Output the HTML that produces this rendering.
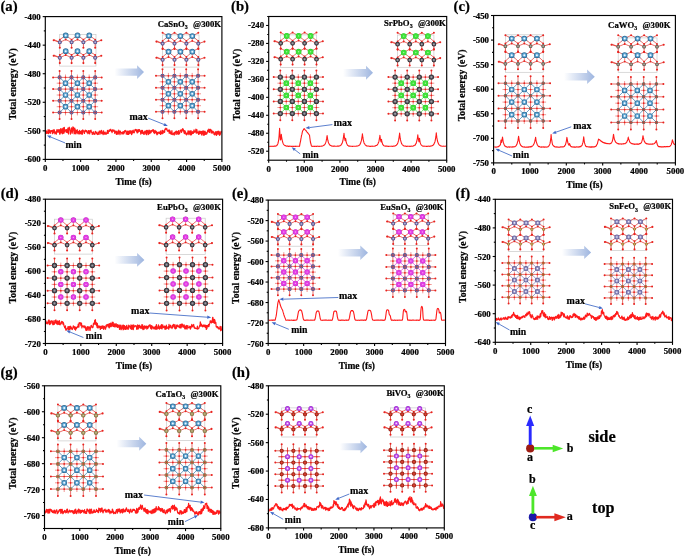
<!DOCTYPE html>
<html><head><meta charset="utf-8"><style>
html,body{margin:0;padding:0;background:#fff;overflow:hidden;}
svg{display:block;will-change:transform;}
text{font-family:"Liberation Serif", serif;stroke:#000;stroke-width:0.22px;}
</style></head><body>
<svg width="685" height="556" viewBox="0 0 685 556">
<rect width="685" height="556" fill="#fff"/>
<defs><linearGradient id="ga" x1="0" x2="1" y1="0" y2="0"><stop offset="0" stop-color="#ffffff"/><stop offset="0.25" stop-color="#e6ecf7"/><stop offset="0.75" stop-color="#b7c8e7"/><stop offset="1" stop-color="#9db5e0"/></linearGradient></defs>
<rect x="59.7" y="34.4" width="36.3" height="31.7" fill="none" stroke="#c9c9c9" stroke-width="0.7"/>
<rect x="162.6" y="34.9" width="36.4" height="32.2" fill="none" stroke="#c9c9c9" stroke-width="0.7"/>
<path d="M65.7 35.4L59.8 39.6M65.7 35.4L71.6 39.6M77.5 35.4L71.6 39.6M77.5 35.4L83.4 39.6M89.3 35.4L83.4 39.6M89.3 35.4L95.2 39.6M59.8 42.3L59.8 39.6M59.8 42.3L53.9 39.6M59.8 42.3L65.7 39.6M71.6 42.3L71.6 39.6M71.6 42.3L65.7 39.6M71.6 42.3L77.5 39.6M83.4 42.3L83.4 39.6M83.4 42.3L77.5 39.6M83.4 42.3L89.3 39.6M95.2 42.3L95.2 39.6M95.2 42.3L89.3 39.6M65.7 51.2L59.8 55M65.7 51.2L71.6 55M77.5 51.2L71.6 55M77.5 51.2L83.4 55M89.3 51.2L83.4 55M89.3 51.2L95.2 55M59.8 57.7L59.8 55M59.8 57.7L53.9 55M59.8 57.7L65.7 55M71.6 57.7L71.6 55M71.6 57.7L65.7 55M71.6 57.7L77.5 55M83.4 57.7L83.4 55M83.4 57.7L77.5 55M83.4 57.7L89.3 55M95.2 57.7L95.2 55M95.2 57.7L89.3 55M53.1 77.4L101.7 77.4M53.1 89.1L101.7 89.1M53.1 100.8L101.7 100.8M53.1 112.5L101.7 112.5M59.6 71L59.6 118.9M71.5 71L71.5 118.9M83.3 71L83.3 118.9M95.2 71L95.2 118.9M168.5 36.1L162.6 32.8M168.5 36.1L162.6 40.9M168.5 36.1L174.5 32.8M168.5 36.1L174.5 40.9M180.4 36.1L174.5 32.8M180.4 36.1L174.5 40.9M180.4 36.1L186.4 32.8M180.4 36.1L186.4 40.9M192.3 36.1L186.4 32.8M192.3 36.1L186.4 40.9M192.3 36.1L198.3 32.8M192.3 36.1L198.3 40.9M162.6 43.6L162.6 40.9M162.6 43.6L156.7 40.9M162.6 43.6L168.5 40.9M174.5 43.6L174.5 40.9M174.5 43.6L168.6 40.9M174.5 43.6L180.4 40.9M186.4 43.6L186.4 40.9M186.4 43.6L180.5 40.9M186.4 43.6L192.3 40.9M198.3 43.6L198.3 40.9M198.3 43.6L192.4 40.9M168.5 51.7L162.6 48.4M168.5 51.7L162.6 57M168.5 51.7L174.5 48.4M168.5 51.7L174.5 57M180.4 51.7L174.5 48.4M180.4 51.7L174.5 57M180.4 51.7L186.4 48.4M180.4 51.7L186.4 57M192.3 51.7L186.4 48.4M192.3 51.7L186.4 57M192.3 51.7L198.3 48.4M192.3 51.7L198.3 57M162.6 59.7L162.6 57M162.6 59.7L156.7 57M162.6 59.7L168.5 57M174.5 59.7L174.5 57M174.5 59.7L168.6 57M174.5 59.7L180.4 57M186.4 59.7L186.4 57M186.4 59.7L180.5 57M186.4 59.7L192.3 57M198.3 59.7L198.3 57M198.3 59.7L192.4 57M156 75.8L204.6 75.8M156 87.8L204.6 87.8M156 99.7L204.6 99.7M156 111.7L204.6 111.7M162.5 69.2L162.5 118.3M174.4 69.2L174.4 118.3M186.2 69.2L186.2 118.3M198.1 69.2L198.1 118.3" stroke="#e3322b" stroke-width="0.7" fill="none"/>
<path d="M65.7 35.4L62.8 37.5M65.7 35.4L68.7 37.5M77.5 35.4L74.5 37.5M77.5 35.4L80.5 37.5M89.3 35.4L86.3 37.5M89.3 35.4L92.2 37.5M65.7 51.2L62.8 53.1M65.7 51.2L68.7 53.1M77.5 51.2L74.5 53.1M77.5 51.2L80.5 53.1M89.3 51.2L86.3 53.1M89.3 51.2L92.2 53.1M168.5 36.1L165.6 34.5M168.5 36.1L165.6 38.5M168.5 36.1L171.5 34.5M168.5 36.1L171.5 38.5M180.4 36.1L177.5 34.5M180.4 36.1L177.5 38.5M180.4 36.1L183.4 34.5M180.4 36.1L183.4 38.5M192.3 36.1L189.4 34.5M192.3 36.1L189.4 38.5M192.3 36.1L195.3 34.5M192.3 36.1L195.3 38.5M168.5 51.7L165.6 50.1M168.5 51.7L165.6 54.4M168.5 51.7L171.5 50.1M168.5 51.7L171.5 54.4M180.4 51.7L177.5 50.1M180.4 51.7L177.5 54.4M180.4 51.7L183.4 50.1M180.4 51.7L183.4 54.4M192.3 51.7L189.4 50.1M192.3 51.7L189.4 54.4M192.3 51.7L195.3 50.1M192.3 51.7L195.3 54.4" stroke="#4a88b8" stroke-width="0.7" fill="none"/>
<path d="M65.7 35.4L65.7 39.6M77.5 35.4L77.5 39.6M89.3 35.4L89.3 39.6M65.7 51.2L65.7 55M77.5 51.2L77.5 55M89.3 51.2L89.3 55M168.5 36.1L168.5 40.9M180.4 36.1L180.4 40.9M192.3 36.1L192.3 40.9M168.5 51.7L168.5 57M180.4 51.7L180.4 57M192.3 51.7L192.3 57" stroke="#e3322b" stroke-width="0.6" fill="none"/>
<path d="M59.8 42.3L59.8 47.7M71.6 42.3L71.6 47.7M83.4 42.3L83.4 47.7M95.2 42.3L95.2 47.7M53.7 40.3L59.8 42.3M101.3 40.3L95.2 42.3M59.8 57.7L59.8 63.1M71.6 57.7L71.6 63.1M83.4 57.7L83.4 63.1M95.2 57.7L95.2 63.1M53.7 55.7L59.8 57.7M101.3 55.7L95.2 57.7M162.6 43.6L162.6 49M174.5 43.6L174.5 49M186.4 43.6L186.4 49M198.3 43.6L198.3 49M156.4 41.6L162.6 43.6M204.5 41.6L198.3 43.6M162.6 59.7L162.6 65.1M174.5 59.7L174.5 65.1M186.4 59.7L186.4 65.1M198.3 59.7L198.3 65.1M156.4 57.7L162.6 59.7M204.5 57.7L198.3 59.7" stroke="#e3322b" stroke-width="0.8" fill="none"/>
<path d="M56.7 83.2L62.5 83.2M68.5 83.2L74.4 83.2M80.4 83.2L86.2 83.2M92.2 83.2L98.1 83.2M56.7 95L62.5 95M68.5 95L74.4 95M80.4 95L86.2 95M92.2 95L98.1 95M56.7 106.7L62.5 106.7M68.5 106.7L74.4 106.7M80.4 106.7L86.2 106.7M92.2 106.7L98.1 106.7M65.5 74.5L65.5 80.3M65.5 86.2L65.5 92M65.5 97.9L65.5 103.7M65.5 109.6L65.5 115.4M77.4 74.5L77.4 80.3M77.4 86.2L77.4 92M77.4 97.9L77.4 103.7M77.4 109.6L77.4 115.4M89.2 74.5L89.2 80.3M89.2 86.2L89.2 92M89.2 97.9L89.2 103.7M89.2 109.6L89.2 115.4M159.6 81.8L165.4 81.8M171.5 81.8L177.3 81.8M183.3 81.8L189.1 81.8M195.2 81.8L201 81.8M159.6 93.8L165.4 93.8M171.5 93.8L177.3 93.8M183.3 93.8L189.1 93.8M195.2 93.8L201 93.8M159.6 105.7L165.4 105.7M171.5 105.7L177.3 105.7M183.3 105.7L189.1 105.7M195.2 105.7L201 105.7M168.4 72.9L168.4 78.7M168.4 84.9L168.4 90.7M168.4 96.8L168.4 102.6M168.4 108.8L168.4 114.6M180.3 72.9L180.3 78.7M180.3 84.9L180.3 90.7M180.3 96.8L180.3 102.6M180.3 108.8L180.3 114.6M192.2 72.9L192.2 78.7M192.2 84.9L192.2 90.7M192.2 96.8L192.2 102.6M192.2 108.8L192.2 114.6" stroke="#e3322b" stroke-width="0.6" opacity="0.85" fill="none"/>
<path d="M65.5 83.2L59.6 77.4M65.5 83.2L59.6 89.1M65.5 83.2L71.5 77.4M65.5 83.2L71.5 89.1M77.4 83.2L71.5 77.4M77.4 83.2L71.5 89.1M77.4 83.2L83.3 77.4M77.4 83.2L83.3 89.1M89.2 83.2L83.3 77.4M89.2 83.2L83.3 89.1M89.2 83.2L95.1 77.4M89.2 83.2L95.1 89.1M65.5 95L59.6 89.1M65.5 95L59.6 100.8M65.5 95L71.5 89.1M65.5 95L71.5 100.8M77.4 95L71.5 89.1M77.4 95L71.5 100.8M77.4 95L83.3 89.1M77.4 95L83.3 100.8M89.2 95L83.3 89.1M89.2 95L83.3 100.8M89.2 95L95.1 89.1M89.2 95L95.1 100.8M65.5 106.7L59.6 100.8M65.5 106.7L59.6 112.5M65.5 106.7L71.5 100.8M65.5 106.7L71.5 112.5M77.4 106.7L71.5 100.8M77.4 106.7L71.5 112.5M77.4 106.7L83.3 100.8M77.4 106.7L83.3 112.5M89.2 106.7L83.3 100.8M89.2 106.7L83.3 112.5M89.2 106.7L95.1 100.8M89.2 106.7L95.1 112.5M168.4 81.8L162.5 75.8M168.4 81.8L162.5 87.8M168.4 81.8L174.4 75.8M168.4 81.8L174.4 87.8M180.3 81.8L174.4 75.8M180.3 81.8L174.4 87.8M180.3 81.8L186.2 75.8M180.3 81.8L186.2 87.8M192.2 81.8L186.2 75.8M192.2 81.8L186.2 87.8M192.2 81.8L198.1 75.8M192.2 81.8L198.1 87.8M168.4 93.8L162.5 87.8M168.4 93.8L162.5 99.7M168.4 93.8L174.4 87.8M168.4 93.8L174.4 99.7M180.3 93.8L174.4 87.8M180.3 93.8L174.4 99.7M180.3 93.8L186.2 87.8M180.3 93.8L186.2 99.7M192.2 93.8L186.2 87.8M192.2 93.8L186.2 99.7M192.2 93.8L198.1 87.8M192.2 93.8L198.1 99.7M168.4 105.7L162.5 99.7M168.4 105.7L162.5 111.7M168.4 105.7L174.4 99.7M168.4 105.7L174.4 111.7M180.3 105.7L174.4 99.7M180.3 105.7L174.4 111.7M180.3 105.7L186.2 99.7M180.3 105.7L186.2 111.7M192.2 105.7L186.2 99.7M192.2 105.7L186.2 111.7M192.2 105.7L198.1 99.7M192.2 105.7L198.1 111.7" stroke="#4a88b8" stroke-width="0.8" fill="none"/>
<path d="M53.7 40.3h0M101.3 40.3h0M59.8 47.7h0M71.6 47.7h0M83.4 47.7h0M95.2 47.7h0M53.7 55.7h0M101.3 55.7h0M59.8 63.1h0M71.6 63.1h0M83.4 63.1h0M95.2 63.1h0M156.4 41.6h0M204.5 41.6h0M162.6 49h0M174.5 49h0M186.4 49h0M198.3 49h0M156.4 57.7h0M204.5 57.7h0M162.6 65.1h0M174.5 65.1h0M186.4 65.1h0M198.3 65.1h0" stroke="#e8231f" stroke-width="2.1" stroke-linecap="round" fill="none"/>
<path d="M59.8 39.6h0M65.7 39.6h0M71.6 39.6h0M77.5 39.6h0M83.4 39.6h0M89.3 39.6h0M95.2 39.6h0M59.8 55h0M65.7 55h0M71.6 55h0M77.5 55h0M83.4 55h0M89.3 55h0M95.2 55h0M162.6 40.9h0M168.5 40.9h0M174.5 40.9h0M180.4 40.9h0M186.4 40.9h0M192.3 40.9h0M198.3 40.9h0M162.6 57h0M168.5 57h0M174.5 57h0M180.4 57h0M186.4 57h0M192.3 57h0M198.3 57h0" stroke="#e8231f" stroke-width="1.9" stroke-linecap="round" fill="none"/>
<path d="M53.1 77.4h0M101.7 77.4h0M53.1 89.1h0M101.7 89.1h0M53.1 100.8h0M101.7 100.8h0M53.1 112.5h0M101.7 112.5h0M59.6 71h0M59.6 118.9h0M71.5 71h0M71.5 118.9h0M83.3 71h0M83.3 118.9h0M95.2 71h0M95.2 118.9h0M162.6 32.8h0M174.5 32.8h0M186.4 32.8h0M198.3 32.8h0M162.6 48.4h0M174.5 48.4h0M186.4 48.4h0M198.3 48.4h0M156 75.8h0M204.6 75.8h0M156 87.8h0M204.6 87.8h0M156 99.7h0M204.6 99.7h0M156 111.7h0M204.6 111.7h0M162.5 69.2h0M162.5 118.3h0M174.4 69.2h0M174.4 118.3h0M186.2 69.2h0M186.2 118.3h0M198.1 69.2h0M198.1 118.3h0" stroke="#e8231f" stroke-width="2.0" stroke-linecap="round" fill="none"/>
<path d="M65.5 77.4h0M77.4 77.4h0M89.2 77.4h0M65.5 89.1h0M77.4 89.1h0M89.2 89.1h0M65.5 100.8h0M77.4 100.8h0M89.2 100.8h0M65.5 112.5h0M77.4 112.5h0M89.2 112.5h0M59.6 83.2h0M71.5 83.2h0M83.3 83.2h0M95.2 83.2h0M59.6 95h0M71.5 95h0M83.3 95h0M95.2 95h0M59.6 106.7h0M71.5 106.7h0M83.3 106.7h0M95.2 106.7h0M168.4 75.8h0M180.3 75.8h0M192.2 75.8h0M168.4 87.8h0M180.3 87.8h0M192.2 87.8h0M168.4 99.7h0M180.3 99.7h0M192.2 99.7h0M168.4 111.7h0M180.3 111.7h0M192.2 111.7h0M162.5 81.8h0M174.4 81.8h0M186.2 81.8h0M198.1 81.8h0M162.5 93.8h0M174.4 93.8h0M186.2 93.8h0M198.1 93.8h0M162.5 105.7h0M174.4 105.7h0M186.2 105.7h0M198.1 105.7h0" stroke="#e8231f" stroke-width="1.7" stroke-linecap="round" fill="none"/>
<path d="M65.7 35.4h0M77.5 35.4h0M89.3 35.4h0M65.7 51.2h0M77.5 51.2h0M89.3 51.2h0M65.5 83.2h0M77.4 83.2h0M89.2 83.2h0M65.5 95h0M77.4 95h0M89.2 95h0M65.5 106.7h0M77.4 106.7h0M89.2 106.7h0M168.5 36.1h0M180.4 36.1h0M192.3 36.1h0M168.5 51.7h0M180.4 51.7h0M192.3 51.7h0M168.4 81.8h0M180.3 81.8h0M192.2 81.8h0M168.4 93.8h0M180.3 93.8h0M192.2 93.8h0M168.4 105.7h0M180.3 105.7h0M192.2 105.7h0" stroke="#2f6e98" stroke-width="5.7" stroke-linecap="round" fill="none"/>
<path d="M59.8 42.3h0M71.6 42.3h0M83.4 42.3h0M95.2 42.3h0M59.8 57.7h0M71.6 57.7h0M83.4 57.7h0M95.2 57.7h0M59.6 77.4h0M71.5 77.4h0M83.3 77.4h0M95.2 77.4h0M59.6 89.1h0M71.5 89.1h0M83.3 89.1h0M95.2 89.1h0M59.6 100.8h0M71.5 100.8h0M83.3 100.8h0M95.2 100.8h0M59.6 112.5h0M71.5 112.5h0M83.3 112.5h0M95.2 112.5h0M162.6 43.6h0M174.5 43.6h0M186.4 43.6h0M198.3 43.6h0M162.6 59.7h0M174.5 59.7h0M186.4 59.7h0M198.3 59.7h0M162.5 75.8h0M174.4 75.8h0M186.2 75.8h0M198.1 75.8h0M162.5 87.8h0M174.4 87.8h0M186.2 87.8h0M198.1 87.8h0M162.5 99.7h0M174.4 99.7h0M186.2 99.7h0M198.1 99.7h0M162.5 111.7h0M174.4 111.7h0M186.2 111.7h0M198.1 111.7h0" stroke="#4d4a84" stroke-width="4.1" stroke-linecap="round" fill="none"/>
<path d="M65.7 35.4h0M77.5 35.4h0M89.3 35.4h0M65.7 51.2h0M77.5 51.2h0M89.3 51.2h0M65.5 83.2h0M77.4 83.2h0M89.2 83.2h0M65.5 95h0M77.4 95h0M89.2 95h0M65.5 106.7h0M77.4 106.7h0M89.2 106.7h0M168.5 36.1h0M180.4 36.1h0M192.3 36.1h0M168.5 51.7h0M180.4 51.7h0M192.3 51.7h0M168.4 81.8h0M180.3 81.8h0M192.2 81.8h0M168.4 93.8h0M180.3 93.8h0M192.2 93.8h0M168.4 105.7h0M180.3 105.7h0M192.2 105.7h0" stroke="#5ea6d4" stroke-width="4.3" stroke-linecap="round" fill="none"/>
<path d="M59.8 42.3h0M71.6 42.3h0M83.4 42.3h0M95.2 42.3h0M59.8 57.7h0M71.6 57.7h0M83.4 57.7h0M95.2 57.7h0M59.6 77.4h0M71.5 77.4h0M83.3 77.4h0M95.2 77.4h0M59.6 89.1h0M71.5 89.1h0M83.3 89.1h0M95.2 89.1h0M59.6 100.8h0M71.5 100.8h0M83.3 100.8h0M95.2 100.8h0M59.6 112.5h0M71.5 112.5h0M83.3 112.5h0M95.2 112.5h0M162.6 43.6h0M174.5 43.6h0M186.4 43.6h0M198.3 43.6h0M162.6 59.7h0M174.5 59.7h0M186.4 59.7h0M198.3 59.7h0M162.5 75.8h0M174.4 75.8h0M186.2 75.8h0M198.1 75.8h0M162.5 87.8h0M174.4 87.8h0M186.2 87.8h0M198.1 87.8h0M162.5 99.7h0M174.4 99.7h0M186.2 99.7h0M198.1 99.7h0M162.5 111.7h0M174.4 111.7h0M186.2 111.7h0M198.1 111.7h0" stroke="#7471a8" stroke-width="3.1" stroke-linecap="round" fill="none"/>
<path d="M65.7 35.4h0M77.5 35.4h0M89.3 35.4h0M65.7 51.2h0M77.5 51.2h0M89.3 51.2h0M65.5 83.2h0M77.4 83.2h0M89.2 83.2h0M65.5 95h0M77.4 95h0M89.2 95h0M65.5 106.7h0M77.4 106.7h0M89.2 106.7h0M168.5 36.1h0M180.4 36.1h0M192.3 36.1h0M168.5 51.7h0M180.4 51.7h0M192.3 51.7h0M168.4 81.8h0M180.3 81.8h0M192.2 81.8h0M168.4 93.8h0M180.3 93.8h0M192.2 93.8h0M168.4 105.7h0M180.3 105.7h0M192.2 105.7h0" stroke="#f0f8ff" stroke-width="2.0" stroke-linecap="round" fill="none"/>
<path d="M59.8 42.3h0M71.6 42.3h0M83.4 42.3h0M95.2 42.3h0M59.8 57.7h0M71.6 57.7h0M83.4 57.7h0M95.2 57.7h0M162.6 43.6h0M174.5 43.6h0M186.4 43.6h0M198.3 43.6h0M162.6 59.7h0M174.5 59.7h0M186.4 59.7h0M198.3 59.7h0" stroke="#cfcde8" stroke-width="1.4" stroke-linecap="round" fill="none"/>
<path d="M59.6 77.4h0M71.5 77.4h0M83.3 77.4h0M95.2 77.4h0M59.6 89.1h0M71.5 89.1h0M83.3 89.1h0M95.2 89.1h0M59.6 100.8h0M71.5 100.8h0M83.3 100.8h0M95.2 100.8h0M59.6 112.5h0M71.5 112.5h0M83.3 112.5h0M95.2 112.5h0M162.5 75.8h0M174.4 75.8h0M186.2 75.8h0M198.1 75.8h0M162.5 87.8h0M174.4 87.8h0M186.2 87.8h0M198.1 87.8h0M162.5 99.7h0M174.4 99.7h0M186.2 99.7h0M198.1 99.7h0M162.5 111.7h0M174.4 111.7h0M186.2 111.7h0M198.1 111.7h0" stroke="#d0302a" stroke-width="1.6" stroke-linecap="round" fill="none"/>
<path d="M114.50,68.45 L137.10,68.45 L137.10,65.25 L144.00,72.10 L137.10,78.95 L137.10,75.75 L114.50,75.75 Z" fill="url(#ga)"/>
<polyline points="45.8,130.4 46.1,133.2 46.5,131.2 46.8,133.4 47.1,133.2 47.5,132.2 47.8,132.1 48.1,129.7 48.4,133.6 48.8,133.3 49.1,131.2 49.4,129.9 49.8,131.6 50.1,132.7 50.4,133.3 50.8,130.7 51.1,131 51.4,130.7 51.7,131.5 52.1,130.4 52.4,133.6 52.7,130.7 53.1,132.1 53.4,129.9 53.7,133 54,130.1 54.4,129.9 54.7,132 55,133.8 55.4,132.5 55.7,133 56,131.7 56.4,134.1 56.7,130.6 57,129.5 57.4,132.2 57.7,131.8 58,130.3 58.3,129.7 58.7,132.2 59,130.4 59.3,129.8 59.7,134.2 60,134.1 60.3,129.7 60.6,128.7 61,132.8 61.3,131.2 61.6,132.7 62,128.5 62.3,133.8 62.6,132.6 63,133.5 63.3,127.9 63.6,131 64,133.1 64.3,127.4 64.6,131.8 64.9,130.8 65.3,130.9 65.6,130.7 65.9,129.5 66.3,132.4 66.6,129.6 66.9,131 67.2,132.3 67.6,130.8 67.9,128.1 68.2,133.2 68.6,134 68.9,127.7 69.2,127.2 69.6,128.2 69.9,130 70.2,130 70.5,134.2 70.9,131.7 71.2,130.8 71.5,127.8 71.9,130.1 72.2,133.3 72.5,130.8 72.9,126.9 73.2,129.1 73.5,127.4 73.8,131 74.2,133.8 74.5,133.3 74.8,128 75.2,133.5 75.5,129.8 75.8,133.9 76.2,130.6 76.5,132.8 76.8,131.7 77.2,129.7 77.5,131.7 77.8,133.7 78.1,131.5 78.5,131.9 78.8,131.5 79.1,134.2 79.5,130.4 79.8,131.9 80.1,133.4 80.5,133.7 80.8,131.5 81.1,131.1 81.4,133.9 81.8,130.7 82.1,134.1 82.4,134.1 82.8,129.8 83.1,131 83.4,130.8 83.8,131 84.1,132.8 84.4,133.5 84.7,132.1 85.1,130.5 85.4,130.2 85.7,131.2 86.1,131.4 86.4,130.6 86.7,130.6 87,132.6 87.4,131.9 87.7,132.9 88,133.8 88.4,130.5 88.7,130.5 89,131.1 89.4,133.6 89.7,133.9 90,130.7 90.3,131 90.7,131.8 91,130 91.3,131.8 91.7,132.6 92,132.4 92.3,134.4 92.7,133.3 93,134.2 93.3,131.8 93.7,132.8 94,133.4 94.3,134.4 94.6,134 95,134.2 95.3,131.3 95.6,131.8 96,132.5 96.3,132.8 96.6,133.7 97,132 97.3,134.3 97.6,134.5 97.9,134 98.3,134.3 98.6,132.3 98.9,132.2 99.3,131 99.6,131 99.9,134.3 100.2,131.1 100.6,131 100.9,132.9 101.2,133.2 101.6,130.4 101.9,133.7 102.2,131.8 102.6,133.6 102.9,133 103.2,134.6 103.5,130.8 103.9,132 104.2,132.6 104.5,134.2 104.9,133.5 105.2,132 105.5,134.1 105.9,133.6 106.2,133.7 106.5,134.1 106.8,132.6 107.2,132.3 107.5,130.4 107.8,133.5 108.2,133.4 108.5,130.9 108.8,131.2 109.2,129.9 109.5,131.3 109.8,130.9 110.2,129.6 110.5,129.8 110.8,129.2 111.1,130.7 111.5,131.5 111.8,130.7 112.1,132.7 112.5,130.4 112.8,129.6 113.1,131 113.5,130.5 113.8,131.4 114.1,130.2 114.4,130.9 114.8,133.5 115.1,131.2 115.4,132.7 115.8,131.1 116.1,131.2 116.4,134.4 116.8,133.9 117.1,131.2 117.4,132.5 117.7,133.9 118.1,134.4 118.4,133.2 118.7,130.2 119.1,133.1 119.4,131.2 119.7,132.6 120,134.7 120.4,131.1 120.7,132.3 121,132.6 121.4,132.9 121.7,132.6 122,134.2 122.4,132.1 122.7,133.7 123,132 123.3,131.6 123.7,133.8 124,132.5 124.3,132.8 124.7,130.5 125,131 125.3,131.4 125.7,130.4 126,131.7 126.3,134.2 126.7,133.6 127,133.7 127.3,131 127.6,134.5 128,134 128.3,131.1 128.6,134.5 129,132.7 129.3,133.6 129.6,130.8 129.9,131 130.3,133.2 130.6,130.8 130.9,130.7 131.3,133.6 131.6,134.7 131.9,133.8 132.3,130.8 132.6,132.7 132.9,132.9 133.2,130.2 133.6,132.5 133.9,132.2 134.2,132.8 134.6,131.4 134.9,130.1 135.2,129.4 135.6,130.3 135.9,129.7 136.2,130.4 136.6,131.9 136.9,129.5 137.2,132.9 137.5,130.1 137.9,132.6 138.2,131.5 138.5,129.7 138.9,131.5 139.2,129.7 139.5,129.7 139.8,131.2 140.2,131.6 140.5,131.8 140.8,134.1 141.2,130.3 141.5,130.8 141.8,133.1 142.2,130.7 142.5,130.4 142.8,133.5 143.2,133.6 143.5,134 143.8,132.1 144.1,134.5 144.5,132.7 144.8,131.2 145.1,132.6 145.5,132.4 145.8,133.9 146.1,130.5 146.4,134.7 146.8,130.3 147.1,130.4 147.4,133 147.8,130.9 148.1,134.6 148.4,134.4 148.8,130.9 149.1,130 149.4,132.6 149.8,133.7 150.1,130.6 150.4,132.9 150.7,132.6 151.1,132.7 151.4,130.5 151.7,130.5 152.1,131.1 152.4,129.8 152.7,131.1 153.1,129.8 153.4,129.7 153.7,132.6 154,130.8 154.4,133.1 154.7,133.5 155,130.4 155.4,131.1 155.7,132.6 156,131.9 156.3,131.3 156.7,134.1 157,134.8 157.3,132.6 157.7,134.2 158,132.1 158.3,132.2 158.7,132.8 159,133.3 159.3,132 159.7,133.6 160,133.6 160.3,131.6 160.6,134.5 161,130.5 161.3,133.1 161.6,133.4 162,133.7 162.3,133.3 162.6,130.4 162.9,133.7 163.3,132.3 163.6,131 163.9,131.8 164.3,130.7 164.6,132.5 164.9,129 165.3,129.2 165.6,129.4 165.9,128.2 166.2,128.7 166.6,129.3 166.9,128.8 167.2,130.6 167.6,131.2 167.9,131.3 168.2,130.6 168.6,131.3 168.9,129.9 169.2,133.3 169.6,130.2 169.9,130.7 170.2,131.4 170.5,133.4 170.9,132.2 171.2,134.4 171.5,134 171.9,130.7 172.2,133.8 172.5,134.3 172.8,134.6 173.2,133.7 173.5,133.7 173.8,132.9 174.2,135.1 174.5,132.4 174.8,132.5 175.2,134.2 175.5,131.5 175.8,131.5 176.2,131.1 176.5,131.3 176.8,134.4 177.1,133.7 177.5,131.6 177.8,133.6 178.1,133.1 178.5,130.6 178.8,134.4 179.1,132.7 179.4,133.6 179.8,132.9 180.1,130.4 180.4,130.9 180.8,130.2 181.1,129.8 181.4,132.3 181.8,131.7 182.1,130.9 182.4,129.2 182.8,128.6 183.1,130.1 183.4,129.5 183.7,131.4 184.1,132.9 184.4,133.6 184.7,130.5 185.1,131 185.4,132 185.7,133.6 186.1,134.6 186.4,133 186.7,134.8 187,134 187.4,132.9 187.7,134 188,130.8 188.4,131 188.7,133.9 189,134.7 189.3,131 189.7,133.3 190,131.2 190.3,134 190.7,134.9 191,130.6 191.3,134.9 191.7,133.8 192,133.9 192.3,131.5 192.7,133.3 193,132.8 193.3,133.4 193.6,131.9 194,129.8 194.3,131.6 194.6,132.3 195,131.3 195.3,131.8 195.6,131.5 195.9,129.2 196.3,133.1 196.6,132.6 196.9,129.6 197.3,133 197.6,133 197.9,132.3 198.3,132.7 198.6,134.5 198.9,131.2 199.2,132.2 199.6,133.9 199.9,131.1 200.2,131.2 200.6,132.4 200.9,133.7 201.2,131.7 201.6,135 201.9,131.3 202.2,133.6 202.6,131.5 202.9,130.9 203.2,135.1 203.5,131 203.9,135.2 204.2,131.9 204.5,134.9 204.9,131 205.2,132 205.5,134.5 205.8,132.3 206.2,132.8 206.5,134.2 206.8,133.8 207.2,132.7 207.5,131.5 207.8,130.2 208.2,129.8 208.5,131.5 208.8,129 209.2,132.5 209.5,132.4 209.8,130.2 210.1,129.3 210.5,129.9 210.8,129.5 211.1,132.8 211.5,131.2 211.8,130.4 212.1,133.1 212.4,132.9 212.8,132.7 213.1,131.4 213.4,132.2 213.8,132.8 214.1,134.6 214.4,134.8 214.8,134.3 215.1,132.5 215.4,131.7 215.8,134.1 216.1,134.7 216.4,135.4 216.7,131.5 217.1,132 217.4,134 217.7,131.4 218.1,134.7 218.4,133.6 218.7,131.2 219.1,133.4 219.4,131.9 219.7,135.5 220,133.3 220.4,134.3 220.7,133.2 221,131.3 221.4,132.6" fill="none" stroke="#ff1a1a" stroke-width="1.2" stroke-linejoin="round"/>
<rect x="45.30" y="16.60" width="176.60" height="142.80" fill="none" stroke="#000" stroke-width="1.15"/>
<line x1="42.70" y1="159.40" x2="45.30" y2="159.40" stroke="#000" stroke-width="1.1"/>
<text transform="translate(40.70,162.40) scale(1.0,1)" font-size="8.8" text-anchor="end" font-weight="bold" fill="#000">-600</text>
<line x1="43.80" y1="145.12" x2="45.30" y2="145.12" stroke="#000" stroke-width="1.1"/>
<line x1="42.70" y1="130.84" x2="45.30" y2="130.84" stroke="#000" stroke-width="1.1"/>
<text transform="translate(40.70,133.84) scale(1.0,1)" font-size="8.8" text-anchor="end" font-weight="bold" fill="#000">-560</text>
<line x1="43.80" y1="116.56" x2="45.30" y2="116.56" stroke="#000" stroke-width="1.1"/>
<line x1="42.70" y1="102.28" x2="45.30" y2="102.28" stroke="#000" stroke-width="1.1"/>
<text transform="translate(40.70,105.28) scale(1.0,1)" font-size="8.8" text-anchor="end" font-weight="bold" fill="#000">-520</text>
<line x1="43.80" y1="88.00" x2="45.30" y2="88.00" stroke="#000" stroke-width="1.1"/>
<line x1="42.70" y1="73.72" x2="45.30" y2="73.72" stroke="#000" stroke-width="1.1"/>
<text transform="translate(40.70,76.72) scale(1.0,1)" font-size="8.8" text-anchor="end" font-weight="bold" fill="#000">-480</text>
<line x1="43.80" y1="59.44" x2="45.30" y2="59.44" stroke="#000" stroke-width="1.1"/>
<line x1="42.70" y1="45.16" x2="45.30" y2="45.16" stroke="#000" stroke-width="1.1"/>
<text transform="translate(40.70,48.16) scale(1.0,1)" font-size="8.8" text-anchor="end" font-weight="bold" fill="#000">-440</text>
<line x1="43.80" y1="30.88" x2="45.30" y2="30.88" stroke="#000" stroke-width="1.1"/>
<line x1="42.70" y1="16.60" x2="45.30" y2="16.60" stroke="#000" stroke-width="1.1"/>
<text transform="translate(40.70,19.60) scale(1.0,1)" font-size="8.8" text-anchor="end" font-weight="bold" fill="#000">-400</text>
<line x1="45.30" y1="159.40" x2="45.30" y2="162.00" stroke="#000" stroke-width="1.1"/>
<text transform="translate(45.30,170.90) scale(1.0,1)" font-size="8.8" text-anchor="middle" font-weight="bold" fill="#000">0</text>
<line x1="62.96" y1="159.40" x2="62.96" y2="160.90" stroke="#000" stroke-width="1.1"/>
<line x1="80.62" y1="159.40" x2="80.62" y2="162.00" stroke="#000" stroke-width="1.1"/>
<text transform="translate(80.62,170.90) scale(1.0,1)" font-size="8.8" text-anchor="middle" font-weight="bold" fill="#000">1000</text>
<line x1="98.28" y1="159.40" x2="98.28" y2="160.90" stroke="#000" stroke-width="1.1"/>
<line x1="115.94" y1="159.40" x2="115.94" y2="162.00" stroke="#000" stroke-width="1.1"/>
<text transform="translate(115.94,170.90) scale(1.0,1)" font-size="8.8" text-anchor="middle" font-weight="bold" fill="#000">2000</text>
<line x1="133.60" y1="159.40" x2="133.60" y2="160.90" stroke="#000" stroke-width="1.1"/>
<line x1="151.26" y1="159.40" x2="151.26" y2="162.00" stroke="#000" stroke-width="1.1"/>
<text transform="translate(151.26,170.90) scale(1.0,1)" font-size="8.8" text-anchor="middle" font-weight="bold" fill="#000">3000</text>
<line x1="168.92" y1="159.40" x2="168.92" y2="160.90" stroke="#000" stroke-width="1.1"/>
<line x1="186.58" y1="159.40" x2="186.58" y2="162.00" stroke="#000" stroke-width="1.1"/>
<text transform="translate(186.58,170.90) scale(1.0,1)" font-size="8.8" text-anchor="middle" font-weight="bold" fill="#000">4000</text>
<line x1="204.24" y1="159.40" x2="204.24" y2="160.90" stroke="#000" stroke-width="1.1"/>
<line x1="221.90" y1="159.40" x2="221.90" y2="162.00" stroke="#000" stroke-width="1.1"/>
<text transform="translate(221.90,170.90) scale(1.0,1)" font-size="8.8" text-anchor="middle" font-weight="bold" fill="#000">5000</text>
<text transform="translate(133.60,184.60) scale(0.92,1)" font-size="10.3" text-anchor="middle" font-weight="bold" fill="#000">Time (fs)</text>
<text transform="translate(16.30,84.20) rotate(-90) scale(1,0.96)" font-size="9.7" text-anchor="middle" font-weight="bold">Total energy (eV)</text>
<text transform="translate(0.40,10.50) scale(0.97,1)" font-size="15.2" text-anchor="start" font-weight="bold" fill="#000">(a)</text>
<text transform="translate(157.70,27.00) scale(0.99,1)" font-size="8.8" font-weight="bold">CaSnO<tspan font-size="6" dy="2.3">3</tspan><tspan dy="-2.3" dx="5.4" font-size="8.8">@300K</tspan></text>
<text transform="translate(129.40,119.80) scale(0.95,1)" font-size="10.5" text-anchor="start" font-weight="bold" fill="#000">max</text>
<line x1="148.10" y1="118.10" x2="164.09" y2="124.51" stroke="#4a72c8" stroke-width="0.9"/>
<path d="M167.80,126.00 L163.49,126.00 L164.68,123.03 Z" fill="#3f68c8"/>
<text transform="translate(65.50,148.00) scale(0.93,1)" font-size="10.5" text-anchor="start" font-weight="bold" fill="#000">min</text>
<line x1="65.00" y1="142.90" x2="50.70" y2="137.02" stroke="#4a72c8" stroke-width="0.9"/>
<path d="M47.00,135.50 L51.31,135.54 L50.09,138.50 Z" fill="#3f68c8"/>
<rect x="280.4" y="34.9" width="36.3" height="32.7" fill="none" stroke="#c9c9c9" stroke-width="0.7"/>
<rect x="397.6" y="35" width="36.3" height="32.3" fill="none" stroke="#c9c9c9" stroke-width="0.7"/>
<path d="M286.7 35.9L280.7 32.6M286.7 35.9L280.7 40.6M286.7 35.9L292.6 32.6M286.7 35.9L292.6 40.6M298.6 35.9L292.6 32.6M298.6 35.9L292.6 40.6M298.6 35.9L304.6 32.6M298.6 35.9L304.6 40.6M310.6 35.9L304.6 32.6M310.6 35.9L304.6 40.6M310.6 35.9L316.5 32.6M310.6 35.9L316.5 40.6M280.7 43.3L280.7 40.6M280.7 43.3L274.7 40.6M280.7 43.3L286.7 40.6M292.6 43.3L292.6 40.6M292.6 43.3L286.7 40.6M292.6 43.3L298.6 40.6M304.6 43.3L304.6 40.6M304.6 43.3L298.6 40.6M304.6 43.3L310.6 40.6M316.5 43.3L316.5 40.6M316.5 43.3L310.6 40.6M286.7 51.7L280.7 48.4M286.7 51.7L280.7 56.5M286.7 51.7L292.6 48.4M286.7 51.7L292.6 56.5M298.6 51.7L292.6 48.4M298.6 51.7L292.6 56.5M298.6 51.7L304.6 48.4M298.6 51.7L304.6 56.5M310.6 51.7L304.6 48.4M310.6 51.7L304.6 56.5M310.6 51.7L316.5 48.4M310.6 51.7L316.5 56.5M280.7 59.2L280.7 56.5M280.7 59.2L274.7 56.5M280.7 59.2L286.7 56.5M292.6 59.2L292.6 56.5M292.6 59.2L286.7 56.5M292.6 59.2L298.6 56.5M304.6 59.2L304.6 56.5M304.6 59.2L298.6 56.5M304.6 59.2L310.6 56.5M316.5 59.2L316.5 56.5M316.5 59.2L310.6 56.5M273.7 77.1L323 77.1M273.7 89.3L323 89.3M273.7 101.4L323 101.4M273.7 113.6L323 113.6M280.3 70.4L280.3 120.3M292.3 70.4L292.3 120.3M304.4 70.4L304.4 120.3M316.4 70.4L316.4 120.3M403.7 36.1L397.6 32.8M403.7 36.1L397.6 41.5M403.7 36.1L409.7 32.8M403.7 36.1L409.7 41.5M415.8 36.1L409.7 32.8M415.8 36.1L409.7 41.5M415.8 36.1L421.8 32.8M415.8 36.1L421.8 41.5M427.9 36.1L421.8 32.8M427.9 36.1L421.8 41.5M427.9 36.1L433.9 32.8M427.9 36.1L433.9 41.5M397.6 44.2L397.6 41.5M397.6 44.2L391.6 41.5M397.6 44.2L403.7 41.5M409.7 44.2L409.7 41.5M409.7 44.2L403.7 41.5M409.7 44.2L415.8 41.5M421.8 44.2L421.8 41.5M421.8 44.2L415.8 41.5M421.8 44.2L427.9 41.5M433.9 44.2L433.9 41.5M433.9 44.2L427.9 41.5M403.7 52.5L397.6 49.2M403.7 52.5L397.6 57.4M403.7 52.5L409.7 49.2M403.7 52.5L409.7 57.4M415.8 52.5L409.7 49.2M415.8 52.5L409.7 57.4M415.8 52.5L421.8 49.2M415.8 52.5L421.8 57.4M427.9 52.5L421.8 49.2M427.9 52.5L421.8 57.4M427.9 52.5L433.9 49.2M427.9 52.5L433.9 57.4M397.6 60.1L397.6 57.4M397.6 60.1L391.6 57.4M397.6 60.1L403.7 57.4M409.7 60.1L409.7 57.4M409.7 60.1L403.7 57.4M409.7 60.1L415.8 57.4M421.8 60.1L421.8 57.4M421.8 60.1L415.8 57.4M421.8 60.1L427.9 57.4M433.9 60.1L433.9 57.4M433.9 60.1L427.9 57.4M388.4 77.1L438.1 77.1M388.4 89.3L438.1 89.3M388.4 101.6L438.1 101.6M388.4 113.8L438.1 113.8M395.1 70.4L395.1 120.5M407.2 70.4L407.2 120.5M419.3 70.4L419.3 120.5M431.4 70.4L431.4 120.5" stroke="#e3322b" stroke-width="0.7" fill="none"/>
<path d="M286.7 35.9L283.7 34.2M286.7 35.9L283.7 38.2M286.7 35.9L289.7 34.2M286.7 35.9L289.7 38.2M298.6 35.9L295.6 34.2M298.6 35.9L295.6 38.2M298.6 35.9L301.6 34.2M298.6 35.9L301.6 38.2M310.6 35.9L307.6 34.2M310.6 35.9L307.6 38.2M310.6 35.9L313.6 34.2M310.6 35.9L313.6 38.2M286.7 51.7L283.7 50.1M286.7 51.7L283.7 54.1M286.7 51.7L289.7 50.1M286.7 51.7L289.7 54.1M298.6 51.7L295.6 50.1M298.6 51.7L295.6 54.1M298.6 51.7L301.6 50.1M298.6 51.7L301.6 54.1M310.6 51.7L307.6 50.1M310.6 51.7L307.6 54.1M310.6 51.7L313.6 50.1M310.6 51.7L313.6 54.1M403.7 36.1L400.6 34.5M403.7 36.1L400.6 38.8M403.7 36.1L406.7 34.5M403.7 36.1L406.7 38.8M415.8 36.1L412.7 34.5M415.8 36.1L412.7 38.8M415.8 36.1L418.8 34.5M415.8 36.1L418.8 38.8M427.9 36.1L424.8 34.5M427.9 36.1L424.8 38.8M427.9 36.1L430.9 34.5M427.9 36.1L430.9 38.8M403.7 52.5L400.6 50.9M403.7 52.5L400.6 55M403.7 52.5L406.7 50.9M403.7 52.5L406.7 55M415.8 52.5L412.7 50.9M415.8 52.5L412.7 55M415.8 52.5L418.8 50.9M415.8 52.5L418.8 55M427.9 52.5L424.8 50.9M427.9 52.5L424.8 55M427.9 52.5L430.9 50.9M427.9 52.5L430.9 55" stroke="#50dd50" stroke-width="0.7" fill="none"/>
<path d="M286.7 35.9L286.7 40.6M298.6 35.9L298.6 40.6M310.6 35.9L310.6 40.6M286.7 51.7L286.7 56.5M298.6 51.7L298.6 56.5M310.6 51.7L310.6 56.5M403.7 36.1L403.7 41.5M415.8 36.1L415.8 41.5M427.9 36.1L427.9 41.5M403.7 52.5L403.7 57.4M415.8 52.5L415.8 57.4M427.9 52.5L427.9 57.4" stroke="#e3322b" stroke-width="0.6" fill="none"/>
<path d="M280.7 43.3L280.7 48.7M292.6 43.3L292.6 48.7M304.6 43.3L304.6 48.7M316.5 43.3L316.5 48.7M274.5 41.3L280.7 43.3M322.8 41.3L316.5 43.3M280.7 59.2L280.7 64.6M292.6 59.2L292.6 64.6M304.6 59.2L304.6 64.6M316.5 59.2L316.5 64.6M274.5 57.2L280.7 59.2M322.8 57.2L316.5 59.2M397.6 44.2L397.6 49.6M409.7 44.2L409.7 49.6M421.8 44.2L421.8 49.6M433.9 44.2L433.9 49.6M391.3 42.2L397.6 44.2M440.2 42.2L433.9 44.2M397.6 60.1L397.6 65.5M409.7 60.1L409.7 65.5M421.8 60.1L421.8 65.5M433.9 60.1L433.9 65.5M391.3 58.1L397.6 60.1M440.2 58.1L433.9 60.1" stroke="#e3322b" stroke-width="0.8" fill="none"/>
<path d="M277.4 83.2L283.2 83.2M289.4 83.2L295.2 83.2M301.5 83.2L307.3 83.2M313.5 83.2L319.3 83.2M277.4 95.4L283.2 95.4M289.4 95.4L295.2 95.4M301.5 95.4L307.3 95.4M313.5 95.4L319.3 95.4M277.4 107.5L283.2 107.5M289.4 107.5L295.2 107.5M301.5 107.5L307.3 107.5M313.5 107.5L319.3 107.5M286.3 74.2L286.3 80M286.3 86.4L286.3 92.2M286.3 98.5L286.3 104.3M286.3 110.7L286.3 116.5M298.3 74.2L298.3 80M298.3 86.4L298.3 92.2M298.3 98.5L298.3 104.3M298.3 110.7L298.3 116.5M310.4 74.2L310.4 80M310.4 86.4L310.4 92.2M310.4 98.5L310.4 104.3M310.4 110.7L310.4 116.5M392.2 83.2L398 83.2M404.3 83.2L410.1 83.2M416.4 83.2L422.2 83.2M428.5 83.2L434.3 83.2M392.2 95.4L398 95.4M404.3 95.4L410.1 95.4M416.4 95.4L422.2 95.4M428.5 95.4L434.3 95.4M392.2 107.7L398 107.7M404.3 107.7L410.1 107.7M416.4 107.7L422.2 107.7M428.5 107.7L434.3 107.7M401.2 74.2L401.2 80M401.2 86.4L401.2 92.2M401.2 98.7L401.2 104.5M401.2 110.9L401.2 116.7M413.2 74.2L413.2 80M413.2 86.4L413.2 92.2M413.2 98.7L413.2 104.5M413.2 110.9L413.2 116.7M425.4 74.2L425.4 80M425.4 86.4L425.4 92.2M425.4 98.7L425.4 104.5M425.4 110.9L425.4 116.7" stroke="#e3322b" stroke-width="0.6" opacity="0.85" fill="none"/>
<path d="M286.3 83.2L280.3 77.1M286.3 83.2L280.3 89.3M286.3 83.2L292.3 77.1M286.3 83.2L292.3 89.3M298.3 83.2L292.3 77.1M298.3 83.2L292.3 89.3M298.3 83.2L304.4 77.1M298.3 83.2L304.4 89.3M310.4 83.2L304.4 77.1M310.4 83.2L304.4 89.3M310.4 83.2L316.4 77.1M310.4 83.2L316.4 89.3M286.3 95.4L280.3 89.3M286.3 95.4L280.3 101.4M286.3 95.4L292.3 89.3M286.3 95.4L292.3 101.4M298.3 95.4L292.3 89.3M298.3 95.4L292.3 101.4M298.3 95.4L304.4 89.3M298.3 95.4L304.4 101.4M310.4 95.4L304.4 89.3M310.4 95.4L304.4 101.4M310.4 95.4L316.4 89.3M310.4 95.4L316.4 101.4M286.3 107.5L280.3 101.4M286.3 107.5L280.3 113.6M286.3 107.5L292.3 101.4M286.3 107.5L292.3 113.6M298.3 107.5L292.3 101.4M298.3 107.5L292.3 113.6M298.3 107.5L304.4 101.4M298.3 107.5L304.4 113.6M310.4 107.5L304.4 101.4M310.4 107.5L304.4 113.6M310.4 107.5L316.4 101.4M310.4 107.5L316.4 113.6M401.2 83.2L395.1 77.1M401.2 83.2L395.1 89.3M401.2 83.2L407.2 77.1M401.2 83.2L407.2 89.3M413.2 83.2L407.2 77.1M413.2 83.2L407.2 89.3M413.2 83.2L419.3 77.1M413.2 83.2L419.3 89.3M425.4 83.2L419.3 77.1M425.4 83.2L419.3 89.3M425.4 83.2L431.4 77.1M425.4 83.2L431.4 89.3M401.2 95.4L395.1 89.3M401.2 95.4L395.1 101.6M401.2 95.4L407.2 89.3M401.2 95.4L407.2 101.6M413.2 95.4L407.2 89.3M413.2 95.4L407.2 101.6M413.2 95.4L419.3 89.3M413.2 95.4L419.3 101.6M425.4 95.4L419.3 89.3M425.4 95.4L419.3 101.6M425.4 95.4L431.4 89.3M425.4 95.4L431.4 101.6M401.2 107.7L395.1 101.6M401.2 107.7L395.1 113.8M401.2 107.7L407.2 101.6M401.2 107.7L407.2 113.8M413.2 107.7L407.2 101.6M413.2 107.7L407.2 113.8M413.2 107.7L419.3 101.6M413.2 107.7L419.3 113.8M425.4 107.7L419.3 101.6M425.4 107.7L419.3 113.8M425.4 107.7L431.4 101.6M425.4 107.7L431.4 113.8" stroke="#50dd50" stroke-width="0.8" fill="none"/>
<path d="M274.5 41.3h0M322.8 41.3h0M280.7 48.7h0M292.6 48.7h0M304.6 48.7h0M316.5 48.7h0M274.5 57.2h0M322.8 57.2h0M280.7 64.6h0M292.6 64.6h0M304.6 64.6h0M316.5 64.6h0M391.3 42.2h0M440.2 42.2h0M397.6 49.6h0M409.7 49.6h0M421.8 49.6h0M433.9 49.6h0M391.3 58.1h0M440.2 58.1h0M397.6 65.5h0M409.7 65.5h0M421.8 65.5h0M433.9 65.5h0" stroke="#e8231f" stroke-width="2.1" stroke-linecap="round" fill="none"/>
<path d="M280.7 32.6h0M292.6 32.6h0M304.6 32.6h0M316.5 32.6h0M280.7 48.4h0M292.6 48.4h0M304.6 48.4h0M316.5 48.4h0M273.7 77.1h0M323 77.1h0M273.7 89.3h0M323 89.3h0M273.7 101.4h0M323 101.4h0M273.7 113.6h0M323 113.6h0M280.3 70.4h0M280.3 120.3h0M292.3 70.4h0M292.3 120.3h0M304.4 70.4h0M304.4 120.3h0M316.4 70.4h0M316.4 120.3h0M397.6 32.8h0M409.7 32.8h0M421.8 32.8h0M433.9 32.8h0M397.6 49.2h0M409.7 49.2h0M421.8 49.2h0M433.9 49.2h0M388.4 77.1h0M438.1 77.1h0M388.4 89.3h0M438.1 89.3h0M388.4 101.6h0M438.1 101.6h0M388.4 113.8h0M438.1 113.8h0M395.1 70.4h0M395.1 120.5h0M407.2 70.4h0M407.2 120.5h0M419.3 70.4h0M419.3 120.5h0M431.4 70.4h0M431.4 120.5h0" stroke="#e8231f" stroke-width="2.0" stroke-linecap="round" fill="none"/>
<path d="M280.7 40.6h0M286.7 40.6h0M292.6 40.6h0M298.6 40.6h0M304.6 40.6h0M310.6 40.6h0M316.5 40.6h0M280.7 56.5h0M286.7 56.5h0M292.6 56.5h0M298.6 56.5h0M304.6 56.5h0M310.6 56.5h0M316.5 56.5h0M397.6 41.5h0M403.7 41.5h0M409.7 41.5h0M415.8 41.5h0M421.8 41.5h0M427.9 41.5h0M433.9 41.5h0M397.6 57.4h0M403.7 57.4h0M409.7 57.4h0M415.8 57.4h0M421.8 57.4h0M427.9 57.4h0M433.9 57.4h0" stroke="#e8231f" stroke-width="1.9" stroke-linecap="round" fill="none"/>
<path d="M286.3 77.1h0M298.3 77.1h0M310.4 77.1h0M286.3 89.3h0M298.3 89.3h0M310.4 89.3h0M286.3 101.4h0M298.3 101.4h0M310.4 101.4h0M286.3 113.6h0M298.3 113.6h0M310.4 113.6h0M280.3 83.2h0M292.3 83.2h0M304.4 83.2h0M316.4 83.2h0M280.3 95.4h0M292.3 95.4h0M304.4 95.4h0M316.4 95.4h0M280.3 107.5h0M292.3 107.5h0M304.4 107.5h0M316.4 107.5h0M401.2 77.1h0M413.2 77.1h0M425.4 77.1h0M401.2 89.3h0M413.2 89.3h0M425.4 89.3h0M401.2 101.6h0M413.2 101.6h0M425.4 101.6h0M401.2 113.8h0M413.2 113.8h0M425.4 113.8h0M395.1 83.2h0M407.2 83.2h0M419.3 83.2h0M431.4 83.2h0M395.1 95.4h0M407.2 95.4h0M419.3 95.4h0M431.4 95.4h0M395.1 107.7h0M407.2 107.7h0M419.3 107.7h0M431.4 107.7h0" stroke="#e8231f" stroke-width="1.7" stroke-linecap="round" fill="none"/>
<path d="M286.7 35.9h0M298.6 35.9h0M310.6 35.9h0M286.7 51.7h0M298.6 51.7h0M310.6 51.7h0M286.3 83.2h0M298.3 83.2h0M310.4 83.2h0M286.3 95.4h0M298.3 95.4h0M310.4 95.4h0M286.3 107.5h0M298.3 107.5h0M310.4 107.5h0M403.7 36.1h0M415.8 36.1h0M427.9 36.1h0M403.7 52.5h0M415.8 52.5h0M427.9 52.5h0M401.2 83.2h0M413.2 83.2h0M425.4 83.2h0M401.2 95.4h0M413.2 95.4h0M425.4 95.4h0M401.2 107.7h0M413.2 107.7h0M425.4 107.7h0" stroke="#2bc628" stroke-width="5.7" stroke-linecap="round" fill="none"/>
<path d="M280.7 43.3h0M292.6 43.3h0M304.6 43.3h0M316.5 43.3h0M280.7 59.2h0M292.6 59.2h0M304.6 59.2h0M316.5 59.2h0M397.6 44.2h0M409.7 44.2h0M421.8 44.2h0M433.9 44.2h0M397.6 60.1h0M409.7 60.1h0M421.8 60.1h0M433.9 60.1h0" stroke="#2a2a2e" stroke-width="4.7" stroke-linecap="round" fill="none"/>
<path d="M280.3 77.1h0M292.3 77.1h0M304.4 77.1h0M316.4 77.1h0M280.3 89.3h0M292.3 89.3h0M304.4 89.3h0M316.4 89.3h0M280.3 101.4h0M292.3 101.4h0M304.4 101.4h0M316.4 101.4h0M280.3 113.6h0M292.3 113.6h0M304.4 113.6h0M316.4 113.6h0M395.1 77.1h0M407.2 77.1h0M419.3 77.1h0M431.4 77.1h0M395.1 89.3h0M407.2 89.3h0M419.3 89.3h0M431.4 89.3h0M395.1 101.6h0M407.2 101.6h0M419.3 101.6h0M431.4 101.6h0M395.1 113.8h0M407.2 113.8h0M419.3 113.8h0M431.4 113.8h0" stroke="#2a2a2e" stroke-width="5.33" stroke-linecap="round" fill="none"/>
<path d="M286.7 35.9h0M298.6 35.9h0M310.6 35.9h0M286.7 51.7h0M298.6 51.7h0M310.6 51.7h0M286.3 83.2h0M298.3 83.2h0M310.4 83.2h0M286.3 95.4h0M298.3 95.4h0M310.4 95.4h0M286.3 107.5h0M298.3 107.5h0M310.4 107.5h0M403.7 36.1h0M415.8 36.1h0M427.9 36.1h0M403.7 52.5h0M415.8 52.5h0M427.9 52.5h0M401.2 83.2h0M413.2 83.2h0M425.4 83.2h0M401.2 95.4h0M413.2 95.4h0M425.4 95.4h0M401.2 107.7h0M413.2 107.7h0M425.4 107.7h0" stroke="#3ee23a" stroke-width="5.1" stroke-linecap="round" fill="none"/>
<path d="M280.7 43.3h0M292.6 43.3h0M304.6 43.3h0M316.5 43.3h0M280.7 59.2h0M292.6 59.2h0M304.6 59.2h0M316.5 59.2h0M397.6 44.2h0M409.7 44.2h0M421.8 44.2h0M433.9 44.2h0M397.6 60.1h0M409.7 60.1h0M421.8 60.1h0M433.9 60.1h0" stroke="#4c4c54" stroke-width="3.7" stroke-linecap="round" fill="none"/>
<path d="M280.3 77.1h0M292.3 77.1h0M304.4 77.1h0M316.4 77.1h0M280.3 89.3h0M292.3 89.3h0M304.4 89.3h0M316.4 89.3h0M280.3 101.4h0M292.3 101.4h0M304.4 101.4h0M316.4 101.4h0M280.3 113.6h0M292.3 113.6h0M304.4 113.6h0M316.4 113.6h0M395.1 77.1h0M407.2 77.1h0M419.3 77.1h0M431.4 77.1h0M395.1 89.3h0M407.2 89.3h0M419.3 89.3h0M431.4 89.3h0M395.1 101.6h0M407.2 101.6h0M419.3 101.6h0M431.4 101.6h0M395.1 113.8h0M407.2 113.8h0M419.3 113.8h0M431.4 113.8h0" stroke="#4c4c54" stroke-width="4.33" stroke-linecap="round" fill="none"/>
<path d="M286.7 35.9h0M298.6 35.9h0M310.6 35.9h0M286.7 51.7h0M298.6 51.7h0M310.6 51.7h0M286.3 83.2h0M298.3 83.2h0M310.4 83.2h0M286.3 95.4h0M298.3 95.4h0M310.4 95.4h0M286.3 107.5h0M298.3 107.5h0M310.4 107.5h0M403.7 36.1h0M415.8 36.1h0M427.9 36.1h0M403.7 52.5h0M415.8 52.5h0M427.9 52.5h0M401.2 83.2h0M413.2 83.2h0M425.4 83.2h0M401.2 95.4h0M413.2 95.4h0M425.4 95.4h0M401.2 107.7h0M413.2 107.7h0M425.4 107.7h0" stroke="#a6f5a2" stroke-width="1.4" stroke-linecap="round" fill="none"/>
<path d="M280.7 43.3h0M292.6 43.3h0M304.6 43.3h0M316.5 43.3h0M280.7 59.2h0M292.6 59.2h0M304.6 59.2h0M316.5 59.2h0M397.6 44.2h0M409.7 44.2h0M421.8 44.2h0M433.9 44.2h0M397.6 60.1h0M409.7 60.1h0M421.8 60.1h0M433.9 60.1h0" stroke="#a0a0a8" stroke-width="2.0" stroke-linecap="round" fill="none"/>
<path d="M280.3 77.1h0M292.3 77.1h0M304.4 77.1h0M316.4 77.1h0M280.3 89.3h0M292.3 89.3h0M304.4 89.3h0M316.4 89.3h0M280.3 101.4h0M292.3 101.4h0M304.4 101.4h0M316.4 101.4h0M280.3 113.6h0M292.3 113.6h0M304.4 113.6h0M316.4 113.6h0M395.1 77.1h0M407.2 77.1h0M419.3 77.1h0M431.4 77.1h0M395.1 89.3h0M407.2 89.3h0M419.3 89.3h0M431.4 89.3h0M395.1 101.6h0M407.2 101.6h0M419.3 101.6h0M431.4 101.6h0M395.1 113.8h0M407.2 113.8h0M419.3 113.8h0M431.4 113.8h0" stroke="#9a9aa2" stroke-width="2.2" stroke-linecap="round" fill="none"/>
<path d="M343.00,68.90 L366.00,68.90 L366.00,65.80 L373.00,72.80 L366.00,79.80 L366.00,76.70 L343.00,76.70 Z" fill="url(#ga)"/>
<polyline points="269.2,146.3 269.5,146.4 269.9,146.3 270.2,146.2 270.5,146.3 270.9,146.4 271.2,146.4 271.5,146.2 271.8,146.3 272.2,146.2 272.5,146.2 272.8,146.4 273.2,146.3 273.5,146.2 273.8,146.4 274.1,146.3 274.5,146.1 274.8,146.2 275.1,146.1 275.5,146 275.8,146.1 276.1,146 276.5,145.7 276.8,145.6 277.1,145.2 277.4,144.6 277.8,143.9 278.1,143 278.4,141.3 278.8,139.1 279.1,135.9 279.4,131.4 279.6,128.4 279.8,131.5 280.1,136.4 280.4,140 280.8,139.5 281.1,136.8 281.3,134.2 281.4,135.4 281.7,137.7 282.1,139.6 282.4,141.1 282.7,142.2 283.1,143.3 283.4,144 283.7,144.6 284.1,144.9 284.4,145.2 284.7,145.4 285,145.7 285.4,145.6 285.7,145.8 286,146 286.4,146 286.7,146.3 287,146.2 287.4,146 287.7,146.2 288,146.1 288.3,146.4 288.7,146.3 289,146.4 289.3,146.2 289.7,146.1 290,146.4 290.3,146.3 290.6,146.2 291,146.2 291.3,146.4 291.6,146.2 292,146.4 292.3,146.4 292.6,146.3 293,146.2 293.3,146.4 293.6,146.4 293.9,146.4 294.3,146.4 294.6,146.2 294.9,146.2 295.3,146.4 295.6,146.2 295.9,146.4 296.3,146.2 296.6,146.3 296.9,146.2 297.2,146.3 297.6,146.3 297.9,146.2 298.2,146.3 298.6,146.3 298.9,146.3 299.2,146.4 299.6,146 299.9,144.1 300.2,142.6 300.6,140.8 300.9,138.8 301.2,137.4 301.5,135.6 301.9,134.4 302.2,132.6 302.5,131.3 302.9,130.6 303.2,130.1 303.5,129.5 303.9,129.1 304.1,128.5 304.2,128.7 304.5,129 304.8,129.4 305.2,129.9 305.5,130.1 305.8,130.5 306.2,130.9 306.5,131.4 306.8,131.8 307.1,132.1 307.5,132.5 307.8,133.1 308.1,133.3 308.5,133.8 308.8,134.3 309.1,134.6 309.5,135.1 309.8,137.5 310.1,139.7 310.4,142 310.8,143.5 311.1,144.7 311.4,146 311.8,146.2 312.1,146.3 312.4,146.2 312.8,146.4 313.1,146.4 313.4,146.2 313.8,146.3 314.1,146.4 314.4,146.3 314.7,146.4 315.1,146.2 315.4,146.3 315.7,146.2 316.1,146.4 316.4,146.4 316.7,146.4 317.1,146.3 317.4,146.1 317.7,146.2 318,146.3 318.4,146.4 318.7,146.2 319,146.2 319.4,146.4 319.7,146.3 320,146.3 320.4,146.3 320.7,146.3 321,146.3 321.3,146.3 321.7,146.1 322,146.2 322.3,146.1 322.7,145.9 323,145.8 323.3,145.6 323.6,145.4 324,145.3 324.3,144.9 324.6,144.7 325,144.2 325.3,143.7 325.6,142.9 326,141.7 326.3,140.4 326.6,138.9 326.9,136.7 327.1,135.6 327.3,136.9 327.6,139.1 327.9,140.5 328.3,142 328.6,143 328.9,143.5 329.3,144.2 329.6,144.8 329.9,145 330.2,145.4 330.6,145.4 330.9,145.6 331.2,145.8 331.6,146.1 331.9,145.9 332.2,146.1 332.6,146.3 332.9,146.2 333.2,146.1 333.6,146.4 333.9,146.2 334.2,146.1 334.5,146.1 334.9,146.1 335.2,146.3 335.5,146.2 335.9,146.3 336.2,146.3 336.5,146.3 336.9,146.3 337.2,146.1 337.5,146.2 337.8,146.1 338.2,146.1 338.5,146.1 338.8,146 339.2,146.1 339.5,145.9 339.8,145.7 340.1,145.7 340.5,145.5 340.8,145.2 341.1,145 341.5,144.5 341.8,143.8 342.1,143.3 342.5,142.1 342.8,141 343.1,139.6 343.4,137.7 343.8,135.2 344,133.2 344.1,134.2 344.4,136.9 344.8,139.1 345.1,140.7 345.4,139.9 345.6,138.3 345.8,139.4 346.1,141.5 346.4,142.8 346.8,143.8 347.1,144.3 347.4,145 347.7,145.4 348.1,145.6 348.4,145.8 348.7,146.1 349.1,146.1 349.4,146.2 349.7,146.1 350.1,146.3 350.4,146.1 350.7,146.3 351,146.2 351.4,146.2 351.7,146.2 352,146.4 352.4,146.4 352.7,146.4 353,146.2 353.4,146.3 353.7,146.2 354,146.3 354.3,146.2 354.7,146.3 355,146.2 355.3,146.3 355.7,146.3 356,146.3 356.3,146.2 356.6,146 357,146 357.3,146 357.6,146.1 358,145.9 358.3,145.7 358.6,145.6 359,145.4 359.3,145 359.6,145 359.9,144.5 360.3,143.9 360.6,143 360.9,142.1 361.3,140.9 361.6,139.5 361.9,137.5 362.3,135 362.4,133.7 362.6,135.3 362.9,137.7 363.2,139.6 363.6,141.2 363.9,142.4 364.2,143.3 364.6,143.8 364.9,144.3 365.2,144.8 365.6,145.2 365.9,145.3 366.2,145.7 366.6,145.9 366.9,145.9 367.2,146 367.5,146.1 367.9,146 368.2,146 368.5,146.1 368.9,146.3 369.2,146.3 369.5,146.2 369.9,146.4 370.2,146.2 370.5,146.4 370.8,146.4 371.2,146.2 371.5,146.3 371.8,146.1 372.2,146.1 372.5,146.2 372.8,146.4 373.1,146.2 373.5,146.2 373.8,146.2 374.1,146.2 374.5,146.2 374.8,146.1 375.1,145.9 375.5,146 375.8,145.7 376.1,145.6 376.4,145.5 376.8,145.3 377.1,145.1 377.4,144.6 377.8,144.1 378.1,143.5 378.4,142.6 378.8,141.9 379.1,140.5 379.4,138.7 379.8,136.7 379.9,135.3 380.1,136.8 380.4,138.9 380.7,140.5 381.1,141.9 381.4,140.1 381.5,139.4 381.7,140.7 382.1,142.3 382.4,143.3 382.7,144.3 383.1,144.8 383.4,145.2 383.7,145.6 384,145.8 384.4,146 384.7,146 385,146 385.4,146.2 385.7,146.1 386,146.1 386.4,146.1 386.7,146.1 387,146.1 387.3,146.2 387.7,146.3 388,146.4 388.3,146.2 388.7,146.4 389,146.4 389.3,146.2 389.6,146.2 390,146.2 390.3,146.2 390.6,146.3 391,146.2 391.3,146.3 391.6,146.1 392,146.4 392.3,146.4 392.6,146.4 392.9,146.2 393.3,146.1 393.6,146 393.9,146.2 394.3,146.2 394.6,146.1 394.9,145.9 395.3,145.9 395.6,145.7 395.9,145.4 396.2,145.3 396.6,145 396.9,144.5 397.2,144.3 397.6,143.6 397.9,142.7 398.2,141.6 398.6,140.4 398.9,138.7 399.2,136.4 399.6,133.6 399.6,133.1 399.9,135.7 400.2,138.2 400.5,139.9 400.9,141.3 401.2,142.3 401.5,143.3 401.9,144 402.2,144.6 402.5,144.9 402.9,145.2 403.2,145.3 403.5,145.7 403.8,145.9 404.2,146.1 404.5,146 404.8,146.1 405.2,146.1 405.5,146.3 405.8,146 406.1,146.2 406.5,146.4 406.8,146.3 407.1,146.4 407.5,146.3 407.8,146.1 408.1,146.2 408.5,146.2 408.8,146.3 409.1,146.2 409.4,146.4 409.8,146.2 410.1,146.3 410.4,146.2 410.8,146.4 411.1,146.2 411.4,146.3 411.8,146.1 412.1,146.2 412.4,146.2 412.8,146.2 413.1,146.1 413.4,146 413.7,145.7 414.1,145.6 414.4,145.4 414.7,145.2 415.1,145.1 415.4,144.6 415.7,143.9 416.1,143.5 416.4,142.5 416.7,141.3 417,140.1 417.4,138.3 417.7,135.7 417.8,134.9 418,136.8 418.4,138.9 418.7,140.6 419,141.8 419.4,139.7 419.5,138.2 419.7,139.6 420,141.6 420.3,142.9 420.7,143.9 421,144.5 421.3,145.1 421.7,145.4 422,145.6 422.3,145.8 422.6,146 423,146.2 423.3,146.1 423.6,146.2 424,146.3 424.3,146.3 424.6,146.1 425,146.2 425.3,146.2 425.6,146.2 425.9,146.3 426.3,146.4 426.6,146.4 426.9,146.4 427.3,146.4 427.6,146.3 427.9,146.3 428.3,146.1 428.6,146.2 428.9,146.2 429.2,146.3 429.6,146.4 429.9,146.1 430.2,146.1 430.6,146.2 430.9,146.1 431.2,146 431.6,146 431.9,145.7 432.2,145.8 432.6,145.6 432.9,145.3 433.2,145.1 433.5,144.7 433.9,144.1 434.2,143.7 434.5,142.7 434.9,141.9 435.2,140.6 435.5,138.8 435.9,136.7 436.2,133.9 436.3,132.8 436.5,134.7 436.8,137.4 437.2,139.5 437.5,141 437.8,142.1 438.2,143 438.5,143.7 438.8,144.4 439.1,144.7 439.5,145.3 439.8,145.3 440.1,145.5 440.5,145.8 440.8,146 441.1,145.9 441.5,146.1 441.8,146.2 442.1,146.2 442.4,146.3 442.8,146.2 443.1,146.2 443.4,146.2 443.8,146.1 444.1,146.2 444.4,146.3 444.8,146.3 445.1,146.3 445.4,146.2 445.8,146.1 446.1,146.3" fill="none" stroke="#ff1a1a" stroke-width="1.1" stroke-linejoin="round"/>
<rect x="268.70" y="16.50" width="178.00" height="143.70" fill="none" stroke="#000" stroke-width="1.15"/>
<line x1="267.20" y1="160.20" x2="268.70" y2="160.20" stroke="#000" stroke-width="1.1"/>
<line x1="266.10" y1="151.22" x2="268.70" y2="151.22" stroke="#000" stroke-width="1.1"/>
<text transform="translate(264.10,154.22) scale(1.0,1)" font-size="8.8" text-anchor="end" font-weight="bold" fill="#000">-520</text>
<line x1="267.20" y1="142.24" x2="268.70" y2="142.24" stroke="#000" stroke-width="1.1"/>
<line x1="266.10" y1="133.26" x2="268.70" y2="133.26" stroke="#000" stroke-width="1.1"/>
<text transform="translate(264.10,136.26) scale(1.0,1)" font-size="8.8" text-anchor="end" font-weight="bold" fill="#000">-480</text>
<line x1="267.20" y1="124.27" x2="268.70" y2="124.27" stroke="#000" stroke-width="1.1"/>
<line x1="266.10" y1="115.29" x2="268.70" y2="115.29" stroke="#000" stroke-width="1.1"/>
<text transform="translate(264.10,118.29) scale(1.0,1)" font-size="8.8" text-anchor="end" font-weight="bold" fill="#000">-440</text>
<line x1="267.20" y1="106.31" x2="268.70" y2="106.31" stroke="#000" stroke-width="1.1"/>
<line x1="266.10" y1="97.33" x2="268.70" y2="97.33" stroke="#000" stroke-width="1.1"/>
<text transform="translate(264.10,100.33) scale(1.0,1)" font-size="8.8" text-anchor="end" font-weight="bold" fill="#000">-400</text>
<line x1="267.20" y1="88.35" x2="268.70" y2="88.35" stroke="#000" stroke-width="1.1"/>
<line x1="266.10" y1="79.37" x2="268.70" y2="79.37" stroke="#000" stroke-width="1.1"/>
<text transform="translate(264.10,82.37) scale(1.0,1)" font-size="8.8" text-anchor="end" font-weight="bold" fill="#000">-360</text>
<line x1="267.20" y1="70.39" x2="268.70" y2="70.39" stroke="#000" stroke-width="1.1"/>
<line x1="266.10" y1="61.41" x2="268.70" y2="61.41" stroke="#000" stroke-width="1.1"/>
<text transform="translate(264.10,64.41) scale(1.0,1)" font-size="8.8" text-anchor="end" font-weight="bold" fill="#000">-320</text>
<line x1="267.20" y1="52.42" x2="268.70" y2="52.42" stroke="#000" stroke-width="1.1"/>
<line x1="266.10" y1="43.44" x2="268.70" y2="43.44" stroke="#000" stroke-width="1.1"/>
<text transform="translate(264.10,46.44) scale(1.0,1)" font-size="8.8" text-anchor="end" font-weight="bold" fill="#000">-280</text>
<line x1="267.20" y1="34.46" x2="268.70" y2="34.46" stroke="#000" stroke-width="1.1"/>
<line x1="266.10" y1="25.48" x2="268.70" y2="25.48" stroke="#000" stroke-width="1.1"/>
<text transform="translate(264.10,28.48) scale(1.0,1)" font-size="8.8" text-anchor="end" font-weight="bold" fill="#000">-240</text>
<line x1="267.20" y1="16.50" x2="268.70" y2="16.50" stroke="#000" stroke-width="1.1"/>
<line x1="268.70" y1="160.20" x2="268.70" y2="162.80" stroke="#000" stroke-width="1.1"/>
<text transform="translate(268.70,171.70) scale(1.0,1)" font-size="8.8" text-anchor="middle" font-weight="bold" fill="#000">0</text>
<line x1="286.50" y1="160.20" x2="286.50" y2="161.70" stroke="#000" stroke-width="1.1"/>
<line x1="304.30" y1="160.20" x2="304.30" y2="162.80" stroke="#000" stroke-width="1.1"/>
<text transform="translate(304.30,171.70) scale(1.0,1)" font-size="8.8" text-anchor="middle" font-weight="bold" fill="#000">1000</text>
<line x1="322.10" y1="160.20" x2="322.10" y2="161.70" stroke="#000" stroke-width="1.1"/>
<line x1="339.90" y1="160.20" x2="339.90" y2="162.80" stroke="#000" stroke-width="1.1"/>
<text transform="translate(339.90,171.70) scale(1.0,1)" font-size="8.8" text-anchor="middle" font-weight="bold" fill="#000">2000</text>
<line x1="357.70" y1="160.20" x2="357.70" y2="161.70" stroke="#000" stroke-width="1.1"/>
<line x1="375.50" y1="160.20" x2="375.50" y2="162.80" stroke="#000" stroke-width="1.1"/>
<text transform="translate(375.50,171.70) scale(1.0,1)" font-size="8.8" text-anchor="middle" font-weight="bold" fill="#000">3000</text>
<line x1="393.30" y1="160.20" x2="393.30" y2="161.70" stroke="#000" stroke-width="1.1"/>
<line x1="411.10" y1="160.20" x2="411.10" y2="162.80" stroke="#000" stroke-width="1.1"/>
<text transform="translate(411.10,171.70) scale(1.0,1)" font-size="8.8" text-anchor="middle" font-weight="bold" fill="#000">4000</text>
<line x1="428.90" y1="160.20" x2="428.90" y2="161.70" stroke="#000" stroke-width="1.1"/>
<line x1="446.70" y1="160.20" x2="446.70" y2="162.80" stroke="#000" stroke-width="1.1"/>
<text transform="translate(446.70,171.70) scale(1.0,1)" font-size="8.8" text-anchor="middle" font-weight="bold" fill="#000">5000</text>
<text transform="translate(357.70,185.40) scale(0.92,1)" font-size="10.3" text-anchor="middle" font-weight="bold" fill="#000">Time (fs)</text>
<text transform="translate(239.70,84.55) rotate(-90) scale(1,0.96)" font-size="9.7" text-anchor="middle" font-weight="bold">Total energy (eV)</text>
<text transform="translate(231.00,10.50) scale(0.97,1)" font-size="15.2" text-anchor="start" font-weight="bold" fill="#000">(b)</text>
<text transform="translate(384.00,26.00) scale(0.99,1)" font-size="8.8" font-weight="bold">SrPbO<tspan font-size="6" dy="2.3">3</tspan><tspan dy="-2.3" dx="5.4" font-size="8.8">@300K</tspan></text>
<text transform="translate(333.70,125.50) scale(0.95,1)" font-size="10.5" text-anchor="start" font-weight="bold" fill="#000">max</text>
<line x1="332.40" y1="124.60" x2="309.47" y2="127.58" stroke="#4a72c8" stroke-width="0.9"/>
<path d="M305.50,128.10 L309.26,126.00 L309.67,129.17 Z" fill="#3f68c8"/>
<text transform="translate(302.40,158.10) scale(0.93,1)" font-size="10.5" text-anchor="start" font-weight="bold" fill="#000">min</text>
<line x1="300.20" y1="153.90" x2="294.86" y2="149.75" stroke="#4a72c8" stroke-width="0.9"/>
<path d="M291.70,147.30 L295.84,148.49 L293.88,151.02 Z" fill="#3f68c8"/>
<rect x="505.4" y="34.8" width="37.8" height="37.5" fill="none" stroke="#c9c9c9" stroke-width="0.7"/>
<rect x="618.2" y="37.9" width="38.8" height="34.4" fill="none" stroke="#c9c9c9" stroke-width="0.7"/>
<path d="M511.7 38.6L505.4 35.3M511.7 38.6L505.4 43.5M511.7 38.6L518 35.3M511.7 38.6L518 43.5M524.3 38.6L518 35.3M524.3 38.6L518 43.5M524.3 38.6L530.6 35.3M524.3 38.6L530.6 43.5M536.9 38.6L530.6 35.3M536.9 38.6L530.6 43.5M536.9 38.6L543.2 35.3M536.9 38.6L543.2 43.5M505.4 46.2L505.4 43.5M505.4 46.2L499.1 43.5M505.4 46.2L511.7 43.5M518 46.2L518 43.5M518 46.2L511.7 43.5M518 46.2L524.3 43.5M530.6 46.2L530.6 43.5M530.6 46.2L524.3 43.5M530.6 46.2L536.9 43.5M543.2 46.2L543.2 43.5M543.2 46.2L536.9 43.5M511.7 55.2L505.4 51.9M511.7 55.2L505.4 61.1M511.7 55.2L518 51.9M511.7 55.2L518 61.1M524.3 55.2L518 51.9M524.3 55.2L518 61.1M524.3 55.2L530.6 51.9M524.3 55.2L530.6 61.1M536.9 55.2L530.6 51.9M536.9 55.2L530.6 61.1M536.9 55.2L543.2 51.9M536.9 55.2L543.2 61.1M505.4 63.8L505.4 61.1M505.4 63.8L499.1 61.1M505.4 63.8L511.7 61.1M518 63.8L518 61.1M518 63.8L511.7 61.1M518 63.8L524.3 61.1M530.6 63.8L530.6 61.1M530.6 63.8L524.3 61.1M530.6 63.8L536.9 61.1M543.2 63.8L543.2 61.1M543.2 63.8L536.9 61.1M498.5 83.2L550.1 83.2M498.5 95.8L550.1 95.8M498.5 108.4L550.1 108.4M498.5 121L550.1 121M505.4 76.3L505.4 127.9M518 76.3L518 127.9M530.6 76.3L530.6 127.9M543.2 76.3L543.2 127.9M624.7 38.6L618.2 35.3M624.7 38.6L618.2 44M624.7 38.6L631.1 35.3M624.7 38.6L631.1 44M637.6 38.6L631.1 35.3M637.6 38.6L631.1 44M637.6 38.6L644.1 35.3M637.6 38.6L644.1 44M650.5 38.6L644.1 35.3M650.5 38.6L644.1 44M650.5 38.6L657 35.3M650.5 38.6L657 44M618.2 46.7L618.2 44M618.2 46.7L611.7 44M618.2 46.7L624.7 44M631.1 46.7L631.1 44M631.1 46.7L624.7 44M631.1 46.7L637.6 44M644.1 46.7L644.1 44M644.1 46.7L637.6 44M644.1 46.7L650.5 44M657 46.7L657 44M657 46.7L650.5 44M624.7 55.2L618.2 51.9M624.7 55.2L618.2 61.6M624.7 55.2L631.1 51.9M624.7 55.2L631.1 61.6M637.6 55.2L631.1 51.9M637.6 55.2L631.1 61.6M637.6 55.2L644.1 51.9M637.6 55.2L644.1 61.6M650.5 55.2L644.1 51.9M650.5 55.2L644.1 61.6M650.5 55.2L657 51.9M650.5 55.2L657 61.6M618.2 64.3L618.2 61.6M618.2 64.3L611.7 61.6M618.2 64.3L624.7 61.6M631.1 64.3L631.1 61.6M631.1 64.3L624.7 61.6M631.1 64.3L637.6 61.6M644.1 64.3L644.1 61.6M644.1 64.3L637.6 61.6M644.1 64.3L650.5 61.6M657 64.3L657 61.6M657 64.3L650.5 61.6M611.2 84L663.4 84M611.2 96.8L663.4 96.8M611.2 109.6L663.4 109.6M611.2 122.4L663.4 122.4M618.2 77L618.2 129.4M630.9 77L630.9 129.4M643.7 77L643.7 129.4M656.4 77L656.4 129.4" stroke="#e3322b" stroke-width="0.7" fill="none"/>
<path d="M511.7 38.6L508.5 37M511.7 38.6L508.5 41M511.7 38.6L514.9 37M511.7 38.6L514.9 41M524.3 38.6L521.1 37M524.3 38.6L521.1 41M524.3 38.6L527.5 37M524.3 38.6L527.5 41M536.9 38.6L533.8 37M536.9 38.6L533.8 41M536.9 38.6L540 37M536.9 38.6L540 41M511.7 55.2L508.5 53.6M511.7 55.2L508.5 58.1M511.7 55.2L514.9 53.6M511.7 55.2L514.9 58.1M524.3 55.2L521.1 53.6M524.3 55.2L521.1 58.1M524.3 55.2L527.5 53.6M524.3 55.2L527.5 58.1M536.9 55.2L533.8 53.6M536.9 55.2L533.8 58.1M536.9 55.2L540 53.6M536.9 55.2L540 58.1M624.7 38.6L621.4 37M624.7 38.6L621.4 41.3M624.7 38.6L627.9 37M624.7 38.6L627.9 41.3M637.6 38.6L634.4 37M637.6 38.6L634.4 41.3M637.6 38.6L640.8 37M637.6 38.6L640.8 41.3M650.5 38.6L647.3 37M650.5 38.6L647.3 41.3M650.5 38.6L653.8 37M650.5 38.6L653.8 41.3M624.7 55.2L621.4 53.6M624.7 55.2L621.4 58.4M624.7 55.2L627.9 53.6M624.7 55.2L627.9 58.4M637.6 55.2L634.4 53.6M637.6 55.2L634.4 58.4M637.6 55.2L640.8 53.6M637.6 55.2L640.8 58.4M650.5 55.2L647.3 53.6M650.5 55.2L647.3 58.4M650.5 55.2L653.8 53.6M650.5 55.2L653.8 58.4" stroke="#4a88b8" stroke-width="0.7" fill="none"/>
<path d="M511.7 38.6L511.7 43.5M524.3 38.6L524.3 43.5M536.9 38.6L536.9 43.5M511.7 55.2L511.7 61.1M524.3 55.2L524.3 61.1M536.9 55.2L536.9 61.1M624.7 38.6L624.7 44M637.6 38.6L637.6 44M650.5 38.6L650.5 44M624.7 55.2L624.7 61.6M637.6 55.2L637.6 61.6M650.5 55.2L650.5 61.6" stroke="#e3322b" stroke-width="0.6" fill="none"/>
<path d="M505.4 46.2L505.4 51.6M518 46.2L518 51.6M530.6 46.2L530.6 51.6M543.2 46.2L543.2 51.6M498.8 44.2L505.4 46.2M549.8 44.2L543.2 46.2M505.4 63.8L505.4 69.2M518 63.8L518 69.2M530.6 63.8L530.6 69.2M543.2 63.8L543.2 69.2M498.8 61.8L505.4 63.8M549.8 61.8L543.2 63.8M618.2 46.7L618.2 52.1M631.1 46.7L631.1 52.1M644.1 46.7L644.1 52.1M657 46.7L657 52.1M611.5 44.7L618.2 46.7M663.7 44.7L657 46.7M618.2 64.3L618.2 69.7M631.1 64.3L631.1 69.7M644.1 64.3L644.1 69.7M657 64.3L657 69.7M611.5 62.3L618.2 64.3M663.7 62.3L657 64.3" stroke="#e3322b" stroke-width="0.8" fill="none"/>
<path d="M502.5 89.5L508.3 89.5M515.1 89.5L520.9 89.5M527.7 89.5L533.5 89.5M540.3 89.5L546.1 89.5M502.5 102.1L508.3 102.1M515.1 102.1L520.9 102.1M527.7 102.1L533.5 102.1M540.3 102.1L546.1 102.1M502.5 114.7L508.3 114.7M515.1 114.7L520.9 114.7M527.7 114.7L533.5 114.7M540.3 114.7L546.1 114.7M511.7 80.3L511.7 86.1M511.7 92.9L511.7 98.7M511.7 105.5L511.7 111.3M511.7 118.1L511.7 123.9M524.3 80.3L524.3 86.1M524.3 92.9L524.3 98.7M524.3 105.5L524.3 111.3M524.3 118.1L524.3 123.9M536.9 80.3L536.9 86.1M536.9 92.9L536.9 98.7M536.9 105.5L536.9 111.3M536.9 118.1L536.9 123.9M615.3 90.4L621.1 90.4M628 90.4L633.8 90.4M640.8 90.4L646.6 90.4M653.5 90.4L659.3 90.4M615.3 103.2L621.1 103.2M628 103.2L633.8 103.2M640.8 103.2L646.6 103.2M653.5 103.2L659.3 103.2M615.3 116L621.1 116M628 116L633.8 116M640.8 116L646.6 116M653.5 116L659.3 116M624.6 81.1L624.6 86.9M624.6 93.9L624.6 99.7M624.6 106.7L624.6 112.5M624.6 119.5L624.6 125.3M637.3 81.1L637.3 86.9M637.3 93.9L637.3 99.7M637.3 106.7L637.3 112.5M637.3 119.5L637.3 125.3M650 81.1L650 86.9M650 93.9L650 99.7M650 106.7L650 112.5M650 119.5L650 125.3" stroke="#e3322b" stroke-width="0.6" opacity="0.85" fill="none"/>
<path d="M511.7 89.5L505.4 83.2M511.7 89.5L505.4 95.8M511.7 89.5L518 83.2M511.7 89.5L518 95.8M524.3 89.5L518 83.2M524.3 89.5L518 95.8M524.3 89.5L530.6 83.2M524.3 89.5L530.6 95.8M536.9 89.5L530.6 83.2M536.9 89.5L530.6 95.8M536.9 89.5L543.2 83.2M536.9 89.5L543.2 95.8M511.7 102.1L505.4 95.8M511.7 102.1L505.4 108.4M511.7 102.1L518 95.8M511.7 102.1L518 108.4M524.3 102.1L518 95.8M524.3 102.1L518 108.4M524.3 102.1L530.6 95.8M524.3 102.1L530.6 108.4M536.9 102.1L530.6 95.8M536.9 102.1L530.6 108.4M536.9 102.1L543.2 95.8M536.9 102.1L543.2 108.4M511.7 114.7L505.4 108.4M511.7 114.7L505.4 121M511.7 114.7L518 108.4M511.7 114.7L518 121M524.3 114.7L518 108.4M524.3 114.7L518 121M524.3 114.7L530.6 108.4M524.3 114.7L530.6 121M536.9 114.7L530.6 108.4M536.9 114.7L530.6 121M536.9 114.7L543.2 108.4M536.9 114.7L543.2 121M624.6 90.4L618.2 84M624.6 90.4L618.2 96.8M624.6 90.4L630.9 84M624.6 90.4L630.9 96.8M637.3 90.4L630.9 84M637.3 90.4L630.9 96.8M637.3 90.4L643.7 84M637.3 90.4L643.7 96.8M650 90.4L643.7 84M650 90.4L643.7 96.8M650 90.4L656.4 84M650 90.4L656.4 96.8M624.6 103.2L618.2 96.8M624.6 103.2L618.2 109.6M624.6 103.2L630.9 96.8M624.6 103.2L630.9 109.6M637.3 103.2L630.9 96.8M637.3 103.2L630.9 109.6M637.3 103.2L643.7 96.8M637.3 103.2L643.7 109.6M650 103.2L643.7 96.8M650 103.2L643.7 109.6M650 103.2L656.4 96.8M650 103.2L656.4 109.6M624.6 116L618.2 109.6M624.6 116L618.2 122.4M624.6 116L630.9 109.6M624.6 116L630.9 122.4M637.3 116L630.9 109.6M637.3 116L630.9 122.4M637.3 116L643.7 109.6M637.3 116L643.7 122.4M650 116L643.7 109.6M650 116L643.7 122.4M650 116L656.4 109.6M650 116L656.4 122.4" stroke="#4a88b8" stroke-width="0.8" fill="none"/>
<path d="M498.8 44.2h0M549.8 44.2h0M505.4 51.6h0M518 51.6h0M530.6 51.6h0M543.2 51.6h0M498.8 61.8h0M549.8 61.8h0M505.4 69.2h0M518 69.2h0M530.6 69.2h0M543.2 69.2h0M611.5 44.7h0M663.7 44.7h0M618.2 52.1h0M631.1 52.1h0M644.1 52.1h0M657 52.1h0M611.5 62.3h0M663.7 62.3h0M618.2 69.7h0M631.1 69.7h0M644.1 69.7h0M657 69.7h0" stroke="#e8231f" stroke-width="2.1" stroke-linecap="round" fill="none"/>
<path d="M505.4 35.3h0M518 35.3h0M530.6 35.3h0M543.2 35.3h0M505.4 51.9h0M518 51.9h0M530.6 51.9h0M543.2 51.9h0M498.5 83.2h0M550.1 83.2h0M498.5 95.8h0M550.1 95.8h0M498.5 108.4h0M550.1 108.4h0M498.5 121h0M550.1 121h0M505.4 76.3h0M505.4 127.9h0M518 76.3h0M518 127.9h0M530.6 76.3h0M530.6 127.9h0M543.2 76.3h0M543.2 127.9h0M618.2 35.3h0M631.1 35.3h0M644.1 35.3h0M657 35.3h0M618.2 51.9h0M631.1 51.9h0M644.1 51.9h0M657 51.9h0M611.2 84h0M663.4 84h0M611.2 96.8h0M663.4 96.8h0M611.2 109.6h0M663.4 109.6h0M611.2 122.4h0M663.4 122.4h0M618.2 77h0M618.2 129.4h0M630.9 77h0M630.9 129.4h0M643.7 77h0M643.7 129.4h0M656.4 77h0M656.4 129.4h0" stroke="#e8231f" stroke-width="2.0" stroke-linecap="round" fill="none"/>
<path d="M505.4 43.5h0M511.7 43.5h0M518 43.5h0M524.3 43.5h0M530.6 43.5h0M536.9 43.5h0M543.2 43.5h0M505.4 61.1h0M511.7 61.1h0M518 61.1h0M524.3 61.1h0M530.6 61.1h0M536.9 61.1h0M543.2 61.1h0M618.2 44h0M624.7 44h0M631.1 44h0M637.6 44h0M644.1 44h0M650.5 44h0M657 44h0M618.2 61.6h0M624.7 61.6h0M631.1 61.6h0M637.6 61.6h0M644.1 61.6h0M650.5 61.6h0M657 61.6h0" stroke="#e8231f" stroke-width="1.9" stroke-linecap="round" fill="none"/>
<path d="M511.7 83.2h0M524.3 83.2h0M536.9 83.2h0M511.7 95.8h0M524.3 95.8h0M536.9 95.8h0M511.7 108.4h0M524.3 108.4h0M536.9 108.4h0M511.7 121h0M524.3 121h0M536.9 121h0M505.4 89.5h0M518 89.5h0M530.6 89.5h0M543.2 89.5h0M505.4 102.1h0M518 102.1h0M530.6 102.1h0M543.2 102.1h0M505.4 114.7h0M518 114.7h0M530.6 114.7h0M543.2 114.7h0M624.6 84h0M637.3 84h0M650 84h0M624.6 96.8h0M637.3 96.8h0M650 96.8h0M624.6 109.6h0M637.3 109.6h0M650 109.6h0M624.6 122.4h0M637.3 122.4h0M650 122.4h0M618.2 90.4h0M630.9 90.4h0M643.7 90.4h0M656.4 90.4h0M618.2 103.2h0M630.9 103.2h0M643.7 103.2h0M656.4 103.2h0M618.2 116h0M630.9 116h0M643.7 116h0M656.4 116h0" stroke="#e8231f" stroke-width="1.7" stroke-linecap="round" fill="none"/>
<path d="M511.7 38.6h0M524.3 38.6h0M536.9 38.6h0M511.7 55.2h0M524.3 55.2h0M536.9 55.2h0M511.7 89.5h0M524.3 89.5h0M536.9 89.5h0M511.7 102.1h0M524.3 102.1h0M536.9 102.1h0M511.7 114.7h0M524.3 114.7h0M536.9 114.7h0M624.7 38.6h0M637.6 38.6h0M650.5 38.6h0M624.7 55.2h0M637.6 55.2h0M650.5 55.2h0M624.6 90.4h0M637.3 90.4h0M650 90.4h0M624.6 103.2h0M637.3 103.2h0M650 103.2h0M624.6 116h0M637.3 116h0M650 116h0" stroke="#2f6e98" stroke-width="5.7" stroke-linecap="round" fill="none"/>
<path d="M505.4 46.2h0M518 46.2h0M530.6 46.2h0M543.2 46.2h0M505.4 63.8h0M518 63.8h0M530.6 63.8h0M543.2 63.8h0M618.2 46.7h0M631.1 46.7h0M644.1 46.7h0M657 46.7h0M618.2 64.3h0M631.1 64.3h0M644.1 64.3h0M657 64.3h0" stroke="#58534a" stroke-width="3.7" stroke-linecap="round" fill="none"/>
<path d="M505.4 83.2h0M518 83.2h0M530.6 83.2h0M543.2 83.2h0M505.4 95.8h0M518 95.8h0M530.6 95.8h0M543.2 95.8h0M505.4 108.4h0M518 108.4h0M530.6 108.4h0M543.2 108.4h0M505.4 121h0M518 121h0M530.6 121h0M543.2 121h0M618.2 84h0M630.9 84h0M643.7 84h0M656.4 84h0M618.2 96.8h0M630.9 96.8h0M643.7 96.8h0M656.4 96.8h0M618.2 109.6h0M630.9 109.6h0M643.7 109.6h0M656.4 109.6h0M618.2 122.4h0M630.9 122.4h0M643.7 122.4h0M656.4 122.4h0" stroke="#58534a" stroke-width="3.36" stroke-linecap="round" fill="none"/>
<path d="M511.7 38.6h0M524.3 38.6h0M536.9 38.6h0M511.7 55.2h0M524.3 55.2h0M536.9 55.2h0M511.7 89.5h0M524.3 89.5h0M536.9 89.5h0M511.7 102.1h0M524.3 102.1h0M536.9 102.1h0M511.7 114.7h0M524.3 114.7h0M536.9 114.7h0M624.7 38.6h0M637.6 38.6h0M650.5 38.6h0M624.7 55.2h0M637.6 55.2h0M650.5 55.2h0M624.6 90.4h0M637.3 90.4h0M650 90.4h0M624.6 103.2h0M637.3 103.2h0M650 103.2h0M624.6 116h0M637.3 116h0M650 116h0" stroke="#5ea6d4" stroke-width="4.3" stroke-linecap="round" fill="none"/>
<path d="M505.4 46.2h0M518 46.2h0M530.6 46.2h0M543.2 46.2h0M505.4 63.8h0M518 63.8h0M530.6 63.8h0M543.2 63.8h0M618.2 46.7h0M631.1 46.7h0M644.1 46.7h0M657 46.7h0M618.2 64.3h0M631.1 64.3h0M644.1 64.3h0M657 64.3h0" stroke="#7e786c" stroke-width="3.1" stroke-linecap="round" fill="none"/>
<path d="M505.4 83.2h0M518 83.2h0M530.6 83.2h0M543.2 83.2h0M505.4 95.8h0M518 95.8h0M530.6 95.8h0M543.2 95.8h0M505.4 108.4h0M518 108.4h0M530.6 108.4h0M543.2 108.4h0M505.4 121h0M518 121h0M530.6 121h0M543.2 121h0M618.2 84h0M630.9 84h0M643.7 84h0M656.4 84h0M618.2 96.8h0M630.9 96.8h0M643.7 96.8h0M656.4 96.8h0M618.2 109.6h0M630.9 109.6h0M643.7 109.6h0M656.4 109.6h0M618.2 122.4h0M630.9 122.4h0M643.7 122.4h0M656.4 122.4h0" stroke="#7e786c" stroke-width="2.76" stroke-linecap="round" fill="none"/>
<path d="M511.7 38.6h0M524.3 38.6h0M536.9 38.6h0M511.7 55.2h0M524.3 55.2h0M536.9 55.2h0M511.7 89.5h0M524.3 89.5h0M536.9 89.5h0M511.7 102.1h0M524.3 102.1h0M536.9 102.1h0M511.7 114.7h0M524.3 114.7h0M536.9 114.7h0M624.7 38.6h0M637.6 38.6h0M650.5 38.6h0M624.7 55.2h0M637.6 55.2h0M650.5 55.2h0M624.6 90.4h0M637.3 90.4h0M650 90.4h0M624.6 103.2h0M637.3 103.2h0M650 103.2h0M624.6 116h0M637.3 116h0M650 116h0" stroke="#f0f8ff" stroke-width="2.0" stroke-linecap="round" fill="none"/>
<path d="M505.4 46.2h0M518 46.2h0M530.6 46.2h0M543.2 46.2h0M505.4 63.8h0M518 63.8h0M530.6 63.8h0M543.2 63.8h0M618.2 46.7h0M631.1 46.7h0M644.1 46.7h0M657 46.7h0M618.2 64.3h0M631.1 64.3h0M644.1 64.3h0M657 64.3h0" stroke="#c8c2b8" stroke-width="1.2" stroke-linecap="round" fill="none"/>
<path d="M505.4 83.2h0M518 83.2h0M530.6 83.2h0M543.2 83.2h0M505.4 95.8h0M518 95.8h0M530.6 95.8h0M543.2 95.8h0M505.4 108.4h0M518 108.4h0M530.6 108.4h0M543.2 108.4h0M505.4 121h0M518 121h0M530.6 121h0M543.2 121h0M618.2 84h0M630.9 84h0M643.7 84h0M656.4 84h0M618.2 96.8h0M630.9 96.8h0M643.7 96.8h0M656.4 96.8h0M618.2 109.6h0M630.9 109.6h0M643.7 109.6h0M656.4 109.6h0M618.2 122.4h0M630.9 122.4h0M643.7 122.4h0M656.4 122.4h0" stroke="#d0302a" stroke-width="1.6" stroke-linecap="round" fill="none"/>
<path d="M564.10,73.05 L587.10,73.05 L587.10,69.50 L594.80,76.80 L587.10,84.10 L587.10,80.55 L564.10,80.55 Z" fill="url(#ga)"/>
<polyline points="494.1,147.1 494.4,147 494.8,147 495.1,147 495.4,147.2 495.8,147 496.1,147 496.4,147.1 496.7,147 497.1,147.1 497.4,146.9 497.7,146.7 498.1,146.7 498.4,146.4 498.7,146.6 499.1,146.1 499.4,145.9 499.7,145.7 500,145.1 500.4,144.8 500.7,143.1 501,140.1 501,140.8 501.4,142.5 501.7,141.5 502,139.9 502.4,138.1 502.5,137.1 502.7,138.3 503,140.5 503.3,142.5 503.7,143.4 504,144.3 504.3,145.2 504.7,145.6 505,146.2 505.3,146.2 505.6,146.3 506,146.8 506.3,146.6 506.6,147 507,147 507.3,147.2 507.6,147.3 508,147.1 508.3,146.9 508.6,146.9 508.9,147.1 509.3,147.3 509.6,146.9 509.9,147.1 510.3,146.9 510.6,147 510.9,146.9 511.3,147 511.6,147.1 511.9,147 512.2,147.2 512.6,146.8 512.9,146.9 513.2,146.9 513.6,146.9 513.9,147 514.2,146.7 514.6,146.8 514.9,146.7 515.2,146.2 515.5,146.3 515.9,145.9 516.2,145.6 516.5,145 516.9,144.3 517.2,143.3 517.5,142.2 517.9,140.9 518.2,139.1 518.5,136.8 518.6,136.2 518.9,138.4 519.2,140.6 519.5,142.2 519.8,143.5 520.2,144 520.5,145.1 520.8,145.3 521.2,145.7 521.5,146.1 521.8,146.4 522.1,146.4 522.5,146.6 522.8,146.8 523.1,147.1 523.5,146.9 523.8,147 524.1,147 524.5,146.9 524.8,147.3 525.1,147.3 525.5,147.2 525.8,147.1 526.1,147.1 526.4,147 526.8,147.2 527.1,147.2 527.4,147 527.8,147.3 528.1,147.2 528.4,146.9 528.8,147.2 529.1,147.1 529.4,146.8 529.7,146.8 530.1,147 530.4,146.6 530.7,146.7 531.1,146.9 531.4,146.4 531.7,146.4 532,146.4 532.4,146.1 532.7,145.8 533,145.3 533.4,145.1 533.7,144.2 534,143.8 534.4,142.7 534.7,141.7 535,140.4 535.4,138.5 535.6,137.2 535.7,137.8 536,140.3 536.3,141.8 536.7,143 537,143.9 537.3,144.9 537.7,145.2 538,145.8 538.3,146.2 538.6,146.6 539,146.4 539.3,146.7 539.6,146.6 540,146.9 540.3,147 540.6,147.1 541,147.2 541.3,146.9 541.6,147.2 542,147 542.3,147 542.6,146.9 542.9,147.1 543.3,146.8 543.6,147 543.9,147.2 544.3,147.2 544.6,146.9 544.9,147.2 545.2,147.1 545.6,146.9 545.9,147.2 546.2,147.2 546.6,147 546.9,147 547.2,147 547.6,146.9 547.9,146.9 548.2,146.7 548.5,146.2 548.9,145.8 549.2,145.4 549.5,144.8 549.9,143.9 550.2,142.7 550.5,140.4 550.9,137.4 551.1,134.6 551.2,135.9 551.5,138.9 551.9,141.1 552.2,143 552.5,144.3 552.8,145 553.2,145.5 553.5,145.8 553.8,146.2 554.2,146.3 554.5,146.5 554.8,146.8 555.1,147 555.5,147 555.8,146.9 556.1,147.2 556.5,146.9 556.8,146.9 557.1,146.9 557.5,147.1 557.8,147.3 558.1,147 558.5,147.2 558.8,147.3 559.1,147.1 559.4,147.3 559.8,147.3 560.1,147 560.4,146.9 560.8,146.8 561.1,146.9 561.4,147 561.8,146.8 562.1,146.9 562.4,147 562.7,146.8 563.1,147 563.4,146.8 563.7,146.7 564.1,146.5 564.4,146.3 564.7,145.9 565,145.3 565.4,144.9 565.7,143.8 566,142.6 566.4,141.1 566.7,138.7 566.9,137.2 567,137.9 567.4,140.2 567.7,142 568,143.1 568.4,144.2 568.7,144.6 569,145.2 569.3,144.7 569.6,143.5 569.7,143.9 570,144.8 570.3,145.7 570.7,146.2 571,146.5 571.3,146.8 571.6,146.6 572,147 572.3,147 572.6,147.1 573,146.8 573.3,146.8 573.6,147.1 574,147.1 574.3,146.9 574.6,147.2 575,147.1 575.3,147.1 575.6,147.2 575.9,147.1 576.3,147 576.6,146.8 576.9,146.9 577.3,147.1 577.6,146.9 577.9,146.8 578.2,146.8 578.6,147 578.9,147.2 579.2,147 579.6,146.6 579.9,146.7 580.2,146.8 580.6,146.4 580.9,146.6 581.2,146 581.5,145.8 581.9,145.5 582.2,144.9 582.5,143.6 582.9,142.7 583.2,141 583.5,138.5 583.7,136.9 583.9,138.3 584.2,141 584.5,142.7 584.9,144.1 585.2,144.9 585.5,145.5 585.8,146.3 586.2,146.5 586.5,146.7 586.8,146.6 587.2,146.6 587.5,146.8 587.8,146.7 588.1,146.9 588.5,147 588.8,146.9 589.1,146.9 589.5,146.9 589.8,147.2 590.1,146.8 590.5,147.2 590.8,147.1 591.1,147 591.5,147.1 591.8,146.7 592.1,147.2 592.4,146.9 592.8,146.9 593.1,146.9 593.4,147.1 593.8,146.8 594.1,146.9 594.4,147 594.8,146.6 595.1,146.7 595.4,146.4 595.7,146.4 596.1,146.1 596.4,145.7 596.7,144.8 597.1,144.2 597.4,143.8 597.7,142.4 598,141.2 598.4,140 598.5,139 598.7,139.4 599,139.5 599.4,139.5 599.7,140 600,140.1 600.4,140.7 600.7,141 601,140.9 601.4,141.4 601.7,141.5 602,141.6 602.3,142.2 602.7,142 603,142.4 603.3,142.4 603.7,142.7 604,142.6 604.3,143.1 604.6,142.9 605,142.9 605.3,143.3 605.6,143.1 606,143.4 606.3,143.3 606.6,143.6 607,143.4 607.3,143.6 607.6,143.7 608,143.6 608.3,143.8 608.6,143.7 608.9,143.6 609.3,143.8 609.6,143.9 609.9,143.7 610.3,143.7 610.6,143.3 610.9,143.2 611.2,143.2 611.6,142.6 611.9,142 612.2,141.5 612.6,140.1 612.9,138.6 613.2,136.6 613.5,134.4 613.6,134.7 613.9,136.8 614.2,138.3 614.5,139.8 614.9,140.4 615.2,141.3 615.5,141.7 615.9,142.4 616.2,142.5 616.5,142.9 616.9,143 617.2,143.3 617.5,143.4 617.9,143.6 618.2,144 618.5,143.6 618.8,143.7 619.2,144 619.5,144.1 619.8,143.9 620.2,143.9 620.5,143.9 620.8,144 621.1,144.1 621.5,144.2 621.8,143.8 622.1,143.9 622.5,143.9 622.8,144 623.1,144.1 623.5,143.7 623.8,143.6 624.1,143.6 624.5,143.7 624.8,143.7 625.1,143.7 625.4,143.3 625.8,143.1 626.1,143 626.4,142.6 626.8,142.2 627.1,141.2 627.4,140.6 627.8,139.7 628.1,138.1 628.3,137 628.4,137.9 628.7,139 629.1,140.1 629.4,140.9 629.7,142 630.1,142.4 630.4,142.6 630.7,143 631,143.2 631.4,143.2 631.7,143.7 632,143.5 632.4,143.8 632.7,144 633,143.8 633.4,144.1 633.7,144.2 634,144.1 634.4,144 634.7,144.3 635,144 635.3,144.3 635.7,144.2 636,144.1 636.3,144.3 636.7,143.9 637,144 637.3,144.2 637.6,143.9 638,144.3 638.3,144 638.6,144 639,144.2 639.3,143.7 639.6,143.6 640,143.8 640.3,143.6 640.6,143.5 641,142.9 641.3,142.8 641.6,142.1 641.9,141.2 642.3,139.8 642.6,138.6 642.9,136.1 643,135.7 643.3,137.4 643.6,138.5 643.9,139.9 644.2,141.1 644.6,141.5 644.9,142.4 645.2,142.8 645.6,143.1 645.9,143.5 646.2,143.6 646.6,143.4 646.9,143.9 647.2,144 647.5,143.9 647.9,143.8 648.2,143.9 648.5,144.1 648.9,144 649.2,144.4 649.5,144 649.9,144 650.2,144 650.5,144.3 650.9,144.3 651.2,144 651.5,144.1 651.8,144.3 652.2,144.2 652.5,143.9 652.8,144.3 653.2,144.1 653.5,143.8 653.8,143.8 654.1,143.6 654.5,143.5 654.8,143.1 655.1,142.6 655.5,142.4 655.8,141.7 656.1,141 656.3,140.5 656.5,141.4 656.8,142.6 657.1,144 657.5,145 657.8,145.7 658.1,146.1 658.4,146.5 658.8,146.5 659.1,146.8 659.4,146.5 659.8,146.6 660.1,146.8 660.4,146.6 660.8,146.7 661.1,147.1 661.4,147 661.7,146.8 662.1,146.7 662.4,147 662.7,147 663.1,146.7 663.4,146.9 663.7,146.9 664,146.6 664.4,146.6 664.7,146.6 665,147 665.4,146.7 665.7,146.7 666,146.5 666.4,146.8 666.7,146.6 667,146.7 667.4,146.6 667.7,146.6 668,146.4 668.3,146.5 668.7,146.7 669,146.7 669.3,146.6 669.7,146.4 670,146.2 670.3,145.8 670.6,145.5 671,145 671.3,144.5 671.6,143.4 672,142.1 672.3,140.4 672.4,139.8 672.6,140.6 673,141.5 673.3,142.7 673.6,143.4 674,143.9 674.3,144.3 674.6,144.9" fill="none" stroke="#ff1a1a" stroke-width="1.1" stroke-linejoin="round"/>
<rect x="493.60" y="15.50" width="181.80" height="147.40" fill="none" stroke="#000" stroke-width="1.15"/>
<line x1="491.00" y1="162.90" x2="493.60" y2="162.90" stroke="#000" stroke-width="1.1"/>
<text transform="translate(489.00,165.90) scale(1.0,1)" font-size="8.8" text-anchor="end" font-weight="bold" fill="#000">-750</text>
<line x1="492.10" y1="150.62" x2="493.60" y2="150.62" stroke="#000" stroke-width="1.1"/>
<line x1="491.00" y1="138.33" x2="493.60" y2="138.33" stroke="#000" stroke-width="1.1"/>
<text transform="translate(489.00,141.33) scale(1.0,1)" font-size="8.8" text-anchor="end" font-weight="bold" fill="#000">-700</text>
<line x1="492.10" y1="126.05" x2="493.60" y2="126.05" stroke="#000" stroke-width="1.1"/>
<line x1="491.00" y1="113.77" x2="493.60" y2="113.77" stroke="#000" stroke-width="1.1"/>
<text transform="translate(489.00,116.77) scale(1.0,1)" font-size="8.8" text-anchor="end" font-weight="bold" fill="#000">-650</text>
<line x1="492.10" y1="101.48" x2="493.60" y2="101.48" stroke="#000" stroke-width="1.1"/>
<line x1="491.00" y1="89.20" x2="493.60" y2="89.20" stroke="#000" stroke-width="1.1"/>
<text transform="translate(489.00,92.20) scale(1.0,1)" font-size="8.8" text-anchor="end" font-weight="bold" fill="#000">-600</text>
<line x1="492.10" y1="76.92" x2="493.60" y2="76.92" stroke="#000" stroke-width="1.1"/>
<line x1="491.00" y1="64.63" x2="493.60" y2="64.63" stroke="#000" stroke-width="1.1"/>
<text transform="translate(489.00,67.63) scale(1.0,1)" font-size="8.8" text-anchor="end" font-weight="bold" fill="#000">-550</text>
<line x1="492.10" y1="52.35" x2="493.60" y2="52.35" stroke="#000" stroke-width="1.1"/>
<line x1="491.00" y1="40.07" x2="493.60" y2="40.07" stroke="#000" stroke-width="1.1"/>
<text transform="translate(489.00,43.07) scale(1.0,1)" font-size="8.8" text-anchor="end" font-weight="bold" fill="#000">-500</text>
<line x1="492.10" y1="27.78" x2="493.60" y2="27.78" stroke="#000" stroke-width="1.1"/>
<line x1="491.00" y1="15.50" x2="493.60" y2="15.50" stroke="#000" stroke-width="1.1"/>
<text transform="translate(489.00,18.50) scale(1.0,1)" font-size="8.8" text-anchor="end" font-weight="bold" fill="#000">-450</text>
<line x1="493.60" y1="162.90" x2="493.60" y2="165.50" stroke="#000" stroke-width="1.1"/>
<text transform="translate(493.60,174.40) scale(1.0,1)" font-size="8.8" text-anchor="middle" font-weight="bold" fill="#000">0</text>
<line x1="511.78" y1="162.90" x2="511.78" y2="164.40" stroke="#000" stroke-width="1.1"/>
<line x1="529.96" y1="162.90" x2="529.96" y2="165.50" stroke="#000" stroke-width="1.1"/>
<text transform="translate(529.96,174.40) scale(1.0,1)" font-size="8.8" text-anchor="middle" font-weight="bold" fill="#000">1000</text>
<line x1="548.14" y1="162.90" x2="548.14" y2="164.40" stroke="#000" stroke-width="1.1"/>
<line x1="566.32" y1="162.90" x2="566.32" y2="165.50" stroke="#000" stroke-width="1.1"/>
<text transform="translate(566.32,174.40) scale(1.0,1)" font-size="8.8" text-anchor="middle" font-weight="bold" fill="#000">2000</text>
<line x1="584.50" y1="162.90" x2="584.50" y2="164.40" stroke="#000" stroke-width="1.1"/>
<line x1="602.68" y1="162.90" x2="602.68" y2="165.50" stroke="#000" stroke-width="1.1"/>
<text transform="translate(602.68,174.40) scale(1.0,1)" font-size="8.8" text-anchor="middle" font-weight="bold" fill="#000">3000</text>
<line x1="620.86" y1="162.90" x2="620.86" y2="164.40" stroke="#000" stroke-width="1.1"/>
<line x1="639.04" y1="162.90" x2="639.04" y2="165.50" stroke="#000" stroke-width="1.1"/>
<text transform="translate(639.04,174.40) scale(1.0,1)" font-size="8.8" text-anchor="middle" font-weight="bold" fill="#000">4000</text>
<line x1="657.22" y1="162.90" x2="657.22" y2="164.40" stroke="#000" stroke-width="1.1"/>
<line x1="675.40" y1="162.90" x2="675.40" y2="165.50" stroke="#000" stroke-width="1.1"/>
<text transform="translate(675.40,174.40) scale(1.0,1)" font-size="8.8" text-anchor="middle" font-weight="bold" fill="#000">5000</text>
<text transform="translate(584.50,188.10) scale(0.92,1)" font-size="10.3" text-anchor="middle" font-weight="bold" fill="#000">Time (fs)</text>
<text transform="translate(464.60,85.40) rotate(-90) scale(1,0.96)" font-size="9.7" text-anchor="middle" font-weight="bold">Total energy (eV)</text>
<text transform="translate(453.60,10.50) scale(0.97,1)" font-size="15.2" text-anchor="start" font-weight="bold" fill="#000">(c)</text>
<text transform="translate(608.10,27.50) scale(0.99,1)" font-size="8.8" font-weight="bold">CaWO<tspan font-size="6" dy="2.3">3</tspan><tspan dy="-2.3" dx="5.4" font-size="8.8">@300K</tspan></text>
<text transform="translate(573.30,129.10) scale(0.95,1)" font-size="10.5" text-anchor="start" font-weight="bold" fill="#000">max</text>
<line x1="571.20" y1="126.80" x2="555.97" y2="132.17" stroke="#4a72c8" stroke-width="0.9"/>
<path d="M552.20,133.50 L555.44,130.66 L556.50,133.68 Z" fill="#3f68c8"/>
<text transform="translate(512.80,158.20) scale(0.93,1)" font-size="10.5" text-anchor="start" font-weight="bold" fill="#000">min</text>
<line x1="512.10" y1="156.00" x2="499.07" y2="150.38" stroke="#4a72c8" stroke-width="0.9"/>
<path d="M495.40,148.80 L499.71,148.91 L498.44,151.85 Z" fill="#3f68c8"/>
<rect x="54.5" y="219.2" width="37.8" height="34.9" fill="none" stroke="#c9c9c9" stroke-width="0.7"/>
<rect x="166.1" y="218.2" width="39.1" height="36.3" fill="none" stroke="#c9c9c9" stroke-width="0.7"/>
<path d="M60.8 220.1L54.5 225.4M60.8 220.1L67.1 225.4M73.4 220.1L67.1 225.4M73.4 220.1L79.7 225.4M86 220.1L79.7 225.4M86 220.1L92.3 225.4M54.5 228.1L54.5 225.4M54.5 228.1L48.2 225.4M54.5 228.1L60.8 225.4M67.1 228.1L67.1 225.4M67.1 228.1L60.8 225.4M67.1 228.1L73.4 225.4M79.7 228.1L79.7 225.4M79.7 228.1L73.4 225.4M79.7 228.1L86 225.4M92.3 228.1L92.3 225.4M92.3 228.1L86 225.4M60.8 237.5L54.5 242.4M60.8 237.5L67.1 242.4M73.4 237.5L67.1 242.4M73.4 237.5L79.7 242.4M86 237.5L79.7 242.4M86 237.5L92.3 242.4M54.5 245.1L54.5 242.4M54.5 245.1L48.2 242.4M54.5 245.1L60.8 242.4M67.1 245.1L67.1 242.4M67.1 245.1L60.8 242.4M67.1 245.1L73.4 242.4M79.7 245.1L79.7 242.4M79.7 245.1L73.4 242.4M79.7 245.1L86 242.4M92.3 245.1L92.3 242.4M92.3 245.1L86 242.4M47.6 265.5L99.2 265.5M47.6 278.1L99.2 278.1M47.6 290.7L99.2 290.7M47.6 303.3L99.2 303.3M54.5 258.6L54.5 310.2M67.1 258.6L67.1 310.2M79.7 258.6L79.7 310.2M92.3 258.6L92.3 310.2M172.6 219.2L166.1 224.6M172.6 219.2L179.1 224.6M185.6 219.2L179.1 224.6M185.6 219.2L192.2 224.6M198.7 219.2L192.2 224.6M198.7 219.2L205.2 224.6M166.1 227.3L166.1 224.6M166.1 227.3L159.6 224.6M166.1 227.3L172.6 224.6M179.1 227.3L179.1 224.6M179.1 227.3L172.6 224.6M179.1 227.3L185.6 224.6M192.2 227.3L192.2 224.6M192.2 227.3L185.6 224.6M192.2 227.3L198.7 224.6M205.2 227.3L205.2 224.6M205.2 227.3L198.7 224.6M172.6 237.1L166.1 242.4M172.6 237.1L179.1 242.4M185.6 237.1L179.1 242.4M185.6 237.1L192.2 242.4M198.7 237.1L192.2 242.4M198.7 237.1L205.2 242.4M166.1 245.1L166.1 242.4M166.1 245.1L159.6 242.4M166.1 245.1L172.6 242.4M179.1 245.1L179.1 242.4M179.1 245.1L172.6 242.4M179.1 245.1L185.6 242.4M192.2 245.1L192.2 242.4M192.2 245.1L185.6 242.4M192.2 245.1L198.7 242.4M205.2 245.1L205.2 242.4M205.2 245.1L198.7 242.4M159.5 264.7L212.5 264.7M159.5 277.6L212.5 277.6M159.5 290.4L212.5 290.4M159.5 303.3L212.5 303.3M166.6 257.6L166.6 310.4M179.5 257.6L179.5 310.4M192.5 257.6L192.5 310.4M205.4 257.6L205.4 310.4" stroke="#e3322b" stroke-width="0.7" fill="none"/>
<path d="M60.8 220.1L57.6 222.8M60.8 220.1L63.9 222.8M73.4 220.1L70.2 222.8M73.4 220.1L76.6 222.8M86 220.1L82.8 222.8M86 220.1L89.2 222.8M60.8 237.5L57.6 239.9M60.8 237.5L63.9 239.9M73.4 237.5L70.2 239.9M73.4 237.5L76.6 239.9M86 237.5L82.8 239.9M86 237.5L89.2 239.9M172.6 219.2L169.4 221.9M172.6 219.2L175.9 221.9M185.6 219.2L182.4 221.9M185.6 219.2L188.9 221.9M198.7 219.2L195.4 221.9M198.7 219.2L201.9 221.9M172.6 237.1L169.4 239.8M172.6 237.1L175.9 239.8M185.6 237.1L182.4 239.8M185.6 237.1L188.9 239.8M198.7 237.1L195.4 239.8M198.7 237.1L201.9 239.8" stroke="#e070e0" stroke-width="0.7" fill="none"/>
<path d="M60.8 220.1L60.8 225.4M73.4 220.1L73.4 225.4M86 220.1L86 225.4M60.8 237.5L60.8 242.4M73.4 237.5L73.4 242.4M86 237.5L86 242.4M172.6 219.2L172.6 224.6M185.6 219.2L185.6 224.6M198.7 219.2L198.7 224.6M172.6 237.1L172.6 242.4M185.6 237.1L185.6 242.4M198.7 237.1L198.7 242.4" stroke="#e3322b" stroke-width="0.6" fill="none"/>
<path d="M54.5 228.1L54.5 233.5M67.1 228.1L67.1 233.5M79.7 228.1L79.7 233.5M92.3 228.1L92.3 233.5M47.9 226.1L54.5 228.1M98.9 226.1L92.3 228.1M54.5 245.1L54.5 250.5M67.1 245.1L67.1 250.5M79.7 245.1L79.7 250.5M92.3 245.1L92.3 250.5M47.9 243.1L54.5 245.1M98.9 243.1L92.3 245.1M166.1 227.3L166.1 232.7M179.1 227.3L179.1 232.7M192.2 227.3L192.2 232.7M205.2 227.3L205.2 232.7M159.3 225.3L166.1 227.3M212 225.3L205.2 227.3M166.1 245.1L166.1 250.5M179.1 245.1L179.1 250.5M192.2 245.1L192.2 250.5M205.2 245.1L205.2 250.5M159.3 243.1L166.1 245.1M212 243.1L205.2 245.1" stroke="#e3322b" stroke-width="0.8" fill="none"/>
<path d="M51.6 271.8L57.4 271.8M64.2 271.8L70 271.8M76.8 271.8L82.6 271.8M89.4 271.8L95.2 271.8M51.6 284.4L57.4 284.4M64.2 284.4L70 284.4M76.8 284.4L82.6 284.4M89.4 284.4L95.2 284.4M51.6 297L57.4 297M64.2 297L70 297M76.8 297L82.6 297M89.4 297L95.2 297M60.8 262.6L60.8 268.4M60.8 275.2L60.8 281M60.8 287.8L60.8 293.6M60.8 300.4L60.8 306.2M73.4 262.6L73.4 268.4M73.4 275.2L73.4 281M73.4 287.8L73.4 293.6M73.4 300.4L73.4 306.2M86 262.6L86 268.4M86 275.2L86 281M86 287.8L86 293.6M86 300.4L86 306.2M163.7 271.1L169.5 271.1M176.6 271.1L182.4 271.1M189.6 271.1L195.4 271.1M202.5 271.1L208.3 271.1M163.7 284L169.5 284M176.6 284L182.4 284M189.6 284L195.4 284M202.5 284L208.3 284M163.7 296.9L169.5 296.9M176.6 296.9L182.4 296.9M189.6 296.9L195.4 296.9M202.5 296.9L208.3 296.9M173.1 261.8L173.1 267.6M173.1 274.7L173.1 280.5M173.1 287.5L173.1 293.3M173.1 300.4L173.1 306.2M186 261.8L186 267.6M186 274.7L186 280.5M186 287.5L186 293.3M186 300.4L186 306.2M198.9 261.8L198.9 267.6M198.9 274.7L198.9 280.5M198.9 287.5L198.9 293.3M198.9 300.4L198.9 306.2" stroke="#e3322b" stroke-width="0.6" opacity="0.85" fill="none"/>
<path d="M47.9 226.1h0M98.9 226.1h0M54.5 233.5h0M67.1 233.5h0M79.7 233.5h0M92.3 233.5h0M47.9 243.1h0M98.9 243.1h0M54.5 250.5h0M67.1 250.5h0M79.7 250.5h0M92.3 250.5h0M159.3 225.3h0M212 225.3h0M166.1 232.7h0M179.1 232.7h0M192.2 232.7h0M205.2 232.7h0M159.3 243.1h0M212 243.1h0M166.1 250.5h0M179.1 250.5h0M192.2 250.5h0M205.2 250.5h0" stroke="#e8231f" stroke-width="2.1" stroke-linecap="round" fill="none"/>
<path d="M54.5 225.4h0M60.8 225.4h0M67.1 225.4h0M73.4 225.4h0M79.7 225.4h0M86 225.4h0M92.3 225.4h0M54.5 242.4h0M60.8 242.4h0M67.1 242.4h0M73.4 242.4h0M79.7 242.4h0M86 242.4h0M92.3 242.4h0M166.1 224.6h0M172.6 224.6h0M179.1 224.6h0M185.6 224.6h0M192.2 224.6h0M198.7 224.6h0M205.2 224.6h0M166.1 242.4h0M172.6 242.4h0M179.1 242.4h0M185.6 242.4h0M192.2 242.4h0M198.7 242.4h0M205.2 242.4h0" stroke="#e8231f" stroke-width="1.9" stroke-linecap="round" fill="none"/>
<path d="M47.6 265.5h0M99.2 265.5h0M47.6 278.1h0M99.2 278.1h0M47.6 290.7h0M99.2 290.7h0M47.6 303.3h0M99.2 303.3h0M54.5 258.6h0M54.5 310.2h0M67.1 258.6h0M67.1 310.2h0M79.7 258.6h0M79.7 310.2h0M92.3 258.6h0M92.3 310.2h0M159.5 264.7h0M212.5 264.7h0M159.5 277.6h0M212.5 277.6h0M159.5 290.4h0M212.5 290.4h0M159.5 303.3h0M212.5 303.3h0M166.6 257.6h0M166.6 310.4h0M179.5 257.6h0M179.5 310.4h0M192.5 257.6h0M192.5 310.4h0M205.4 257.6h0M205.4 310.4h0" stroke="#e8231f" stroke-width="2.0" stroke-linecap="round" fill="none"/>
<path d="M60.8 265.5h0M73.4 265.5h0M86 265.5h0M60.8 278.1h0M73.4 278.1h0M86 278.1h0M60.8 290.7h0M73.4 290.7h0M86 290.7h0M60.8 303.3h0M73.4 303.3h0M86 303.3h0M54.5 271.8h0M67.1 271.8h0M79.7 271.8h0M92.3 271.8h0M54.5 284.4h0M67.1 284.4h0M79.7 284.4h0M92.3 284.4h0M54.5 297h0M67.1 297h0M79.7 297h0M92.3 297h0M173.1 264.7h0M186 264.7h0M198.9 264.7h0M173.1 277.6h0M186 277.6h0M198.9 277.6h0M173.1 290.4h0M186 290.4h0M198.9 290.4h0M173.1 303.3h0M186 303.3h0M198.9 303.3h0M166.6 271.1h0M179.5 271.1h0M192.5 271.1h0M205.4 271.1h0M166.6 284h0M179.5 284h0M192.5 284h0M205.4 284h0M166.6 296.9h0M179.5 296.9h0M192.5 296.9h0M205.4 296.9h0" stroke="#e8231f" stroke-width="1.7" stroke-linecap="round" fill="none"/>
<path d="M60.8 220.1h0M73.4 220.1h0M86 220.1h0M60.8 237.5h0M73.4 237.5h0M86 237.5h0M60.8 271.8h0M73.4 271.8h0M86 271.8h0M60.8 284.4h0M73.4 284.4h0M86 284.4h0M60.8 297h0M73.4 297h0M86 297h0M172.6 219.2h0M185.6 219.2h0M198.7 219.2h0M172.6 237.1h0M185.6 237.1h0M198.7 237.1h0M173.1 271.1h0M186 271.1h0M198.9 271.1h0M173.1 284h0M186 284h0M198.9 284h0M173.1 296.9h0M186 296.9h0M198.9 296.9h0" stroke="#c02ac2" stroke-width="5.5" stroke-linecap="round" fill="none"/>
<path d="M54.5 228.1h0M67.1 228.1h0M79.7 228.1h0M92.3 228.1h0M54.5 245.1h0M67.1 245.1h0M79.7 245.1h0M92.3 245.1h0M166.1 227.3h0M179.1 227.3h0M192.2 227.3h0M205.2 227.3h0M166.1 245.1h0M179.1 245.1h0M192.2 245.1h0M205.2 245.1h0" stroke="#2a2a2e" stroke-width="4.7" stroke-linecap="round" fill="none"/>
<path d="M54.5 265.5h0M67.1 265.5h0M79.7 265.5h0M92.3 265.5h0M54.5 278.1h0M67.1 278.1h0M79.7 278.1h0M92.3 278.1h0M54.5 290.7h0M67.1 290.7h0M79.7 290.7h0M92.3 290.7h0M54.5 303.3h0M67.1 303.3h0M79.7 303.3h0M92.3 303.3h0M166.6 264.7h0M179.5 264.7h0M192.5 264.7h0M205.4 264.7h0M166.6 277.6h0M179.5 277.6h0M192.5 277.6h0M205.4 277.6h0M166.6 290.4h0M179.5 290.4h0M192.5 290.4h0M205.4 290.4h0M166.6 303.3h0M179.5 303.3h0M192.5 303.3h0M205.4 303.3h0" stroke="#2a2a2e" stroke-width="5.33" stroke-linecap="round" fill="none"/>
<path d="M60.8 220.1h0M73.4 220.1h0M86 220.1h0M60.8 237.5h0M73.4 237.5h0M86 237.5h0M60.8 271.8h0M73.4 271.8h0M86 271.8h0M60.8 284.4h0M73.4 284.4h0M86 284.4h0M60.8 297h0M73.4 297h0M86 297h0M172.6 219.2h0M185.6 219.2h0M198.7 219.2h0M172.6 237.1h0M185.6 237.1h0M198.7 237.1h0M173.1 271.1h0M186 271.1h0M198.9 271.1h0M173.1 284h0M186 284h0M198.9 284h0M173.1 296.9h0M186 296.9h0M198.9 296.9h0" stroke="#e23ce4" stroke-width="4.9" stroke-linecap="round" fill="none"/>
<path d="M54.5 228.1h0M67.1 228.1h0M79.7 228.1h0M92.3 228.1h0M54.5 245.1h0M67.1 245.1h0M79.7 245.1h0M92.3 245.1h0M166.1 227.3h0M179.1 227.3h0M192.2 227.3h0M205.2 227.3h0M166.1 245.1h0M179.1 245.1h0M192.2 245.1h0M205.2 245.1h0" stroke="#4c4c54" stroke-width="3.7" stroke-linecap="round" fill="none"/>
<path d="M54.5 265.5h0M67.1 265.5h0M79.7 265.5h0M92.3 265.5h0M54.5 278.1h0M67.1 278.1h0M79.7 278.1h0M92.3 278.1h0M54.5 290.7h0M67.1 290.7h0M79.7 290.7h0M92.3 290.7h0M54.5 303.3h0M67.1 303.3h0M79.7 303.3h0M92.3 303.3h0M166.6 264.7h0M179.5 264.7h0M192.5 264.7h0M205.4 264.7h0M166.6 277.6h0M179.5 277.6h0M192.5 277.6h0M205.4 277.6h0M166.6 290.4h0M179.5 290.4h0M192.5 290.4h0M205.4 290.4h0M166.6 303.3h0M179.5 303.3h0M192.5 303.3h0M205.4 303.3h0" stroke="#4c4c54" stroke-width="4.33" stroke-linecap="round" fill="none"/>
<path d="M60.8 220.1h0M73.4 220.1h0M86 220.1h0M60.8 237.5h0M73.4 237.5h0M86 237.5h0M60.8 271.8h0M73.4 271.8h0M86 271.8h0M60.8 284.4h0M73.4 284.4h0M86 284.4h0M60.8 297h0M73.4 297h0M86 297h0M172.6 219.2h0M185.6 219.2h0M198.7 219.2h0M172.6 237.1h0M185.6 237.1h0M198.7 237.1h0M173.1 271.1h0M186 271.1h0M198.9 271.1h0M173.1 284h0M186 284h0M198.9 284h0M173.1 296.9h0M186 296.9h0M198.9 296.9h0" stroke="#f6a0f6" stroke-width="1.4" stroke-linecap="round" fill="none"/>
<path d="M54.5 228.1h0M67.1 228.1h0M79.7 228.1h0M92.3 228.1h0M54.5 245.1h0M67.1 245.1h0M79.7 245.1h0M92.3 245.1h0M166.1 227.3h0M179.1 227.3h0M192.2 227.3h0M205.2 227.3h0M166.1 245.1h0M179.1 245.1h0M192.2 245.1h0M205.2 245.1h0" stroke="#a0a0a8" stroke-width="2.0" stroke-linecap="round" fill="none"/>
<path d="M54.5 265.5h0M67.1 265.5h0M79.7 265.5h0M92.3 265.5h0M54.5 278.1h0M67.1 278.1h0M79.7 278.1h0M92.3 278.1h0M54.5 290.7h0M67.1 290.7h0M79.7 290.7h0M92.3 290.7h0M54.5 303.3h0M67.1 303.3h0M79.7 303.3h0M92.3 303.3h0M166.6 264.7h0M179.5 264.7h0M192.5 264.7h0M205.4 264.7h0M166.6 277.6h0M179.5 277.6h0M192.5 277.6h0M205.4 277.6h0M166.6 290.4h0M179.5 290.4h0M192.5 290.4h0M205.4 290.4h0M166.6 303.3h0M179.5 303.3h0M192.5 303.3h0M205.4 303.3h0" stroke="#9a9aa2" stroke-width="2.2" stroke-linecap="round" fill="none"/>
<path d="M114.50,256.10 L137.10,256.10 L137.10,252.95 L144.40,259.90 L137.10,266.85 L137.10,263.70 L114.50,263.70 Z" fill="url(#ga)"/>
<polyline points="45.9,320.5 46.2,322.1 46.6,323.7 46.9,323.3 47.2,323.5 47.5,322 47.9,323.8 48.2,322.5 48.5,320.2 48.9,322.1 49.2,320.1 49.5,324.5 49.9,324.6 50.2,321.5 50.5,321.4 50.9,323.7 51.2,320.9 51.5,320.8 51.8,320.8 52.2,321.6 52.5,323 52.8,324.7 53.2,320.9 53.5,324.7 53.8,322.7 54.1,324.4 54.5,324 54.8,320.7 55.1,323.2 55.5,320.5 55.8,319.9 56.1,321.9 56.5,323.8 56.8,322.8 57.1,320.9 57.5,324.1 57.8,324.5 58.1,321.1 58.4,322.2 58.8,323.1 59.1,324.5 59.4,320.6 59.8,322.7 60.1,324.8 60.4,323 60.8,323.6 61.1,323.9 61.4,322.5 61.7,321.4 62.1,322.9 62.4,322.6 62.7,321.7 63.1,324.4 63.4,322.6 63.7,323.8 64,325.8 64.4,326.7 64.7,327.8 65,327.2 65.4,325.8 65.7,329.5 66,330.3 66.4,329.4 66.7,329.6 67,328.4 67.3,328.3 67.7,328.7 68,326.5 68.3,329.2 68.7,330.1 69,326.6 69.3,329.6 69.7,329.3 70,326.4 70.3,326.1 70.7,328.8 71,326.9 71.3,327.3 71.6,328.9 72,329.1 72.3,329.5 72.6,328.6 73,327.5 73.3,325.8 73.6,326.3 74,326.7 74.3,328.3 74.6,329.3 74.9,326.7 75.3,327.5 75.6,330.1 75.9,327.3 76.3,328.7 76.6,328 76.9,327.9 77.2,326.7 77.6,326.7 77.9,327.2 78.2,324.2 78.6,327 78.9,327.1 79.2,322.7 79.6,323.3 79.9,323.5 80.2,322.7 80.5,323 80.9,325.6 81.2,323.2 81.5,323.2 81.9,327.9 82.2,325.5 82.5,326.5 82.9,326.5 83.2,326.1 83.5,326.9 83.8,325.9 84.2,328 84.5,326.5 84.8,326 85.2,326.4 85.5,327.5 85.8,330.1 86.2,328.5 86.5,330.4 86.8,327.5 87.2,326.8 87.5,329.1 87.8,326.5 88.1,330.5 88.5,327.5 88.8,326.9 89.1,326.9 89.5,327 89.8,330.2 90.1,330.4 90.5,328.2 90.8,326.5 91.1,325.3 91.4,325.4 91.8,326.3 92.1,327.6 92.4,327.1 92.8,327.6 93.1,326.7 93.4,323.6 93.8,324.4 94.1,322.6 94.4,323.5 94.7,320.4 95.1,324.3 95.4,319.7 95.7,323.1 96.1,322.4 96.4,325.4 96.7,322.8 97,327.3 97.4,323.5 97.7,327.7 98,328 98.4,327.3 98.7,325.8 99,327 99.4,327.4 99.7,326.3 100,326.1 100.3,329.5 100.7,328 101,326.6 101.3,328.4 101.7,328.4 102,325.9 102.3,328.2 102.7,328.2 103,325.8 103.3,326.7 103.7,329.5 104,328.1 104.3,326.3 104.6,327.1 105,327.4 105.3,328.6 105.6,329.3 106,325.4 106.3,325.1 106.6,326.9 107,324.7 107.3,325.2 107.6,324.8 107.9,324.5 108.3,327 108.6,324.1 108.9,326.3 109.3,328 109.6,323.6 109.9,326.5 110.2,325.4 110.6,323.1 110.9,326.8 111.2,325.5 111.6,323.6 111.9,326.1 112.2,322.1 112.6,325.8 112.9,325.9 113.2,322.3 113.5,326.5 113.9,326 114.2,326.8 114.5,323.9 114.9,326.4 115.2,326.9 115.5,325 115.9,323.6 116.2,323.7 116.5,326.4 116.8,326.8 117.2,324.8 117.5,327.5 117.8,324.7 118.2,327 118.5,327.2 118.8,325.8 119.2,325 119.5,329.4 119.8,329.1 120.2,327.8 120.5,325.1 120.8,327.5 121.1,329.7 121.5,328.8 121.8,328.4 122.1,325.1 122.5,327.8 122.8,326.1 123.1,329.8 123.5,325 123.8,326 124.1,329.3 124.4,325.5 124.8,326.4 125.1,326.4 125.4,329.3 125.8,328.4 126.1,329.5 126.4,325.8 126.8,325.3 127.1,326.6 127.4,328.7 127.7,327.9 128.1,329.5 128.4,328.4 128.7,325.2 129.1,326.4 129.4,325.8 129.7,326.1 130.1,328.1 130.4,327 130.7,328.6 131,324.9 131.4,329.3 131.7,325.6 132,328.5 132.4,329 132.7,325 133,327.5 133.3,329.6 133.7,324.8 134,327.2 134.3,326.9 134.7,326.6 135,325.7 135.3,325.6 135.7,326.1 136,325.8 136.3,326.2 136.7,329.2 137,329.4 137.3,326 137.6,324.8 138,326 138.3,329 138.6,325.6 139,328 139.3,325.1 139.6,326.4 139.9,325.5 140.3,327.7 140.6,326.5 140.9,328.5 141.3,327.2 141.6,326.7 141.9,324.7 142.3,328.8 142.6,324.8 142.9,327.1 143.2,329.6 143.6,328.6 143.9,326.4 144.2,329.2 144.6,325.9 144.9,327.5 145.2,327.5 145.6,328.2 145.9,326 146.2,326.6 146.6,326.2 146.9,329.2 147.2,328.2 147.5,326.3 147.9,328.4 148.2,327.6 148.5,325.8 148.9,327 149.2,325 149.5,325.6 149.8,324.9 150.2,324.9 150.5,327.6 150.8,328.7 151.2,328.7 151.5,325.6 151.8,329.2 152.2,326.2 152.5,327.9 152.8,327.5 153.2,326.9 153.5,327.9 153.8,328.9 154.1,327.9 154.5,327 154.8,328.8 155.1,328.2 155.5,326.3 155.8,329.3 156.1,326.5 156.4,324.6 156.8,329.2 157.1,329.1 157.4,327.1 157.8,328.2 158.1,327.9 158.4,324.9 158.8,328.4 159.1,327.5 159.4,329.2 159.8,326.8 160.1,325.8 160.4,328.2 160.7,327.1 161.1,328.7 161.4,324.6 161.7,327.8 162.1,328.9 162.4,325.3 162.7,324.8 163.1,326.8 163.4,327.6 163.7,327.5 164,327 164.4,326 164.7,327.9 165,329.3 165.4,326.8 165.7,326.3 166,329.1 166.3,325.2 166.7,327.1 167,328.5 167.3,328.2 167.7,328 168,327.7 168.3,326.5 168.7,329.1 169,324.3 169.3,326.4 169.7,326.5 170,327.8 170.3,325.7 170.6,325.2 171,326.5 171.3,327.4 171.6,326.9 172,328.6 172.3,326.6 172.6,325.2 172.9,327.4 173.3,326.1 173.6,324.3 173.9,326.2 174.3,324.7 174.6,327.4 174.9,328.7 175.3,327.8 175.6,328.9 175.9,324.9 176.2,328.3 176.6,328 176.9,325.3 177.2,326.5 177.6,325 177.9,325.7 178.2,326.7 178.6,326.1 178.9,326.1 179.2,327.7 179.6,327.5 179.9,324.7 180.2,327 180.5,328 180.9,324.3 181.2,327.8 181.5,324.2 181.9,326.3 182.2,326 182.5,324.2 182.8,324.5 183.2,327.5 183.5,325.5 183.8,326.7 184.2,324.9 184.5,327.2 184.8,328.8 185.2,327.9 185.5,326 185.8,328.9 186.2,325.9 186.5,325.5 186.8,326.3 187.1,329.1 187.5,326.1 187.8,325.6 188.1,326.9 188.5,327.3 188.8,328 189.1,327.7 189.4,327.5 189.8,326.2 190.1,326.4 190.4,329.1 190.8,326.7 191.1,328 191.4,326 191.8,324.3 192.1,326.2 192.4,326.8 192.8,326.2 193.1,325.3 193.4,325 193.7,324.5 194.1,327.7 194.4,326.9 194.7,328.3 195.1,328.5 195.4,328 195.7,328.2 196.1,328.7 196.4,328.8 196.7,328.3 197,328.7 197.4,326 197.7,329.2 198,328.7 198.4,328.3 198.7,328.5 199,327.9 199.3,326.6 199.7,325.4 200,326.2 200.3,321.9 200.7,323.7 201,326.2 201.3,324.2 201.7,324.6 202,325.7 202.3,326.5 202.7,326.8 203,325.4 203.3,325.5 203.6,325 204,326.6 204.3,325 204.6,326 205,325.1 205.3,327.5 205.6,327.4 205.9,325.4 206.3,329.4 206.6,325.6 206.9,328.8 207.3,325.4 207.6,326.7 207.9,326.6 208.3,326.2 208.6,324.4 208.9,326.7 209.2,325.1 209.6,324.1 209.9,322.9 210.2,320.8 210.6,320.9 210.9,322.4 211.2,321.5 211.6,323 211.9,320.7 212.2,322.3 212.6,317.5 212.9,317.3 213.2,322.5 213.5,319.1 213.9,320.7 214.2,323.3 214.5,319.4 214.9,320.2 215.2,323.2 215.5,322.4 215.8,322.4 216.2,326.8 216.5,326.5 216.8,326.5 217.2,327.9 217.5,326.5 217.8,327.2 218.2,327.1 218.5,328.9 218.8,328.1 219.2,328.8 219.5,328.8 219.8,328.9 220.1,326.4 220.5,330.1 220.8,330.8 221.1,326.7 221.5,330.1 221.8,329.3" fill="none" stroke="#ff1a1a" stroke-width="1.2" stroke-linejoin="round"/>
<rect x="45.40" y="199.20" width="177.20" height="144.30" fill="none" stroke="#000" stroke-width="1.15"/>
<line x1="42.80" y1="343.50" x2="45.40" y2="343.50" stroke="#000" stroke-width="1.1"/>
<text transform="translate(40.80,346.50) scale(1.0,1)" font-size="8.8" text-anchor="end" font-weight="bold" fill="#000">-720</text>
<line x1="43.90" y1="331.48" x2="45.40" y2="331.48" stroke="#000" stroke-width="1.1"/>
<line x1="42.80" y1="319.45" x2="45.40" y2="319.45" stroke="#000" stroke-width="1.1"/>
<text transform="translate(40.80,322.45) scale(1.0,1)" font-size="8.8" text-anchor="end" font-weight="bold" fill="#000">-680</text>
<line x1="43.90" y1="307.43" x2="45.40" y2="307.43" stroke="#000" stroke-width="1.1"/>
<line x1="42.80" y1="295.40" x2="45.40" y2="295.40" stroke="#000" stroke-width="1.1"/>
<text transform="translate(40.80,298.40) scale(1.0,1)" font-size="8.8" text-anchor="end" font-weight="bold" fill="#000">-640</text>
<line x1="43.90" y1="283.38" x2="45.40" y2="283.38" stroke="#000" stroke-width="1.1"/>
<line x1="42.80" y1="271.35" x2="45.40" y2="271.35" stroke="#000" stroke-width="1.1"/>
<text transform="translate(40.80,274.35) scale(1.0,1)" font-size="8.8" text-anchor="end" font-weight="bold" fill="#000">-600</text>
<line x1="43.90" y1="259.32" x2="45.40" y2="259.32" stroke="#000" stroke-width="1.1"/>
<line x1="42.80" y1="247.30" x2="45.40" y2="247.30" stroke="#000" stroke-width="1.1"/>
<text transform="translate(40.80,250.30) scale(1.0,1)" font-size="8.8" text-anchor="end" font-weight="bold" fill="#000">-560</text>
<line x1="43.90" y1="235.27" x2="45.40" y2="235.27" stroke="#000" stroke-width="1.1"/>
<line x1="42.80" y1="223.25" x2="45.40" y2="223.25" stroke="#000" stroke-width="1.1"/>
<text transform="translate(40.80,226.25) scale(1.0,1)" font-size="8.8" text-anchor="end" font-weight="bold" fill="#000">-520</text>
<line x1="43.90" y1="211.22" x2="45.40" y2="211.22" stroke="#000" stroke-width="1.1"/>
<line x1="42.80" y1="199.20" x2="45.40" y2="199.20" stroke="#000" stroke-width="1.1"/>
<text transform="translate(40.80,202.20) scale(1.0,1)" font-size="8.8" text-anchor="end" font-weight="bold" fill="#000">-480</text>
<line x1="45.40" y1="343.50" x2="45.40" y2="346.10" stroke="#000" stroke-width="1.1"/>
<text transform="translate(45.40,355.00) scale(1.0,1)" font-size="8.8" text-anchor="middle" font-weight="bold" fill="#000">0</text>
<line x1="63.12" y1="343.50" x2="63.12" y2="345.00" stroke="#000" stroke-width="1.1"/>
<line x1="80.84" y1="343.50" x2="80.84" y2="346.10" stroke="#000" stroke-width="1.1"/>
<text transform="translate(80.84,355.00) scale(1.0,1)" font-size="8.8" text-anchor="middle" font-weight="bold" fill="#000">1000</text>
<line x1="98.56" y1="343.50" x2="98.56" y2="345.00" stroke="#000" stroke-width="1.1"/>
<line x1="116.28" y1="343.50" x2="116.28" y2="346.10" stroke="#000" stroke-width="1.1"/>
<text transform="translate(116.28,355.00) scale(1.0,1)" font-size="8.8" text-anchor="middle" font-weight="bold" fill="#000">2000</text>
<line x1="134.00" y1="343.50" x2="134.00" y2="345.00" stroke="#000" stroke-width="1.1"/>
<line x1="151.72" y1="343.50" x2="151.72" y2="346.10" stroke="#000" stroke-width="1.1"/>
<text transform="translate(151.72,355.00) scale(1.0,1)" font-size="8.8" text-anchor="middle" font-weight="bold" fill="#000">3000</text>
<line x1="169.44" y1="343.50" x2="169.44" y2="345.00" stroke="#000" stroke-width="1.1"/>
<line x1="187.16" y1="343.50" x2="187.16" y2="346.10" stroke="#000" stroke-width="1.1"/>
<text transform="translate(187.16,355.00) scale(1.0,1)" font-size="8.8" text-anchor="middle" font-weight="bold" fill="#000">4000</text>
<line x1="204.88" y1="343.50" x2="204.88" y2="345.00" stroke="#000" stroke-width="1.1"/>
<line x1="222.60" y1="343.50" x2="222.60" y2="346.10" stroke="#000" stroke-width="1.1"/>
<text transform="translate(222.60,355.00) scale(1.0,1)" font-size="8.8" text-anchor="middle" font-weight="bold" fill="#000">5000</text>
<text transform="translate(134.00,368.70) scale(0.92,1)" font-size="10.3" text-anchor="middle" font-weight="bold" fill="#000">Time (fs)</text>
<text transform="translate(16.40,267.55) rotate(-90) scale(1,0.96)" font-size="9.7" text-anchor="middle" font-weight="bold">Total energy (eV)</text>
<text transform="translate(0.70,197.50) scale(0.97,1)" font-size="15.2" text-anchor="start" font-weight="bold" fill="#000">(d)</text>
<text transform="translate(157.10,209.50) scale(0.99,1)" font-size="8.8" font-weight="bold">EuPbO<tspan font-size="6" dy="2.3">3</tspan><tspan dy="-2.3" dx="5.4" font-size="8.8">@300K</tspan></text>
<text transform="translate(131.10,314.40) scale(0.95,1)" font-size="10.5" text-anchor="start" font-weight="bold" fill="#000">max</text>
<line x1="149.50" y1="313.00" x2="207.21" y2="317.21" stroke="#4a72c8" stroke-width="0.9"/>
<path d="M211.20,317.50 L207.09,318.80 L207.33,315.61 Z" fill="#3f68c8"/>
<text transform="translate(85.80,338.80) scale(0.93,1)" font-size="10.5" text-anchor="start" font-weight="bold" fill="#000">min</text>
<line x1="83.40" y1="337.50" x2="70.00" y2="332.02" stroke="#4a72c8" stroke-width="0.9"/>
<path d="M66.30,330.50 L70.61,330.53 L69.40,333.50 Z" fill="#3f68c8"/>
<rect x="277.9" y="215.4" width="35.2" height="30.8" fill="none" stroke="#c9c9c9" stroke-width="0.7"/>
<rect x="393.2" y="215" width="35" height="30.6" fill="none" stroke="#c9c9c9" stroke-width="0.7"/>
<path d="M283.8 217.3L277.9 214M283.8 217.3L277.9 221.2M283.8 217.3L289.6 214M283.8 217.3L289.6 221.2M295.5 217.3L289.6 214M295.5 217.3L289.6 221.2M295.5 217.3L301.4 214M295.5 217.3L301.4 221.2M307.2 217.3L301.4 214M307.2 217.3L301.4 221.2M307.2 217.3L313.1 214M307.2 217.3L313.1 221.2M277.9 223.9L277.9 221.2M277.9 223.9L272 221.2M277.9 223.9L283.8 221.2M289.6 223.9L289.6 221.2M289.6 223.9L283.8 221.2M289.6 223.9L295.5 221.2M301.4 223.9L301.4 221.2M301.4 223.9L295.5 221.2M301.4 223.9L307.2 221.2M313.1 223.9L313.1 221.2M313.1 223.9L307.2 221.2M283.8 232L277.9 228.7M283.8 232L277.9 236.3M283.8 232L289.6 228.7M283.8 232L289.6 236.3M295.5 232L289.6 228.7M295.5 232L289.6 236.3M295.5 232L301.4 228.7M295.5 232L301.4 236.3M307.2 232L301.4 228.7M307.2 232L301.4 236.3M307.2 232L313.1 228.7M307.2 232L313.1 236.3M277.9 239L277.9 236.3M277.9 239L272 236.3M277.9 239L283.8 236.3M289.6 239L289.6 236.3M289.6 239L283.8 236.3M289.6 239L295.5 236.3M301.4 239L301.4 236.3M301.4 239L295.5 236.3M301.4 239L307.2 236.3M313.1 239L313.1 236.3M313.1 239L307.2 236.3M271.5 255.1L319.4 255.1M271.5 266.4L319.4 266.4M271.5 277.8L319.4 277.8M271.5 289.1L319.4 289.1M277.9 248.9L277.9 295.3M289.6 248.9L289.6 295.3M301.3 248.9L301.3 295.3M313 248.9L313 295.3M399 216.7L393.2 213.4M399 216.7L393.2 220.8M399 216.7L404.9 213.4M399 216.7L404.9 220.8M410.7 216.7L404.9 213.4M410.7 216.7L404.9 220.8M410.7 216.7L416.5 213.4M410.7 216.7L416.5 220.8M422.4 216.7L416.5 213.4M422.4 216.7L416.5 220.8M422.4 216.7L428.2 213.4M422.4 216.7L428.2 220.8M393.2 223.5L393.2 220.8M393.2 223.5L387.4 220.8M393.2 223.5L399 220.8M404.9 223.5L404.9 220.8M404.9 223.5L399 220.8M404.9 223.5L410.7 220.8M416.5 223.5L416.5 220.8M416.5 223.5L410.7 220.8M416.5 223.5L422.4 220.8M428.2 223.5L428.2 220.8M428.2 223.5L422.4 220.8M399 232L393.2 228.7M399 232L393.2 235.9M399 232L404.9 228.7M399 232L404.9 235.9M410.7 232L404.9 228.7M410.7 232L404.9 235.9M410.7 232L416.5 228.7M410.7 232L416.5 235.9M422.4 232L416.5 228.7M422.4 232L416.5 235.9M422.4 232L428.2 228.7M422.4 232L428.2 235.9M393.2 238.6L393.2 235.9M393.2 238.6L387.4 235.9M393.2 238.6L399 235.9M404.9 238.6L404.9 235.9M404.9 238.6L399 235.9M404.9 238.6L410.7 235.9M416.5 238.6L416.5 235.9M416.5 238.6L410.7 235.9M416.5 238.6L422.4 235.9M428.2 238.6L428.2 235.9M428.2 238.6L422.4 235.9M386.3 255.1L435.4 255.1M386.3 266.9L435.4 266.9M386.3 278.6L435.4 278.6M386.3 290.4L435.4 290.4M392.9 248.6L392.9 296.9M404.9 248.6L404.9 296.9M416.8 248.6L416.8 296.9M428.8 248.6L428.8 296.9" stroke="#e3322b" stroke-width="0.7" fill="none"/>
<path d="M283.8 217.3L280.8 215.7M283.8 217.3L280.8 219.2M283.8 217.3L286.7 215.7M283.8 217.3L286.7 219.2M295.5 217.3L292.6 215.7M295.5 217.3L292.6 219.2M295.5 217.3L298.4 215.7M295.5 217.3L298.4 219.2M307.2 217.3L304.3 215.7M307.2 217.3L304.3 219.2M307.2 217.3L310.2 215.7M307.2 217.3L310.2 219.2M283.8 232L280.8 230.3M283.8 232L280.8 234.2M283.8 232L286.7 230.3M283.8 232L286.7 234.2M295.5 232L292.6 230.3M295.5 232L292.6 234.2M295.5 232L298.4 230.3M295.5 232L298.4 234.2M307.2 232L304.3 230.3M307.2 232L304.3 234.2M307.2 232L310.2 230.3M307.2 232L310.2 234.2M399 216.7L396.1 215M399 216.7L396.1 218.8M399 216.7L402 215M399 216.7L402 218.8M410.7 216.7L407.8 215M410.7 216.7L407.8 218.8M410.7 216.7L413.6 215M410.7 216.7L413.6 218.8M422.4 216.7L419.5 215M422.4 216.7L419.5 218.8M422.4 216.7L425.3 215M422.4 216.7L425.3 218.8M399 232L396.1 230.3M399 232L396.1 233.9M399 232L402 230.3M399 232L402 233.9M410.7 232L407.8 230.3M410.7 232L407.8 233.9M410.7 232L413.6 230.3M410.7 232L413.6 233.9M422.4 232L419.5 230.3M422.4 232L419.5 233.9M422.4 232L425.3 230.3M422.4 232L425.3 233.9" stroke="#e050e0" stroke-width="0.7" fill="none"/>
<path d="M283.8 217.3L283.8 221.2M295.5 217.3L295.5 221.2M307.2 217.3L307.2 221.2M283.8 232L283.8 236.3M295.5 232L295.5 236.3M307.2 232L307.2 236.3M399 216.7L399 220.8M410.7 216.7L410.7 220.8M422.4 216.7L422.4 220.8M399 232L399 235.9M410.7 232L410.7 235.9M422.4 232L422.4 235.9" stroke="#e3322b" stroke-width="0.6" fill="none"/>
<path d="M277.9 223.9L277.9 229.3M289.6 223.9L289.6 229.3M301.4 223.9L301.4 229.3M313.1 223.9L313.1 229.3M271.8 221.9L277.9 223.9M319.2 221.9L313.1 223.9M277.9 239L277.9 244.4M289.6 239L289.6 244.4M301.4 239L301.4 244.4M313.1 239L313.1 244.4M271.8 237L277.9 239M319.2 237L313.1 239M393.2 223.5L393.2 228.9M404.9 223.5L404.9 228.9M416.5 223.5L416.5 228.9M428.2 223.5L428.2 228.9M387.1 221.5L393.2 223.5M434.3 221.5L428.2 223.5M393.2 238.6L393.2 244M404.9 238.6L404.9 244M416.5 238.6L416.5 244M428.2 238.6L428.2 244M387.1 236.6L393.2 238.6M434.3 236.6L428.2 238.6" stroke="#e3322b" stroke-width="0.8" fill="none"/>
<path d="M275 260.8L280.8 260.8M286.7 260.8L292.5 260.8M298.4 260.8L304.2 260.8M310.1 260.8L315.9 260.8M275 272.1L280.8 272.1M286.7 272.1L292.5 272.1M298.4 272.1L304.2 272.1M310.1 272.1L315.9 272.1M275 283.4L280.8 283.4M286.7 283.4L292.5 283.4M298.4 283.4L304.2 283.4M310.1 283.4L315.9 283.4M283.8 252.2L283.8 258M283.8 263.5L283.8 269.3M283.8 274.9L283.8 280.7M283.8 286.2L283.8 292M295.4 252.2L295.4 258M295.4 263.5L295.4 269.3M295.4 274.9L295.4 280.7M295.4 286.2L295.4 292M307.1 252.2L307.1 258M307.1 263.5L307.1 269.3M307.1 274.9L307.1 280.7M307.1 286.2L307.1 292M390 261L395.8 261M402 261L407.8 261M413.9 261L419.7 261M425.9 261L431.7 261M390 272.8L395.8 272.8M402 272.8L407.8 272.8M413.9 272.8L419.7 272.8M425.9 272.8L431.7 272.8M390 284.5L395.8 284.5M402 284.5L407.8 284.5M413.9 284.5L419.7 284.5M425.9 284.5L431.7 284.5M398.9 252.2L398.9 258M398.9 264L398.9 269.8M398.9 275.7L398.9 281.5M398.9 287.5L398.9 293.3M410.9 252.2L410.9 258M410.9 264L410.9 269.8M410.9 275.7L410.9 281.5M410.9 287.5L410.9 293.3M422.8 252.2L422.8 258M422.8 264L422.8 269.8M422.8 275.7L422.8 281.5M422.8 287.5L422.8 293.3" stroke="#e3322b" stroke-width="0.6" opacity="0.85" fill="none"/>
<path d="M283.8 260.8L277.9 255.1M283.8 260.8L277.9 266.4M283.8 260.8L289.6 255.1M283.8 260.8L289.6 266.4M295.4 260.8L289.6 255.1M295.4 260.8L289.6 266.4M295.4 260.8L301.3 255.1M295.4 260.8L301.3 266.4M307.1 260.8L301.3 255.1M307.1 260.8L301.3 266.4M307.1 260.8L313 255.1M307.1 260.8L313 266.4M283.8 272.1L277.9 266.4M283.8 272.1L277.9 277.8M283.8 272.1L289.6 266.4M283.8 272.1L289.6 277.8M295.4 272.1L289.6 266.4M295.4 272.1L289.6 277.8M295.4 272.1L301.3 266.4M295.4 272.1L301.3 277.8M307.1 272.1L301.3 266.4M307.1 272.1L301.3 277.8M307.1 272.1L313 266.4M307.1 272.1L313 277.8M283.8 283.4L277.9 277.8M283.8 283.4L277.9 289.1M283.8 283.4L289.6 277.8M283.8 283.4L289.6 289.1M295.4 283.4L289.6 277.8M295.4 283.4L289.6 289.1M295.4 283.4L301.3 277.8M295.4 283.4L301.3 289.1M307.1 283.4L301.3 277.8M307.1 283.4L301.3 289.1M307.1 283.4L313 277.8M307.1 283.4L313 289.1M398.9 261L392.9 255.1M398.9 261L392.9 266.9M398.9 261L404.9 255.1M398.9 261L404.9 266.9M410.9 261L404.9 255.1M410.9 261L404.9 266.9M410.9 261L416.8 255.1M410.9 261L416.8 266.9M422.8 261L416.8 255.1M422.8 261L416.8 266.9M422.8 261L428.8 255.1M422.8 261L428.8 266.9M398.9 272.8L392.9 266.9M398.9 272.8L392.9 278.6M398.9 272.8L404.9 266.9M398.9 272.8L404.9 278.6M410.9 272.8L404.9 266.9M410.9 272.8L404.9 278.6M410.9 272.8L416.8 266.9M410.9 272.8L416.8 278.6M422.8 272.8L416.8 266.9M422.8 272.8L416.8 278.6M422.8 272.8L428.8 266.9M422.8 272.8L428.8 278.6M398.9 284.5L392.9 278.6M398.9 284.5L392.9 290.4M398.9 284.5L404.9 278.6M398.9 284.5L404.9 290.4M410.9 284.5L404.9 278.6M410.9 284.5L404.9 290.4M410.9 284.5L416.8 278.6M410.9 284.5L416.8 290.4M422.8 284.5L416.8 278.6M422.8 284.5L416.8 290.4M422.8 284.5L428.8 278.6M422.8 284.5L428.8 290.4" stroke="#e050e0" stroke-width="0.8" fill="none"/>
<path d="M271.8 221.9h0M319.2 221.9h0M277.9 229.3h0M289.6 229.3h0M301.4 229.3h0M313.1 229.3h0M271.8 237h0M319.2 237h0M277.9 244.4h0M289.6 244.4h0M301.4 244.4h0M313.1 244.4h0M387.1 221.5h0M434.3 221.5h0M393.2 228.9h0M404.9 228.9h0M416.5 228.9h0M428.2 228.9h0M387.1 236.6h0M434.3 236.6h0M393.2 244h0M404.9 244h0M416.5 244h0M428.2 244h0" stroke="#e8231f" stroke-width="2.1" stroke-linecap="round" fill="none"/>
<path d="M277.9 214h0M289.6 214h0M301.4 214h0M313.1 214h0M277.9 228.7h0M289.6 228.7h0M301.4 228.7h0M313.1 228.7h0M271.5 255.1h0M319.4 255.1h0M271.5 266.4h0M319.4 266.4h0M271.5 277.8h0M319.4 277.8h0M271.5 289.1h0M319.4 289.1h0M277.9 248.9h0M277.9 295.3h0M289.6 248.9h0M289.6 295.3h0M301.3 248.9h0M301.3 295.3h0M313 248.9h0M313 295.3h0M393.2 213.4h0M404.9 213.4h0M416.5 213.4h0M428.2 213.4h0M393.2 228.7h0M404.9 228.7h0M416.5 228.7h0M428.2 228.7h0M386.3 255.1h0M435.4 255.1h0M386.3 266.9h0M435.4 266.9h0M386.3 278.6h0M435.4 278.6h0M386.3 290.4h0M435.4 290.4h0M392.9 248.6h0M392.9 296.9h0M404.9 248.6h0M404.9 296.9h0M416.8 248.6h0M416.8 296.9h0M428.8 248.6h0M428.8 296.9h0" stroke="#e8231f" stroke-width="2.0" stroke-linecap="round" fill="none"/>
<path d="M277.9 221.2h0M283.8 221.2h0M289.6 221.2h0M295.5 221.2h0M301.4 221.2h0M307.2 221.2h0M313.1 221.2h0M277.9 236.3h0M283.8 236.3h0M289.6 236.3h0M295.5 236.3h0M301.4 236.3h0M307.2 236.3h0M313.1 236.3h0M393.2 220.8h0M399 220.8h0M404.9 220.8h0M410.7 220.8h0M416.5 220.8h0M422.4 220.8h0M428.2 220.8h0M393.2 235.9h0M399 235.9h0M404.9 235.9h0M410.7 235.9h0M416.5 235.9h0M422.4 235.9h0M428.2 235.9h0" stroke="#e8231f" stroke-width="1.9" stroke-linecap="round" fill="none"/>
<path d="M283.8 255.1h0M295.4 255.1h0M307.1 255.1h0M283.8 266.4h0M295.4 266.4h0M307.1 266.4h0M283.8 277.8h0M295.4 277.8h0M307.1 277.8h0M283.8 289.1h0M295.4 289.1h0M307.1 289.1h0M277.9 260.8h0M289.6 260.8h0M301.3 260.8h0M313 260.8h0M277.9 272.1h0M289.6 272.1h0M301.3 272.1h0M313 272.1h0M277.9 283.4h0M289.6 283.4h0M301.3 283.4h0M313 283.4h0M398.9 255.1h0M410.9 255.1h0M422.8 255.1h0M398.9 266.9h0M410.9 266.9h0M422.8 266.9h0M398.9 278.6h0M410.9 278.6h0M422.8 278.6h0M398.9 290.4h0M410.9 290.4h0M422.8 290.4h0M392.9 261h0M404.9 261h0M416.8 261h0M428.8 261h0M392.9 272.8h0M404.9 272.8h0M416.8 272.8h0M428.8 272.8h0M392.9 284.5h0M404.9 284.5h0M416.8 284.5h0M428.8 284.5h0" stroke="#e8231f" stroke-width="1.7" stroke-linecap="round" fill="none"/>
<path d="M283.8 217.3h0M295.5 217.3h0M307.2 217.3h0M283.8 232h0M295.5 232h0M307.2 232h0M283.8 260.8h0M295.4 260.8h0M307.1 260.8h0M283.8 272.1h0M295.4 272.1h0M307.1 272.1h0M283.8 283.4h0M295.4 283.4h0M307.1 283.4h0M399 216.7h0M410.7 216.7h0M422.4 216.7h0M399 232h0M410.7 232h0M422.4 232h0M398.9 261h0M410.9 261h0M422.8 261h0M398.9 272.8h0M410.9 272.8h0M422.8 272.8h0M398.9 284.5h0M410.9 284.5h0M422.8 284.5h0" stroke="#c02ac2" stroke-width="5.5" stroke-linecap="round" fill="none"/>
<path d="M277.9 223.9h0M289.6 223.9h0M301.4 223.9h0M313.1 223.9h0M277.9 239h0M289.6 239h0M301.4 239h0M313.1 239h0M277.9 255.1h0M289.6 255.1h0M301.3 255.1h0M313 255.1h0M277.9 266.4h0M289.6 266.4h0M301.3 266.4h0M313 266.4h0M277.9 277.8h0M289.6 277.8h0M301.3 277.8h0M313 277.8h0M277.9 289.1h0M289.6 289.1h0M301.3 289.1h0M313 289.1h0M393.2 223.5h0M404.9 223.5h0M416.5 223.5h0M428.2 223.5h0M393.2 238.6h0M404.9 238.6h0M416.5 238.6h0M428.2 238.6h0M392.9 255.1h0M404.9 255.1h0M416.8 255.1h0M428.8 255.1h0M392.9 266.9h0M404.9 266.9h0M416.8 266.9h0M428.8 266.9h0M392.9 278.6h0M404.9 278.6h0M416.8 278.6h0M428.8 278.6h0M392.9 290.4h0M404.9 290.4h0M416.8 290.4h0M428.8 290.4h0" stroke="#4d4a84" stroke-width="4.1" stroke-linecap="round" fill="none"/>
<path d="M283.8 217.3h0M295.5 217.3h0M307.2 217.3h0M283.8 232h0M295.5 232h0M307.2 232h0M283.8 260.8h0M295.4 260.8h0M307.1 260.8h0M283.8 272.1h0M295.4 272.1h0M307.1 272.1h0M283.8 283.4h0M295.4 283.4h0M307.1 283.4h0M399 216.7h0M410.7 216.7h0M422.4 216.7h0M399 232h0M410.7 232h0M422.4 232h0M398.9 261h0M410.9 261h0M422.8 261h0M398.9 272.8h0M410.9 272.8h0M422.8 272.8h0M398.9 284.5h0M410.9 284.5h0M422.8 284.5h0" stroke="#e23ce4" stroke-width="4.9" stroke-linecap="round" fill="none"/>
<path d="M277.9 223.9h0M289.6 223.9h0M301.4 223.9h0M313.1 223.9h0M277.9 239h0M289.6 239h0M301.4 239h0M313.1 239h0M277.9 255.1h0M289.6 255.1h0M301.3 255.1h0M313 255.1h0M277.9 266.4h0M289.6 266.4h0M301.3 266.4h0M313 266.4h0M277.9 277.8h0M289.6 277.8h0M301.3 277.8h0M313 277.8h0M277.9 289.1h0M289.6 289.1h0M301.3 289.1h0M313 289.1h0M393.2 223.5h0M404.9 223.5h0M416.5 223.5h0M428.2 223.5h0M393.2 238.6h0M404.9 238.6h0M416.5 238.6h0M428.2 238.6h0M392.9 255.1h0M404.9 255.1h0M416.8 255.1h0M428.8 255.1h0M392.9 266.9h0M404.9 266.9h0M416.8 266.9h0M428.8 266.9h0M392.9 278.6h0M404.9 278.6h0M416.8 278.6h0M428.8 278.6h0M392.9 290.4h0M404.9 290.4h0M416.8 290.4h0M428.8 290.4h0" stroke="#7471a8" stroke-width="3.1" stroke-linecap="round" fill="none"/>
<path d="M283.8 217.3h0M295.5 217.3h0M307.2 217.3h0M283.8 232h0M295.5 232h0M307.2 232h0M283.8 260.8h0M295.4 260.8h0M307.1 260.8h0M283.8 272.1h0M295.4 272.1h0M307.1 272.1h0M283.8 283.4h0M295.4 283.4h0M307.1 283.4h0M399 216.7h0M410.7 216.7h0M422.4 216.7h0M399 232h0M410.7 232h0M422.4 232h0M398.9 261h0M410.9 261h0M422.8 261h0M398.9 272.8h0M410.9 272.8h0M422.8 272.8h0M398.9 284.5h0M410.9 284.5h0M422.8 284.5h0" stroke="#f6a0f6" stroke-width="1.4" stroke-linecap="round" fill="none"/>
<path d="M277.9 223.9h0M289.6 223.9h0M301.4 223.9h0M313.1 223.9h0M277.9 239h0M289.6 239h0M301.4 239h0M313.1 239h0M393.2 223.5h0M404.9 223.5h0M416.5 223.5h0M428.2 223.5h0M393.2 238.6h0M404.9 238.6h0M416.5 238.6h0M428.2 238.6h0" stroke="#cfcde8" stroke-width="1.4" stroke-linecap="round" fill="none"/>
<path d="M277.9 255.1h0M289.6 255.1h0M301.3 255.1h0M313 255.1h0M277.9 266.4h0M289.6 266.4h0M301.3 266.4h0M313 266.4h0M277.9 277.8h0M289.6 277.8h0M301.3 277.8h0M313 277.8h0M277.9 289.1h0M289.6 289.1h0M301.3 289.1h0M313 289.1h0M392.9 255.1h0M404.9 255.1h0M416.8 255.1h0M428.8 255.1h0M392.9 266.9h0M404.9 266.9h0M416.8 266.9h0M428.8 266.9h0M392.9 278.6h0M404.9 278.6h0M416.8 278.6h0M428.8 278.6h0M392.9 290.4h0M404.9 290.4h0M416.8 290.4h0M428.8 290.4h0" stroke="#d0302a" stroke-width="1.6" stroke-linecap="round" fill="none"/>
<path d="M338.00,248.90 L360.30,248.90 L360.30,245.50 L368.00,252.70 L360.30,259.90 L360.30,256.50 L338.00,256.50 Z" fill="url(#ga)"/>
<polyline points="268.7,320.2 269,320.1 269.4,320.4 269.7,320.4 270,320.2 270.4,320.3 270.7,320.1 271,320.1 271.3,320.1 271.7,320.3 272,320.1 272.3,320.4 272.7,320 273,320.1 273.3,320 273.6,320.3 274,320.1 274.3,320.2 274.6,320.1 275,320.3 275.3,319.7 275.6,318.1 276,316.7 276.3,315.1 276.6,313 276.9,310.5 277.3,307.7 277.6,304.9 277.9,302.9 278.3,301.5 278.6,300.4 278.8,299.7 278.9,300.1 279.3,301.4 279.6,302.3 279.9,303.6 280.2,304.8 280.6,305.9 280.9,306.7 281.2,307.7 281.6,308.1 281.9,309 282.2,309.5 282.6,310.2 282.9,311.4 283.2,312.4 283.6,313.6 283.9,314.9 284.2,315.8 284.5,316.6 284.9,317.6 285.2,318.3 285.5,319.2 285.9,320.2 286.2,320.1 286.5,320.3 286.9,320.3 287.2,320.3 287.5,320 287.8,320 288.2,320 288.5,320.1 288.8,320.4 289.2,320.4 289.5,320.3 289.8,320 290.1,320.3 290.5,320.3 290.8,320.3 291.1,320.3 291.5,320.1 291.8,320.1 292.1,320.3 292.5,320.3 292.8,320.4 293.1,320.2 293.4,320.4 293.8,320.1 294.1,320.4 294.4,320.4 294.8,320.1 295.1,320 295.4,320.2 295.8,320.3 296.1,320.1 296.4,319.9 296.8,319.7 297.1,319.1 297.4,317.4 297.7,315.8 298.1,313.7 298.4,312.1 298.7,310.9 299.1,310.7 299.4,310.4 299.7,310 300.1,309.9 300.2,310.2 300.4,310.3 300.7,309.9 301,310.3 301.4,310.6 301.7,311.1 302,312.3 302.4,314 302.7,315.7 303,317.6 303.4,319.1 303.7,319.8 304,320.1 304.3,320.1 304.7,320.4 305,320.1 305.3,320.3 305.7,320.4 306,320.2 306.3,320 306.6,320.1 307,320 307.3,320.1 307.6,320 308,320.1 308.3,320.1 308.6,320.2 309,320.3 309.3,320.3 309.6,320.3 309.9,320.1 310.3,320.3 310.6,320.2 310.9,320.1 311.3,320.2 311.6,320.1 311.9,320.3 312.3,320.3 312.6,320.1 312.9,320.2 313.2,320.2 313.6,320.1 313.9,320 314.2,320 314.6,320.2 314.9,319.6 315.2,318.3 315.6,316.5 315.9,314.3 316.2,312.8 316.6,311.8 316.9,311.3 317.2,311 317.5,311.2 317.7,311.2 317.9,310.8 318.2,311 318.5,311.2 318.9,311.6 319.2,312.8 319.5,314.3 319.9,316.6 320.2,318.5 320.5,319.4 320.8,320.1 321.2,320.1 321.5,320.3 321.8,320.3 322.2,320.4 322.5,320.3 322.8,320.1 323.1,320.3 323.5,320.1 323.8,320.3 324.1,320.2 324.5,320.1 324.8,320.1 325.1,320.1 325.5,320.3 325.8,320 326.1,320.1 326.4,320.1 326.8,320.1 327.1,320.3 327.4,320.2 327.8,320.3 328.1,320.4 328.4,320.2 328.8,320 329.1,320.1 329.4,320.2 329.8,320.3 330.1,320.4 330.4,320.2 330.7,320.1 331.1,320.2 331.4,320.4 331.7,320.1 332.1,320.2 332.4,319.7 332.7,318.4 333.1,316.5 333.4,314.3 333.7,312.6 334,311.5 334.4,311.2 334.7,311.1 335,311.2 335.2,311 335.4,311.2 335.7,311 336,311 336.4,311.5 336.7,312.6 337,314.4 337.3,316.6 337.7,318.2 338,319.4 338.3,320.1 338.7,320.1 339,320.2 339.3,320.1 339.6,320.3 340,320.4 340.3,320.3 340.6,320.4 341,320.1 341.3,320 341.6,320.1 342,320.4 342.3,320.2 342.6,320.1 342.9,320.1 343.3,320.1 343.6,320.2 343.9,320.4 344.3,320.4 344.6,320.3 344.9,320.3 345.3,320.1 345.6,320.3 345.9,320.1 346.2,320.2 346.6,320 346.9,320.4 347.2,320.1 347.6,320.2 347.9,320.3 348.2,320.2 348.6,320.1 348.9,319.6 349.2,318.7 349.6,317.2 349.9,315.1 350.2,313.4 350.5,312.1 350.9,311 351.2,310.9 351.5,310.6 351.9,310.8 352,310.6 352.2,310.8 352.5,310.5 352.9,311 353.2,311.1 353.5,311.9 353.8,313.3 354.2,315.2 354.5,317.5 354.8,319 355.2,319.9 355.5,320 355.8,320.3 356.1,320.3 356.5,320.3 356.8,320.1 357.1,320.4 357.5,320.3 357.8,320.3 358.1,320.1 358.5,320.2 358.8,320.3 359.1,320.2 359.4,320.2 359.8,320.4 360.1,320.2 360.4,320.3 360.8,320 361.1,320.2 361.4,320.3 361.8,320 362.1,320.3 362.4,320.1 362.8,320.3 363.1,320.2 363.4,320.1 363.7,320.4 364.1,320.1 364.4,320.1 364.7,320.2 365.1,320 365.4,320 365.7,320.3 366.1,319.8 366.4,319.4 366.7,318.3 367,316.3 367.4,314.3 367.7,312.6 368,311.1 368.4,310.4 368.7,310.4 369,310.4 369.4,310.3 369.4,310.3 369.7,310.2 370,310.4 370.3,310.5 370.7,311.1 371,312.2 371.3,313.4 371.7,315.7 372,317.7 372.3,318.9 372.6,319.8 373,320.2 373.3,320.2 373.6,320.2 374,320.1 374.3,320.2 374.6,320.4 375,320.4 375.3,320.2 375.6,320.3 375.9,320 376.3,320.1 376.6,320.2 376.9,320.3 377.3,320 377.6,320.1 377.9,320.2 378.3,320.1 378.6,320.1 378.9,320.1 379.2,320.2 379.6,320.3 379.9,320.1 380.2,320.3 380.6,320 380.9,320.1 381.2,320.3 381.6,320 381.9,320.1 382.2,320.1 382.6,320.1 382.9,320.4 383.2,320.1 383.5,320.3 383.9,320.4 384.2,320.1 384.5,320.3 384.9,320 385.2,319.5 385.5,317.8 385.9,315.1 386.2,312.7 386.5,310.9 386.8,310 387.2,309.9 387.5,309.7 387.6,309.7 387.8,310 388.2,310.1 388.5,310.2 388.8,311.6 389.1,313.6 389.5,315 389.8,315 390.1,315.4 390.5,316.6 390.8,318.5 391.1,319.7 391.5,320.2 391.8,320.4 392.1,320.1 392.4,320 392.8,320.2 393.1,320.3 393.4,320.3 393.8,320.4 394.1,320 394.4,320.1 394.8,320.1 395.1,320.2 395.4,320.2 395.8,320.4 396.1,320.2 396.4,320.2 396.7,320.3 397.1,320.1 397.4,320.4 397.7,320.3 398.1,320.3 398.4,320.3 398.7,320.1 399.1,320 399.4,320.1 399.7,320.3 400,320.1 400.4,320.3 400.7,320.3 401,320.3 401.4,320.2 401.7,320.1 402,320.3 402.4,319.8 402.7,318.4 403,315.1 403.3,311.7 403.7,309.8 404,309.7 404.3,309.4 404.3,309.5 404.7,309.5 405,310.2 405.3,311.9 405.6,311.3 406,311.2 406,311.3 406.3,311.2 406.6,311.9 407,314.5 407.3,317.8 407.6,320 408,320.2 408.3,320.1 408.6,320.1 408.9,320.1 409.3,320.3 409.6,320.1 409.9,320.4 410.3,320.2 410.6,320.1 410.9,320.3 411.3,320.2 411.6,320.4 411.9,320.1 412.2,320.3 412.6,320 412.9,320.1 413.2,320.2 413.6,320.1 413.9,320.1 414.2,320.2 414.6,320.3 414.9,320.2 415.2,320.2 415.6,320.3 415.9,320.1 416.2,320.4 416.5,320 416.9,320.1 417.2,320.3 417.5,320.1 417.9,320.1 418.2,320.1 418.5,320.4 418.9,320.4 419.2,320 419.5,320.2 419.8,320 420.2,319.6 420.5,316.7 420.8,311.4 421.2,307.7 421.5,306.6 421.8,306.6 421.8,306.4 422.1,306.6 422.5,307.8 422.8,312.1 423.1,317.3 423.5,320 423.8,320.1 424.1,320.2 424.5,320.2 424.8,320.1 425.1,320.2 425.4,320.3 425.8,320 426.1,320.1 426.4,320 426.8,320.2 427.1,320 427.4,320.2 427.8,320.1 428.1,320.2 428.4,320.1 428.8,320.3 429.1,320.3 429.4,320.4 429.7,320.2 430.1,320.4 430.4,320.3 430.7,320.1 431.1,320.4 431.4,320.4 431.7,320.1 432.1,320.3 432.4,320.3 432.7,320.2 433,320.3 433.4,320.1 433.7,320.3 434,320.3 434.4,320.1 434.7,320.4 435,320.3 435.4,320 435.7,319.7 436,318.4 436.3,315.6 436.7,312.1 437,309.9 437.3,308.9 437.7,308.5 437.9,308.5 438,308.4 438.3,308.6 438.6,309.1 439,310.7 439.3,313.2 439.6,312.3 440,312.3 440,312.3 440.3,312.3 440.6,312.8 441,314.9 441.3,318.1 441.6,319.9 441.9,320.3 442.3,320.3 442.6,320.3 442.9,320.1 443.3,320.2 443.6,320.2 443.9,320 444.3,320 444.6,320.2 444.9,320.4" fill="none" stroke="#ff1a1a" stroke-width="1.1" stroke-linejoin="round"/>
<rect x="268.20" y="200.10" width="177.30" height="143.40" fill="none" stroke="#000" stroke-width="1.15"/>
<line x1="265.60" y1="343.50" x2="268.20" y2="343.50" stroke="#000" stroke-width="1.1"/>
<text transform="translate(263.60,346.50) scale(1.0,1)" font-size="8.8" text-anchor="end" font-weight="bold" fill="#000">-760</text>
<line x1="266.70" y1="333.26" x2="268.20" y2="333.26" stroke="#000" stroke-width="1.1"/>
<line x1="265.60" y1="323.01" x2="268.20" y2="323.01" stroke="#000" stroke-width="1.1"/>
<text transform="translate(263.60,326.01) scale(1.0,1)" font-size="8.8" text-anchor="end" font-weight="bold" fill="#000">-720</text>
<line x1="266.70" y1="312.77" x2="268.20" y2="312.77" stroke="#000" stroke-width="1.1"/>
<line x1="265.60" y1="302.53" x2="268.20" y2="302.53" stroke="#000" stroke-width="1.1"/>
<text transform="translate(263.60,305.53) scale(1.0,1)" font-size="8.8" text-anchor="end" font-weight="bold" fill="#000">-680</text>
<line x1="266.70" y1="292.29" x2="268.20" y2="292.29" stroke="#000" stroke-width="1.1"/>
<line x1="265.60" y1="282.04" x2="268.20" y2="282.04" stroke="#000" stroke-width="1.1"/>
<text transform="translate(263.60,285.04) scale(1.0,1)" font-size="8.8" text-anchor="end" font-weight="bold" fill="#000">-640</text>
<line x1="266.70" y1="271.80" x2="268.20" y2="271.80" stroke="#000" stroke-width="1.1"/>
<line x1="265.60" y1="261.56" x2="268.20" y2="261.56" stroke="#000" stroke-width="1.1"/>
<text transform="translate(263.60,264.56) scale(1.0,1)" font-size="8.8" text-anchor="end" font-weight="bold" fill="#000">-600</text>
<line x1="266.70" y1="251.31" x2="268.20" y2="251.31" stroke="#000" stroke-width="1.1"/>
<line x1="265.60" y1="241.07" x2="268.20" y2="241.07" stroke="#000" stroke-width="1.1"/>
<text transform="translate(263.60,244.07) scale(1.0,1)" font-size="8.8" text-anchor="end" font-weight="bold" fill="#000">-560</text>
<line x1="266.70" y1="230.83" x2="268.20" y2="230.83" stroke="#000" stroke-width="1.1"/>
<line x1="265.60" y1="220.59" x2="268.20" y2="220.59" stroke="#000" stroke-width="1.1"/>
<text transform="translate(263.60,223.59) scale(1.0,1)" font-size="8.8" text-anchor="end" font-weight="bold" fill="#000">-520</text>
<line x1="266.70" y1="210.34" x2="268.20" y2="210.34" stroke="#000" stroke-width="1.1"/>
<line x1="265.60" y1="200.10" x2="268.20" y2="200.10" stroke="#000" stroke-width="1.1"/>
<text transform="translate(263.60,203.10) scale(1.0,1)" font-size="8.8" text-anchor="end" font-weight="bold" fill="#000">-480</text>
<line x1="268.20" y1="343.50" x2="268.20" y2="346.10" stroke="#000" stroke-width="1.1"/>
<text transform="translate(268.20,355.00) scale(1.0,1)" font-size="8.8" text-anchor="middle" font-weight="bold" fill="#000">0</text>
<line x1="285.93" y1="343.50" x2="285.93" y2="345.00" stroke="#000" stroke-width="1.1"/>
<line x1="303.66" y1="343.50" x2="303.66" y2="346.10" stroke="#000" stroke-width="1.1"/>
<text transform="translate(303.66,355.00) scale(1.0,1)" font-size="8.8" text-anchor="middle" font-weight="bold" fill="#000">1000</text>
<line x1="321.39" y1="343.50" x2="321.39" y2="345.00" stroke="#000" stroke-width="1.1"/>
<line x1="339.12" y1="343.50" x2="339.12" y2="346.10" stroke="#000" stroke-width="1.1"/>
<text transform="translate(339.12,355.00) scale(1.0,1)" font-size="8.8" text-anchor="middle" font-weight="bold" fill="#000">2000</text>
<line x1="356.85" y1="343.50" x2="356.85" y2="345.00" stroke="#000" stroke-width="1.1"/>
<line x1="374.58" y1="343.50" x2="374.58" y2="346.10" stroke="#000" stroke-width="1.1"/>
<text transform="translate(374.58,355.00) scale(1.0,1)" font-size="8.8" text-anchor="middle" font-weight="bold" fill="#000">3000</text>
<line x1="392.31" y1="343.50" x2="392.31" y2="345.00" stroke="#000" stroke-width="1.1"/>
<line x1="410.04" y1="343.50" x2="410.04" y2="346.10" stroke="#000" stroke-width="1.1"/>
<text transform="translate(410.04,355.00) scale(1.0,1)" font-size="8.8" text-anchor="middle" font-weight="bold" fill="#000">4000</text>
<line x1="427.77" y1="343.50" x2="427.77" y2="345.00" stroke="#000" stroke-width="1.1"/>
<line x1="445.50" y1="343.50" x2="445.50" y2="346.10" stroke="#000" stroke-width="1.1"/>
<text transform="translate(445.50,355.00) scale(1.0,1)" font-size="8.8" text-anchor="middle" font-weight="bold" fill="#000">5000</text>
<text transform="translate(356.85,368.70) scale(0.92,1)" font-size="10.3" text-anchor="middle" font-weight="bold" fill="#000">Time (fs)</text>
<text transform="translate(239.20,268.00) rotate(-90) scale(1,0.96)" font-size="9.7" text-anchor="middle" font-weight="bold">Total energy (eV)</text>
<text transform="translate(231.90,197.50) scale(0.97,1)" font-size="15.2" text-anchor="start" font-weight="bold" fill="#000">(e)</text>
<text transform="translate(380.30,209.50) scale(0.99,1)" font-size="8.8" font-weight="bold">EuSnO<tspan font-size="6" dy="2.3">3</tspan><tspan dy="-2.3" dx="5.4" font-size="8.8">@300K</tspan></text>
<text transform="translate(339.00,299.00) scale(0.95,1)" font-size="10.5" text-anchor="start" font-weight="bold" fill="#000">max</text>
<line x1="338.30" y1="297.50" x2="283.40" y2="299.18" stroke="#4a72c8" stroke-width="0.9"/>
<path d="M279.40,299.30 L283.35,297.58 L283.45,300.78 Z" fill="#3f68c8"/>
<text transform="translate(291.20,333.30) scale(0.93,1)" font-size="10.5" text-anchor="start" font-weight="bold" fill="#000">min</text>
<line x1="288.80" y1="329.30" x2="275.30" y2="323.73" stroke="#4a72c8" stroke-width="0.9"/>
<path d="M271.60,322.20 L275.91,322.25 L274.69,325.21 Z" fill="#3f68c8"/>
<rect x="508.6" y="221" width="35" height="30.6" fill="none" stroke="#c9c9c9" stroke-width="0.7"/>
<rect x="611" y="220" width="35.3" height="30.6" fill="none" stroke="#c9c9c9" stroke-width="0.7"/>
<path d="M514.4 222.9L508.6 219.6M514.4 222.9L508.6 226.6M514.4 222.9L520.3 219.6M514.4 222.9L520.3 226.6M526.1 222.9L520.3 219.6M526.1 222.9L520.3 226.6M526.1 222.9L531.9 219.6M526.1 222.9L531.9 226.6M537.8 222.9L531.9 219.6M537.8 222.9L531.9 226.6M537.8 222.9L543.6 219.6M537.8 222.9L543.6 226.6M508.6 229.3L508.6 226.6M508.6 229.3L502.8 226.6M508.6 229.3L514.4 226.6M520.3 229.3L520.3 226.6M520.3 229.3L514.4 226.6M520.3 229.3L526.1 226.6M531.9 229.3L531.9 226.6M531.9 229.3L526.1 226.6M531.9 229.3L537.8 226.6M543.6 229.3L543.6 226.6M543.6 229.3L537.8 226.6M514.4 238L508.6 234.7M514.4 238L508.6 241.3M514.4 238L520.3 234.7M514.4 238L520.3 241.3M526.1 238L520.3 234.7M526.1 238L520.3 241.3M526.1 238L531.9 234.7M526.1 238L531.9 241.3M537.8 238L531.9 234.7M537.8 238L531.9 241.3M537.8 238L543.6 234.7M537.8 238L543.6 241.3M508.6 244L508.6 241.3M508.6 244L502.8 241.3M508.6 244L514.4 241.3M520.3 244L520.3 241.3M520.3 244L514.4 241.3M520.3 244L526.1 241.3M531.9 244L531.9 241.3M531.9 244L526.1 241.3M531.9 244L537.8 241.3M543.6 244L543.6 241.3M543.6 244L537.8 241.3M502.3 262.9L549.5 262.9M502.3 274.4L549.5 274.4M502.3 285.8L549.5 285.8M502.3 297.3L549.5 297.3M508.6 256.6L508.6 303.6M520.1 256.6L520.1 303.6M531.7 256.6L531.7 303.6M543.2 256.6L543.2 303.6M616.9 221.7L611 218.4M616.9 221.7L611 226.2M616.9 221.7L622.8 218.4M616.9 221.7L622.8 226.2M628.7 221.7L622.8 218.4M628.7 221.7L622.8 226.2M628.7 221.7L634.5 218.4M628.7 221.7L634.5 226.2M640.4 221.7L634.5 218.4M640.4 221.7L634.5 226.2M640.4 221.7L646.3 218.4M640.4 221.7L646.3 226.2M611 228.9L611 226.2M611 228.9L605.1 226.2M611 228.9L616.9 226.2M622.8 228.9L622.8 226.2M622.8 228.9L616.9 226.2M622.8 228.9L628.7 226.2M634.5 228.9L634.5 226.2M634.5 228.9L628.7 226.2M634.5 228.9L640.4 226.2M646.3 228.9L646.3 226.2M646.3 228.9L640.4 226.2M616.9 237L611 233.7M616.9 237L611 241.3M616.9 237L622.8 233.7M616.9 237L622.8 241.3M628.7 237L622.8 233.7M628.7 237L622.8 241.3M628.7 237L634.5 233.7M628.7 237L634.5 241.3M640.4 237L634.5 233.7M640.4 237L634.5 241.3M640.4 237L646.3 233.7M640.4 237L646.3 241.3M611 244L611 241.3M611 244L605.1 241.3M611 244L616.9 241.3M622.8 244L622.8 241.3M622.8 244L616.9 241.3M622.8 244L628.7 241.3M634.5 244L634.5 241.3M634.5 244L628.7 241.3M634.5 244L640.4 241.3M646.3 244L646.3 241.3M646.3 244L640.4 241.3M604.6 263.9L652.1 263.9M604.6 275.2L652.1 275.2M604.6 286.6L652.1 286.6M604.6 297.9L652.1 297.9M611 257.7L611 304.1M622.6 257.7L622.6 304.1M634.1 257.7L634.1 304.1M645.7 257.7L645.7 304.1" stroke="#e3322b" stroke-width="0.7" fill="none"/>
<path d="M514.4 222.9L511.5 221.2M514.4 222.9L511.5 224.8M514.4 222.9L517.4 221.2M514.4 222.9L517.4 224.8M526.1 222.9L523.2 221.2M526.1 222.9L523.2 224.8M526.1 222.9L529 221.2M526.1 222.9L529 224.8M537.8 222.9L534.9 221.2M537.8 222.9L534.9 224.8M537.8 222.9L540.7 221.2M537.8 222.9L540.7 224.8M514.4 238L511.5 236.3M514.4 238L511.5 239.7M514.4 238L517.4 236.3M514.4 238L517.4 239.7M526.1 238L523.2 236.3M526.1 238L523.2 239.7M526.1 238L529 236.3M526.1 238L529 239.7M537.8 238L534.9 236.3M537.8 238L534.9 239.7M537.8 238L540.7 236.3M537.8 238L540.7 239.7M616.9 221.7L613.9 220M616.9 221.7L613.9 223.9M616.9 221.7L619.8 220M616.9 221.7L619.8 223.9M628.7 221.7L625.7 220M628.7 221.7L625.7 223.9M628.7 221.7L631.6 220M628.7 221.7L631.6 223.9M640.4 221.7L637.5 220M640.4 221.7L637.5 223.9M640.4 221.7L643.4 220M640.4 221.7L643.4 223.9M616.9 237L613.9 235.3M616.9 237L613.9 239.2M616.9 237L619.8 235.3M616.9 237L619.8 239.2M628.7 237L625.7 235.3M628.7 237L625.7 239.2M628.7 237L631.6 235.3M628.7 237L631.6 239.2M640.4 237L637.5 235.3M640.4 237L637.5 239.2M640.4 237L643.4 235.3M640.4 237L643.4 239.2" stroke="#8886c0" stroke-width="0.7" fill="none"/>
<path d="M514.4 222.9L514.4 226.6M526.1 222.9L526.1 226.6M537.8 222.9L537.8 226.6M514.4 238L514.4 241.3M526.1 238L526.1 241.3M537.8 238L537.8 241.3M616.9 221.7L616.9 226.2M628.7 221.7L628.7 226.2M640.4 221.7L640.4 226.2M616.9 237L616.9 241.3M628.7 237L628.7 241.3M640.4 237L640.4 241.3" stroke="#e3322b" stroke-width="0.6" fill="none"/>
<path d="M508.6 229.3L508.6 234.7M520.3 229.3L520.3 234.7M531.9 229.3L531.9 234.7M543.6 229.3L543.6 234.7M502.5 227.3L508.6 229.3M549.7 227.3L543.6 229.3M508.6 244L508.6 249.4M520.3 244L520.3 249.4M531.9 244L531.9 249.4M543.6 244L543.6 249.4M502.5 242L508.6 244M549.7 242L543.6 244M611 228.9L611 234.3M622.8 228.9L622.8 234.3M634.5 228.9L634.5 234.3M646.3 228.9L646.3 234.3M604.9 226.9L611 228.9M652.4 226.9L646.3 228.9M611 244L611 249.4M622.8 244L622.8 249.4M634.5 244L634.5 249.4M646.3 244L646.3 249.4M604.9 242L611 244M652.4 242L646.3 244" stroke="#e3322b" stroke-width="0.8" fill="none"/>
<path d="M505.7 268.6L511.5 268.6M517.2 268.6L523 268.6M528.8 268.6L534.6 268.6M540.3 268.6L546.1 268.6M505.7 280.1L511.5 280.1M517.2 280.1L523 280.1M528.8 280.1L534.6 280.1M540.3 280.1L546.1 280.1M505.7 291.6L511.5 291.6M517.2 291.6L523 291.6M528.8 291.6L534.6 291.6M540.3 291.6L546.1 291.6M514.4 260L514.4 265.8M514.4 271.5L514.4 277.3M514.4 282.9L514.4 288.7M514.4 294.4L514.4 300.2M525.9 260L525.9 265.8M525.9 271.5L525.9 277.3M525.9 282.9L525.9 288.7M525.9 294.4L525.9 300.2M537.4 260L537.4 265.8M537.4 271.5L537.4 277.3M537.4 282.9L537.4 288.7M537.4 294.4L537.4 300.2M608.1 269.6L613.9 269.6M619.7 269.6L625.5 269.6M631.2 269.6L637 269.6M642.8 269.6L648.6 269.6M608.1 280.9L613.9 280.9M619.7 280.9L625.5 280.9M631.2 280.9L637 280.9M642.8 280.9L648.6 280.9M608.1 292.2L613.9 292.2M619.7 292.2L625.5 292.2M631.2 292.2L637 292.2M642.8 292.2L648.6 292.2M616.8 261L616.8 266.8M616.8 272.3L616.8 278.1M616.8 283.7L616.8 289.5M616.8 295L616.8 300.8M628.4 261L628.4 266.8M628.4 272.3L628.4 278.1M628.4 283.7L628.4 289.5M628.4 295L628.4 300.8M639.9 261L639.9 266.8M639.9 272.3L639.9 278.1M639.9 283.7L639.9 289.5M639.9 295L639.9 300.8" stroke="#e3322b" stroke-width="0.6" opacity="0.85" fill="none"/>
<path d="M514.4 268.6L508.6 262.9M514.4 268.6L508.6 274.4M514.4 268.6L520.1 262.9M514.4 268.6L520.1 274.4M525.9 268.6L520.1 262.9M525.9 268.6L520.1 274.4M525.9 268.6L531.7 262.9M525.9 268.6L531.7 274.4M537.4 268.6L531.7 262.9M537.4 268.6L531.7 274.4M537.4 268.6L543.2 262.9M537.4 268.6L543.2 274.4M514.4 280.1L508.6 274.4M514.4 280.1L508.6 285.8M514.4 280.1L520.1 274.4M514.4 280.1L520.1 285.8M525.9 280.1L520.1 274.4M525.9 280.1L520.1 285.8M525.9 280.1L531.7 274.4M525.9 280.1L531.7 285.8M537.4 280.1L531.7 274.4M537.4 280.1L531.7 285.8M537.4 280.1L543.2 274.4M537.4 280.1L543.2 285.8M514.4 291.6L508.6 285.8M514.4 291.6L508.6 297.3M514.4 291.6L520.1 285.8M514.4 291.6L520.1 297.3M525.9 291.6L520.1 285.8M525.9 291.6L520.1 297.3M525.9 291.6L531.7 285.8M525.9 291.6L531.7 297.3M537.4 291.6L531.7 285.8M537.4 291.6L531.7 297.3M537.4 291.6L543.2 285.8M537.4 291.6L543.2 297.3M616.8 269.6L611 263.9M616.8 269.6L611 275.2M616.8 269.6L622.6 263.9M616.8 269.6L622.6 275.2M628.4 269.6L622.6 263.9M628.4 269.6L622.6 275.2M628.4 269.6L634.1 263.9M628.4 269.6L634.1 275.2M639.9 269.6L634.1 263.9M639.9 269.6L634.1 275.2M639.9 269.6L645.7 263.9M639.9 269.6L645.7 275.2M616.8 280.9L611 275.2M616.8 280.9L611 286.6M616.8 280.9L622.6 275.2M616.8 280.9L622.6 286.6M628.4 280.9L622.6 275.2M628.4 280.9L622.6 286.6M628.4 280.9L634.1 275.2M628.4 280.9L634.1 286.6M639.9 280.9L634.1 275.2M639.9 280.9L634.1 286.6M639.9 280.9L645.7 275.2M639.9 280.9L645.7 286.6M616.8 292.2L611 286.6M616.8 292.2L611 297.9M616.8 292.2L622.6 286.6M616.8 292.2L622.6 297.9M628.4 292.2L622.6 286.6M628.4 292.2L622.6 297.9M628.4 292.2L634.1 286.6M628.4 292.2L634.1 297.9M639.9 292.2L634.1 286.6M639.9 292.2L634.1 297.9M639.9 292.2L645.7 286.6M639.9 292.2L645.7 297.9" stroke="#8886c0" stroke-width="0.8" fill="none"/>
<path d="M502.5 227.3h0M549.7 227.3h0M508.6 234.7h0M520.3 234.7h0M531.9 234.7h0M543.6 234.7h0M502.5 242h0M549.7 242h0M508.6 249.4h0M520.3 249.4h0M531.9 249.4h0M543.6 249.4h0M604.9 226.9h0M652.4 226.9h0M611 234.3h0M622.8 234.3h0M634.5 234.3h0M646.3 234.3h0M604.9 242h0M652.4 242h0M611 249.4h0M622.8 249.4h0M634.5 249.4h0M646.3 249.4h0" stroke="#e8231f" stroke-width="2.1" stroke-linecap="round" fill="none"/>
<path d="M508.6 219.6h0M520.3 219.6h0M531.9 219.6h0M543.6 219.6h0M508.6 234.7h0M520.3 234.7h0M531.9 234.7h0M543.6 234.7h0M502.3 262.9h0M549.5 262.9h0M502.3 274.4h0M549.5 274.4h0M502.3 285.8h0M549.5 285.8h0M502.3 297.3h0M549.5 297.3h0M508.6 256.6h0M508.6 303.6h0M520.1 256.6h0M520.1 303.6h0M531.7 256.6h0M531.7 303.6h0M543.2 256.6h0M543.2 303.6h0M611 218.4h0M622.8 218.4h0M634.5 218.4h0M646.3 218.4h0M611 233.7h0M622.8 233.7h0M634.5 233.7h0M646.3 233.7h0M604.6 263.9h0M652.1 263.9h0M604.6 275.2h0M652.1 275.2h0M604.6 286.6h0M652.1 286.6h0M604.6 297.9h0M652.1 297.9h0M611 257.7h0M611 304.1h0M622.6 257.7h0M622.6 304.1h0M634.1 257.7h0M634.1 304.1h0M645.7 257.7h0M645.7 304.1h0" stroke="#e8231f" stroke-width="2.0" stroke-linecap="round" fill="none"/>
<path d="M508.6 226.6h0M514.4 226.6h0M520.3 226.6h0M526.1 226.6h0M531.9 226.6h0M537.8 226.6h0M543.6 226.6h0M508.6 241.3h0M514.4 241.3h0M520.3 241.3h0M526.1 241.3h0M531.9 241.3h0M537.8 241.3h0M543.6 241.3h0M611 226.2h0M616.9 226.2h0M622.8 226.2h0M628.7 226.2h0M634.5 226.2h0M640.4 226.2h0M646.3 226.2h0M611 241.3h0M616.9 241.3h0M622.8 241.3h0M628.7 241.3h0M634.5 241.3h0M640.4 241.3h0M646.3 241.3h0" stroke="#e8231f" stroke-width="1.9" stroke-linecap="round" fill="none"/>
<path d="M514.4 262.9h0M525.9 262.9h0M537.4 262.9h0M514.4 274.4h0M525.9 274.4h0M537.4 274.4h0M514.4 285.8h0M525.9 285.8h0M537.4 285.8h0M514.4 297.3h0M525.9 297.3h0M537.4 297.3h0M508.6 268.6h0M520.1 268.6h0M531.7 268.6h0M543.2 268.6h0M508.6 280.1h0M520.1 280.1h0M531.7 280.1h0M543.2 280.1h0M508.6 291.6h0M520.1 291.6h0M531.7 291.6h0M543.2 291.6h0M616.8 263.9h0M628.4 263.9h0M639.9 263.9h0M616.8 275.2h0M628.4 275.2h0M639.9 275.2h0M616.8 286.6h0M628.4 286.6h0M639.9 286.6h0M616.8 297.9h0M628.4 297.9h0M639.9 297.9h0M611 269.6h0M622.6 269.6h0M634.1 269.6h0M645.7 269.6h0M611 280.9h0M622.6 280.9h0M634.1 280.9h0M645.7 280.9h0M611 292.2h0M622.6 292.2h0M634.1 292.2h0M645.7 292.2h0" stroke="#e8231f" stroke-width="1.7" stroke-linecap="round" fill="none"/>
<path d="M514.4 222.9h0M526.1 222.9h0M537.8 222.9h0M514.4 238h0M526.1 238h0M537.8 238h0M514.4 268.6h0M525.9 268.6h0M537.4 268.6h0M514.4 280.1h0M525.9 280.1h0M537.4 280.1h0M514.4 291.6h0M525.9 291.6h0M537.4 291.6h0M616.9 221.7h0M628.7 221.7h0M640.4 221.7h0M616.9 237h0M628.7 237h0M640.4 237h0M616.8 269.6h0M628.4 269.6h0M639.9 269.6h0M616.8 280.9h0M628.4 280.9h0M639.9 280.9h0M616.8 292.2h0M628.4 292.2h0M639.9 292.2h0" stroke="#5b5992" stroke-width="5.0" stroke-linecap="round" fill="none"/>
<path d="M508.6 229.3h0M520.3 229.3h0M531.9 229.3h0M543.6 229.3h0M508.6 244h0M520.3 244h0M531.9 244h0M543.6 244h0M508.6 262.9h0M520.1 262.9h0M531.7 262.9h0M543.2 262.9h0M508.6 274.4h0M520.1 274.4h0M531.7 274.4h0M543.2 274.4h0M508.6 285.8h0M520.1 285.8h0M531.7 285.8h0M543.2 285.8h0M508.6 297.3h0M520.1 297.3h0M531.7 297.3h0M543.2 297.3h0M611 228.9h0M622.8 228.9h0M634.5 228.9h0M646.3 228.9h0M611 244h0M622.8 244h0M634.5 244h0M646.3 244h0M611 263.9h0M622.6 263.9h0M634.1 263.9h0M645.7 263.9h0M611 275.2h0M622.6 275.2h0M634.1 275.2h0M645.7 275.2h0M611 286.6h0M622.6 286.6h0M634.1 286.6h0M645.7 286.6h0M611 297.9h0M622.6 297.9h0M634.1 297.9h0M645.7 297.9h0" stroke="#8a6a28" stroke-width="3.0" stroke-linecap="round" fill="none"/>
<path d="M514.4 222.9h0M526.1 222.9h0M537.8 222.9h0M514.4 238h0M526.1 238h0M537.8 238h0M514.4 268.6h0M525.9 268.6h0M537.4 268.6h0M514.4 280.1h0M525.9 280.1h0M537.4 280.1h0M514.4 291.6h0M525.9 291.6h0M537.4 291.6h0M616.9 221.7h0M628.7 221.7h0M640.4 221.7h0M616.9 237h0M628.7 237h0M640.4 237h0M616.8 269.6h0M628.4 269.6h0M639.9 269.6h0M616.8 280.9h0M628.4 280.9h0M639.9 280.9h0M616.8 292.2h0M628.4 292.2h0M639.9 292.2h0" stroke="#8c8ac0" stroke-width="3.8" stroke-linecap="round" fill="none"/>
<path d="M508.6 229.3h0M520.3 229.3h0M531.9 229.3h0M543.6 229.3h0M508.6 244h0M520.3 244h0M531.9 244h0M543.6 244h0M508.6 262.9h0M520.1 262.9h0M531.7 262.9h0M543.2 262.9h0M508.6 274.4h0M520.1 274.4h0M531.7 274.4h0M543.2 274.4h0M508.6 285.8h0M520.1 285.8h0M531.7 285.8h0M543.2 285.8h0M508.6 297.3h0M520.1 297.3h0M531.7 297.3h0M543.2 297.3h0M611 228.9h0M622.8 228.9h0M634.5 228.9h0M646.3 228.9h0M611 244h0M622.8 244h0M634.5 244h0M646.3 244h0M611 263.9h0M622.6 263.9h0M634.1 263.9h0M645.7 263.9h0M611 275.2h0M622.6 275.2h0M634.1 275.2h0M645.7 275.2h0M611 286.6h0M622.6 286.6h0M634.1 286.6h0M645.7 286.6h0M611 297.9h0M622.6 297.9h0M634.1 297.9h0M645.7 297.9h0" stroke="#b08a40" stroke-width="2.4" stroke-linecap="round" fill="none"/>
<path d="M514.4 222.9h0M526.1 222.9h0M537.8 222.9h0M514.4 238h0M526.1 238h0M537.8 238h0M514.4 268.6h0M525.9 268.6h0M537.4 268.6h0M514.4 280.1h0M525.9 280.1h0M537.4 280.1h0M514.4 291.6h0M525.9 291.6h0M537.4 291.6h0M616.9 221.7h0M628.7 221.7h0M640.4 221.7h0M616.9 237h0M628.7 237h0M640.4 237h0M616.8 269.6h0M628.4 269.6h0M639.9 269.6h0M616.8 280.9h0M628.4 280.9h0M639.9 280.9h0M616.8 292.2h0M628.4 292.2h0M639.9 292.2h0" stroke="#f0f0fa" stroke-width="1.6" stroke-linecap="round" fill="none"/>
<path d="M508.6 229.3h0M520.3 229.3h0M531.9 229.3h0M543.6 229.3h0M508.6 244h0M520.3 244h0M531.9 244h0M543.6 244h0M611 228.9h0M622.8 228.9h0M634.5 228.9h0M646.3 228.9h0M611 244h0M622.8 244h0M634.5 244h0M646.3 244h0" stroke="#d8b870" stroke-width="1.2" stroke-linecap="round" fill="none"/>
<path d="M508.6 262.9h0M520.1 262.9h0M531.7 262.9h0M543.2 262.9h0M508.6 274.4h0M520.1 274.4h0M531.7 274.4h0M543.2 274.4h0M508.6 285.8h0M520.1 285.8h0M531.7 285.8h0M543.2 285.8h0M508.6 297.3h0M520.1 297.3h0M531.7 297.3h0M543.2 297.3h0M611 263.9h0M622.6 263.9h0M634.1 263.9h0M645.7 263.9h0M611 275.2h0M622.6 275.2h0M634.1 275.2h0M645.7 275.2h0M611 286.6h0M622.6 286.6h0M634.1 286.6h0M645.7 286.6h0M611 297.9h0M622.6 297.9h0M634.1 297.9h0M645.7 297.9h0" stroke="#d0302a" stroke-width="1.6" stroke-linecap="round" fill="none"/>
<path d="M561.90,248.95 L584.20,248.95 L584.20,245.75 L591.10,252.40 L584.20,259.05 L584.20,255.85 L561.90,255.85 Z" fill="url(#ga)"/>
<polyline points="495.8,318.4 496.1,319.9 496.5,318.4 496.8,320.1 497.1,319.7 497.4,319 497.8,319.7 498.1,319.5 498.4,317.8 498.8,319.3 499.1,319.6 499.4,319.2 499.8,320.3 500.1,319.8 500.4,318.6 500.8,318.1 501.1,317.8 501.4,320 501.7,319.6 502.1,319.3 502.4,318.8 502.7,318.9 503.1,318 503.4,319 503.7,317.6 504.1,319.2 504.4,319.2 504.7,319.3 505,317.8 505.4,317.2 505.7,318 506,319.1 506.4,318.5 506.7,319.2 507,318 507.4,317.8 507.7,319.5 508,316.7 508.3,316.7 508.7,318 509,318 509.3,317.1 509.7,317.4 510,316.7 510.3,317.4 510.6,318.1 511,317.6 511.3,316.5 511.6,315.5 512,317.3 512.3,314.6 512.6,315 513,315.7 513.3,314.4 513.6,312.3 514,314.4 514.3,314.2 514.6,316.2 514.9,315.2 515.3,315.2 515.6,317.5 515.9,315.9 516.3,315.7 516.6,318.2 516.9,318.4 517.2,315.6 517.6,315.4 517.9,318.7 518.2,318.9 518.6,317.2 518.9,316.9 519.2,318.6 519.6,319.6 519.9,317.1 520.2,318.1 520.5,318.9 520.9,317.4 521.2,318 521.5,316.9 521.9,318 522.2,317 522.5,316.3 522.9,317.3 523.2,316.2 523.5,315.9 523.9,315.9 524.2,316.7 524.5,316.1 524.8,317.5 525.2,315.9 525.5,314.9 525.8,314.3 526.2,314.4 526.5,316 526.8,313.1 527.1,313.8 527.5,315 527.8,314.6 528.1,312.1 528.5,313.8 528.8,313.3 529.1,311.8 529.5,311.7 529.8,312.7 530.1,316 530.5,314.6 530.8,316.9 531.1,317.8 531.4,317.9 531.8,316.3 532.1,314.7 532.4,316 532.8,316 533.1,317.9 533.4,318.3 533.8,319.2 534.1,318.6 534.4,319.6 534.7,318.6 535.1,318.1 535.4,319.5 535.7,317.4 536.1,319.1 536.4,318.8 536.7,319.2 537,316.1 537.4,316.4 537.7,319.1 538,315.9 538.4,316.9 538.7,317.2 539,316.5 539.4,317.9 539.7,317.9 540,315 540.4,313.7 540.7,316.8 541,314.3 541.3,312.9 541.7,311.8 542,310.5 542.3,312.8 542.7,310.7 543,312.9 543.3,315.3 543.6,313.7 544,316.4 544.3,312.7 544.6,316.3 545,316.6 545.3,317.8 545.6,314.2 546,316.5 546.3,316.9 546.6,317.3 547,317 547.3,316.5 547.6,319 547.9,319.1 548.3,318.6 548.6,319.6 548.9,318.3 549.3,316.7 549.6,319 549.9,317 550.2,319.3 550.6,319.1 550.9,317.6 551.2,317.5 551.6,317.2 551.9,317.6 552.2,320.3 552.6,317.6 552.9,319.8 553.2,317.2 553.5,317.8 553.9,318.2 554.2,317.7 554.5,319.8 554.9,317.1 555.2,317.9 555.5,316.8 555.9,316.3 556.2,318.4 556.5,316.9 556.9,317.3 557.2,318 557.5,315.5 557.8,315.2 558.2,317.5 558.5,318.5 558.8,314.3 559.2,315.9 559.5,318 559.8,317 560.1,317.5 560.5,315.1 560.8,316.9 561.1,312.2 561.5,313.8 561.8,315.3 562.1,312.5 562.5,312.8 562.8,313.3 563.1,313.3 563.5,315.8 563.8,316.9 564.1,313.8 564.4,314.5 564.8,316.9 565.1,316.9 565.4,317.4 565.8,317.1 566.1,318.2 566.4,318.1 566.8,317.5 567.1,316.3 567.4,315.7 567.7,318.8 568.1,318.9 568.4,319.1 568.7,316.9 569.1,318.7 569.4,319.3 569.7,316.4 570,315.5 570.4,315.8 570.7,315.8 571,317.4 571.4,317.7 571.7,317.4 572,316.6 572.4,317.5 572.7,317.1 573,314.3 573.4,316.1 573.7,315.2 574,313.4 574.3,315.4 574.7,314 575,315.4 575.3,317.4 575.7,314.4 576,316.8 576.3,316.7 576.6,316.3 577,315.7 577.3,317.6 577.6,317.1 578,316.4 578.3,317.6 578.6,318.8 579,316.7 579.3,319.3 579.6,317 580,318.4 580.3,318.1 580.6,319.9 580.9,320.1 581.3,319.6 581.6,318 581.9,318.1 582.3,319.7 582.6,318.5 582.9,318.8 583.2,319 583.6,317 583.9,317.6 584.2,319.5 584.6,317 584.9,318.7 585.2,315.9 585.6,315 585.9,316.7 586.2,315.4 586.5,316.4 586.9,316.8 587.2,313.1 587.5,314.6 587.9,313.5 588.2,315.5 588.5,314.6 588.9,314.8 589.2,314.7 589.5,313.3 589.9,315.2 590.2,315.3 590.5,315 590.8,315.1 591.2,317 591.5,318.3 591.8,315.9 592.2,316.6 592.5,316.1 592.8,317.1 593.1,317.4 593.5,316.5 593.8,318.7 594.1,317.7 594.5,319.5 594.8,317.6 595.1,319.4 595.5,320.3 595.8,317.6 596.1,318.2 596.5,320.2 596.8,318.1 597.1,317.7 597.4,316.9 597.8,319.1 598.1,317.1 598.4,318.9 598.8,317.4 599.1,315.6 599.4,318.5 599.8,317.8 600.1,316.8 600.4,315.6 600.7,315.7 601.1,316 601.4,311.5 601.7,310.8 602.1,312.6 602.4,309.5 602.7,313.8 603,313.9 603.4,313.1 603.7,312.2 604,315 604.4,315.6 604.7,316 605,317.3 605.4,316.4 605.7,318.4 606,317.6 606.4,316.2 606.7,318.9 607,316.7 607.3,319.6 607.7,319.8 608,317.4 608.3,317.5 608.7,319.4 609,318.6 609.3,318.2 609.6,319.5 610,317.9 610.3,317.1 610.6,318.5 611,319.5 611.3,319.7 611.6,316.5 612,318.7 612.3,317 612.6,319.2 613,316.8 613.3,315.5 613.6,316.1 613.9,316.6 614.3,314.9 614.6,317 614.9,314.8 615.3,316.2 615.6,313.5 615.9,314.2 616.2,314.5 616.6,311.7 616.9,311.5 617.2,313.9 617.6,312.2 617.9,312.6 618.2,314.5 618.6,315.3 618.9,316.5 619.2,315.6 619.5,317.2 619.9,317.6 620.2,318.1 620.5,318.3 620.9,317.6 621.2,317.9 621.5,316.9 621.9,316 622.2,319.3 622.5,317.5 622.9,317.4 623.2,318.3 623.5,319.2 623.8,319.5 624.2,317.1 624.5,319.5 624.8,320.2 625.2,320.3 625.5,320.3 625.8,319 626.1,320 626.5,318.9 626.8,319.7 627.1,320.1 627.5,317.8 627.8,316.8 628.1,318.9 628.5,319.5 628.8,319.2 629.1,317.4 629.5,317.2 629.8,315.7 630.1,318.3 630.4,315.7 630.8,314.8 631.1,314.4 631.4,317.6 631.8,315 632.1,316.3 632.4,312.5 632.8,314.9 633.1,316.5 633.4,316.9 633.7,314.8 634.1,316.3 634.4,317.9 634.7,318.6 635.1,315.6 635.4,317.7 635.7,319 636,318.2 636.4,319 636.7,317.3 637,318.2 637.4,316.6 637.7,319.5 638,318.7 638.4,317.5 638.7,320.2 639,317.8 639.4,317.3 639.7,319.6 640,317.4 640.3,319.3 640.7,317.4 641,317 641.3,319.3 641.7,318.8 642,318.9 642.3,318.9 642.6,318.8 643,316.7 643.3,317.4 643.6,317.9 644,318.8 644.3,317.7 644.6,316.9 645,317.9 645.3,317.8 645.6,315 646,314.3 646.3,313.1 646.6,316.6 646.9,313.1 647.3,314.3 647.6,313.5 647.9,314.1 648.3,316 648.6,315.1 648.9,313.3 649.2,314.9 649.6,314.3 649.9,315.5 650.2,317.3 650.6,317.2 650.9,317.4 651.2,318.5 651.6,319.2 651.9,316.6 652.2,318.5 652.5,318.4 652.9,316.3 653.2,319.9 653.5,317.9 653.9,319 654.2,317.6 654.5,318.3 654.9,317.3 655.2,320.2 655.5,316.8 655.9,316.8 656.2,319 656.5,318.3 656.8,317.3 657.2,319.4 657.5,318.3 657.8,317.2 658.2,318 658.5,318.7 658.8,318.2 659.1,315.8 659.5,317.2 659.8,314.5 660.1,314.9 660.5,317.2 660.8,315.6 661.1,313.5 661.5,313.7 661.8,312.5 662.1,313.3 662.5,311.6 662.8,311.2 663.1,311.8 663.4,314.8 663.8,315 664.1,312.8 664.4,314.1 664.8,316.8 665.1,316.4 665.4,316.2 665.8,316.7 666.1,315.2 666.4,317 666.7,317.9 667.1,317 667.4,317.1 667.7,317.4 668.1,318.2 668.4,316.9 668.7,319.3 669,316.7 669.4,319.3 669.7,318.6 670,317.7 670.4,317.8 670.7,318 671,317.7 671.4,320.6 671.7,318.2" fill="none" stroke="#ff1a1a" stroke-width="1.2" stroke-linejoin="round"/>
<rect x="495.30" y="199.30" width="177.20" height="143.00" fill="none" stroke="#000" stroke-width="1.15"/>
<line x1="492.70" y1="342.30" x2="495.30" y2="342.30" stroke="#000" stroke-width="1.1"/>
<text transform="translate(490.70,345.30) scale(1.0,1)" font-size="8.8" text-anchor="end" font-weight="bold" fill="#000">-640</text>
<line x1="493.80" y1="328.00" x2="495.30" y2="328.00" stroke="#000" stroke-width="1.1"/>
<line x1="492.70" y1="313.70" x2="495.30" y2="313.70" stroke="#000" stroke-width="1.1"/>
<text transform="translate(490.70,316.70) scale(1.0,1)" font-size="8.8" text-anchor="end" font-weight="bold" fill="#000">-600</text>
<line x1="493.80" y1="299.40" x2="495.30" y2="299.40" stroke="#000" stroke-width="1.1"/>
<line x1="492.70" y1="285.10" x2="495.30" y2="285.10" stroke="#000" stroke-width="1.1"/>
<text transform="translate(490.70,288.10) scale(1.0,1)" font-size="8.8" text-anchor="end" font-weight="bold" fill="#000">-560</text>
<line x1="493.80" y1="270.80" x2="495.30" y2="270.80" stroke="#000" stroke-width="1.1"/>
<line x1="492.70" y1="256.50" x2="495.30" y2="256.50" stroke="#000" stroke-width="1.1"/>
<text transform="translate(490.70,259.50) scale(1.0,1)" font-size="8.8" text-anchor="end" font-weight="bold" fill="#000">-520</text>
<line x1="493.80" y1="242.20" x2="495.30" y2="242.20" stroke="#000" stroke-width="1.1"/>
<line x1="492.70" y1="227.90" x2="495.30" y2="227.90" stroke="#000" stroke-width="1.1"/>
<text transform="translate(490.70,230.90) scale(1.0,1)" font-size="8.8" text-anchor="end" font-weight="bold" fill="#000">-480</text>
<line x1="493.80" y1="213.60" x2="495.30" y2="213.60" stroke="#000" stroke-width="1.1"/>
<line x1="492.70" y1="199.30" x2="495.30" y2="199.30" stroke="#000" stroke-width="1.1"/>
<text transform="translate(490.70,202.30) scale(1.0,1)" font-size="8.8" text-anchor="end" font-weight="bold" fill="#000">-440</text>
<line x1="495.30" y1="342.30" x2="495.30" y2="344.90" stroke="#000" stroke-width="1.1"/>
<text transform="translate(495.30,353.80) scale(1.0,1)" font-size="8.8" text-anchor="middle" font-weight="bold" fill="#000">0</text>
<line x1="513.02" y1="342.30" x2="513.02" y2="343.80" stroke="#000" stroke-width="1.1"/>
<line x1="530.74" y1="342.30" x2="530.74" y2="344.90" stroke="#000" stroke-width="1.1"/>
<text transform="translate(530.74,353.80) scale(1.0,1)" font-size="8.8" text-anchor="middle" font-weight="bold" fill="#000">1000</text>
<line x1="548.46" y1="342.30" x2="548.46" y2="343.80" stroke="#000" stroke-width="1.1"/>
<line x1="566.18" y1="342.30" x2="566.18" y2="344.90" stroke="#000" stroke-width="1.1"/>
<text transform="translate(566.18,353.80) scale(1.0,1)" font-size="8.8" text-anchor="middle" font-weight="bold" fill="#000">2000</text>
<line x1="583.90" y1="342.30" x2="583.90" y2="343.80" stroke="#000" stroke-width="1.1"/>
<line x1="601.62" y1="342.30" x2="601.62" y2="344.90" stroke="#000" stroke-width="1.1"/>
<text transform="translate(601.62,353.80) scale(1.0,1)" font-size="8.8" text-anchor="middle" font-weight="bold" fill="#000">3000</text>
<line x1="619.34" y1="342.30" x2="619.34" y2="343.80" stroke="#000" stroke-width="1.1"/>
<line x1="637.06" y1="342.30" x2="637.06" y2="344.90" stroke="#000" stroke-width="1.1"/>
<text transform="translate(637.06,353.80) scale(1.0,1)" font-size="8.8" text-anchor="middle" font-weight="bold" fill="#000">4000</text>
<line x1="654.78" y1="342.30" x2="654.78" y2="343.80" stroke="#000" stroke-width="1.1"/>
<line x1="672.50" y1="342.30" x2="672.50" y2="344.90" stroke="#000" stroke-width="1.1"/>
<text transform="translate(672.50,353.80) scale(1.0,1)" font-size="8.8" text-anchor="middle" font-weight="bold" fill="#000">5000</text>
<text transform="translate(583.90,367.50) scale(0.92,1)" font-size="10.3" text-anchor="middle" font-weight="bold" fill="#000">Time (fs)</text>
<text transform="translate(466.30,267.00) rotate(-90) scale(1,0.96)" font-size="9.7" text-anchor="middle" font-weight="bold">Total energy (eV)</text>
<text transform="translate(455.50,197.50) scale(0.97,1)" font-size="15.2" text-anchor="start" font-weight="bold" fill="#000">(f)</text>
<text transform="translate(609.30,209.30) scale(0.99,1)" font-size="8.8" font-weight="bold">SnFeO<tspan font-size="6" dy="2.3">3</tspan><tspan dy="-2.3" dx="5.4" font-size="8.8">@300K</tspan></text>
<text transform="translate(566.60,303.60) scale(0.95,1)" font-size="10.5" text-anchor="start" font-weight="bold" fill="#000">max</text>
<line x1="585.00" y1="303.80" x2="599.13" y2="307.49" stroke="#4a72c8" stroke-width="0.9"/>
<path d="M603.00,308.50 L598.73,309.04 L599.53,305.94 Z" fill="#3f68c8"/>
<text transform="translate(510.00,335.20) scale(0.93,1)" font-size="10.5" text-anchor="start" font-weight="bold" fill="#000">min</text>
<line x1="509.50" y1="330.00" x2="499.08" y2="324.08" stroke="#4a72c8" stroke-width="0.9"/>
<path d="M495.60,322.10 L499.87,322.69 L498.29,325.47 Z" fill="#3f68c8"/>
<rect x="57.9" y="406" width="38.1" height="34.9" fill="none" stroke="#c9c9c9" stroke-width="0.7"/>
<rect x="166.4" y="404.5" width="38.4" height="35.9" fill="none" stroke="#c9c9c9" stroke-width="0.7"/>
<path d="M64.2 407.9L57.9 404.6M64.2 407.9L57.9 412.7M64.2 407.9L70.6 404.6M64.2 407.9L70.6 412.7M76.9 407.9L70.6 404.6M76.9 407.9L70.6 412.7M76.9 407.9L83.3 404.6M76.9 407.9L83.3 412.7M89.7 407.9L83.3 404.6M89.7 407.9L83.3 412.7M89.7 407.9L96 404.6M89.7 407.9L96 412.7M57.9 415.4L57.9 412.7M57.9 415.4L51.5 412.7M57.9 415.4L64.2 412.7M70.6 415.4L70.6 412.7M70.6 415.4L64.2 412.7M70.6 415.4L76.9 412.7M83.3 415.4L83.3 412.7M83.3 415.4L77 412.7M83.3 415.4L89.6 412.7M96 415.4L96 412.7M96 415.4L89.7 412.7M64.2 424.9L57.9 421.6M64.2 424.9L57.9 430.1M64.2 424.9L70.6 421.6M64.2 424.9L70.6 430.1M76.9 424.9L70.6 421.6M76.9 424.9L70.6 430.1M76.9 424.9L83.3 421.6M76.9 424.9L83.3 430.1M89.7 424.9L83.3 421.6M89.7 424.9L83.3 430.1M89.7 424.9L96 421.6M89.7 424.9L96 430.1M57.9 432.8L57.9 430.1M57.9 432.8L51.5 430.1M57.9 432.8L64.2 430.1M70.6 432.8L70.6 430.1M70.6 432.8L64.2 430.1M70.6 432.8L76.9 430.1M83.3 432.8L83.3 430.1M83.3 432.8L77 430.1M83.3 432.8L89.6 430.1M96 432.8L96 430.1M96 432.8L89.7 430.1M50.9 451.3L103 451.3M50.9 463.9L103 463.9M50.9 476.5L103 476.5M50.9 489.1L103 489.1M57.9 444.4L57.9 496M70.6 444.4L70.6 496M83.3 444.4L83.3 496M96 444.4L96 496M172.8 406.3L166.4 403M172.8 406.3L166.4 411.2M172.8 406.3L179.2 403M172.8 406.3L179.2 411.2M185.6 406.3L179.2 403M185.6 406.3L179.2 411.2M185.6 406.3L192 403M185.6 406.3L192 411.2M198.4 406.3L192 403M198.4 406.3L192 411.2M198.4 406.3L204.8 403M198.4 406.3L204.8 411.2M166.4 413.9L166.4 411.2M166.4 413.9L160 411.2M166.4 413.9L172.8 411.2M179.2 413.9L179.2 411.2M179.2 413.9L172.8 411.2M179.2 413.9L185.6 411.2M192 413.9L192 411.2M192 413.9L185.6 411.2M192 413.9L198.4 411.2M204.8 413.9L204.8 411.2M204.8 413.9L198.4 411.2M172.8 423.4L166.4 420.1M172.8 423.4L166.4 428.2M172.8 423.4L179.2 420.1M172.8 423.4L179.2 428.2M185.6 423.4L179.2 420.1M185.6 423.4L179.2 428.2M185.6 423.4L192 420.1M185.6 423.4L192 428.2M198.4 423.4L192 420.1M198.4 423.4L192 428.2M198.4 423.4L204.8 420.1M198.4 423.4L204.8 428.2M166.4 430.9L166.4 428.2M166.4 430.9L160 428.2M166.4 430.9L172.8 428.2M179.2 430.9L179.2 428.2M179.2 430.9L172.8 428.2M179.2 430.9L185.6 428.2M192 430.9L192 428.2M192 430.9L185.6 428.2M192 430.9L198.4 428.2M204.8 430.9L204.8 428.2M204.8 430.9L198.4 428.2M159.4 449.8L211.8 449.8M159.4 462.4L211.8 462.4M159.4 475L211.8 475M159.4 487.6L211.8 487.6M166.4 442.9L166.4 494.5M179.2 442.9L179.2 494.5M192 442.9L192 494.5M204.8 442.9L204.8 494.5" stroke="#e3322b" stroke-width="0.7" fill="none"/>
<path d="M64.2 407.9L61.1 406.2M64.2 407.9L61.1 410.3M64.2 407.9L67.4 406.2M64.2 407.9L67.4 410.3M76.9 407.9L73.8 406.2M76.9 407.9L73.8 410.3M76.9 407.9L80.1 406.2M76.9 407.9L80.1 410.3M89.7 407.9L86.5 406.2M89.7 407.9L86.5 410.3M89.7 407.9L92.8 406.2M89.7 407.9L92.8 410.3M64.2 424.9L61.1 423.2M64.2 424.9L61.1 427.5M64.2 424.9L67.4 423.2M64.2 424.9L67.4 427.5M76.9 424.9L73.8 423.2M76.9 424.9L73.8 427.5M76.9 424.9L80.1 423.2M76.9 424.9L80.1 427.5M89.7 424.9L86.5 423.2M89.7 424.9L86.5 427.5M89.7 424.9L92.8 423.2M89.7 424.9L92.8 427.5M172.8 406.3L169.6 404.6M172.8 406.3L169.6 408.8M172.8 406.3L176 404.6M172.8 406.3L176 408.8M185.6 406.3L182.4 404.6M185.6 406.3L182.4 408.8M185.6 406.3L188.8 404.6M185.6 406.3L188.8 408.8M198.4 406.3L195.2 404.6M198.4 406.3L195.2 408.8M198.4 406.3L201.6 404.6M198.4 406.3L201.6 408.8M172.8 423.4L169.6 421.8M172.8 423.4L169.6 425.8M172.8 423.4L176 421.8M172.8 423.4L176 425.8M185.6 423.4L182.4 421.8M185.6 423.4L182.4 425.8M185.6 423.4L188.8 421.8M185.6 423.4L188.8 425.8M198.4 423.4L195.2 421.8M198.4 423.4L195.2 425.8M198.4 423.4L201.6 421.8M198.4 423.4L201.6 425.8" stroke="#4a88b8" stroke-width="0.7" fill="none"/>
<path d="M64.2 407.9L64.2 412.7M76.9 407.9L76.9 412.7M89.7 407.9L89.7 412.7M64.2 424.9L64.2 430.1M76.9 424.9L76.9 430.1M89.7 424.9L89.7 430.1M172.8 406.3L172.8 411.2M185.6 406.3L185.6 411.2M198.4 406.3L198.4 411.2M172.8 423.4L172.8 428.2M185.6 423.4L185.6 428.2M198.4 423.4L198.4 428.2" stroke="#e3322b" stroke-width="0.6" fill="none"/>
<path d="M57.9 415.4L57.9 420.8M70.6 415.4L70.6 420.8M83.3 415.4L83.3 420.8M96 415.4L96 420.8M51.3 413.4L57.9 415.4M102.6 413.4L96 415.4M57.9 432.8L57.9 438.2M70.6 432.8L70.6 438.2M83.3 432.8L83.3 438.2M96 432.8L96 438.2M51.3 430.8L57.9 432.8M102.6 430.8L96 432.8M166.4 413.9L166.4 419.3M179.2 413.9L179.2 419.3M192 413.9L192 419.3M204.8 413.9L204.8 419.3M159.7 411.9L166.4 413.9M211.5 411.9L204.8 413.9M166.4 430.9L166.4 436.3M179.2 430.9L179.2 436.3M192 430.9L192 436.3M204.8 430.9L204.8 436.3M159.7 428.9L166.4 430.9M211.5 428.9L204.8 430.9" stroke="#e3322b" stroke-width="0.8" fill="none"/>
<path d="M55 457.6L60.8 457.6M67.7 457.6L73.5 457.6M80.4 457.6L86.2 457.6M93.1 457.6L98.9 457.6M55 470.2L60.8 470.2M67.7 470.2L73.5 470.2M80.4 470.2L86.2 470.2M93.1 470.2L98.9 470.2M55 482.8L60.8 482.8M67.7 482.8L73.5 482.8M80.4 482.8L86.2 482.8M93.1 482.8L98.9 482.8M64.2 448.4L64.2 454.2M64.2 461L64.2 466.8M64.2 473.6L64.2 479.4M64.2 486.2L64.2 492M76.9 448.4L76.9 454.2M76.9 461L76.9 466.8M76.9 473.6L76.9 479.4M76.9 486.2L76.9 492M89.7 448.4L89.7 454.2M89.7 461L89.7 466.8M89.7 473.6L89.7 479.4M89.7 486.2L89.7 492M163.5 456.1L169.3 456.1M176.3 456.1L182.1 456.1M189.1 456.1L194.9 456.1M201.9 456.1L207.7 456.1M163.5 468.7L169.3 468.7M176.3 468.7L182.1 468.7M189.1 468.7L194.9 468.7M201.9 468.7L207.7 468.7M163.5 481.3L169.3 481.3M176.3 481.3L182.1 481.3M189.1 481.3L194.9 481.3M201.9 481.3L207.7 481.3M172.8 446.9L172.8 452.7M172.8 459.5L172.8 465.3M172.8 472.1L172.8 477.9M172.8 484.7L172.8 490.5M185.6 446.9L185.6 452.7M185.6 459.5L185.6 465.3M185.6 472.1L185.6 477.9M185.6 484.7L185.6 490.5M198.4 446.9L198.4 452.7M198.4 459.5L198.4 465.3M198.4 472.1L198.4 477.9M198.4 484.7L198.4 490.5" stroke="#e3322b" stroke-width="0.6" opacity="0.85" fill="none"/>
<path d="M64.2 457.6L57.9 451.3M64.2 457.6L57.9 463.9M64.2 457.6L70.6 451.3M64.2 457.6L70.6 463.9M76.9 457.6L70.6 451.3M76.9 457.6L70.6 463.9M76.9 457.6L83.3 451.3M76.9 457.6L83.3 463.9M89.7 457.6L83.3 451.3M89.7 457.6L83.3 463.9M89.7 457.6L96 451.3M89.7 457.6L96 463.9M64.2 470.2L57.9 463.9M64.2 470.2L57.9 476.5M64.2 470.2L70.6 463.9M64.2 470.2L70.6 476.5M76.9 470.2L70.6 463.9M76.9 470.2L70.6 476.5M76.9 470.2L83.3 463.9M76.9 470.2L83.3 476.5M89.7 470.2L83.3 463.9M89.7 470.2L83.3 476.5M89.7 470.2L96 463.9M89.7 470.2L96 476.5M64.2 482.8L57.9 476.5M64.2 482.8L57.9 489.1M64.2 482.8L70.6 476.5M64.2 482.8L70.6 489.1M76.9 482.8L70.6 476.5M76.9 482.8L70.6 489.1M76.9 482.8L83.3 476.5M76.9 482.8L83.3 489.1M89.7 482.8L83.3 476.5M89.7 482.8L83.3 489.1M89.7 482.8L96 476.5M89.7 482.8L96 489.1M172.8 456.1L166.4 449.8M172.8 456.1L166.4 462.4M172.8 456.1L179.2 449.8M172.8 456.1L179.2 462.4M185.6 456.1L179.2 449.8M185.6 456.1L179.2 462.4M185.6 456.1L192 449.8M185.6 456.1L192 462.4M198.4 456.1L192 449.8M198.4 456.1L192 462.4M198.4 456.1L204.8 449.8M198.4 456.1L204.8 462.4M172.8 468.7L166.4 462.4M172.8 468.7L166.4 475M172.8 468.7L179.2 462.4M172.8 468.7L179.2 475M185.6 468.7L179.2 462.4M185.6 468.7L179.2 475M185.6 468.7L192 462.4M185.6 468.7L192 475M198.4 468.7L192 462.4M198.4 468.7L192 475M198.4 468.7L204.8 462.4M198.4 468.7L204.8 475M172.8 481.3L166.4 475M172.8 481.3L166.4 487.6M172.8 481.3L179.2 475M172.8 481.3L179.2 487.6M185.6 481.3L179.2 475M185.6 481.3L179.2 487.6M185.6 481.3L192 475M185.6 481.3L192 487.6M198.4 481.3L192 475M198.4 481.3L192 487.6M198.4 481.3L204.8 475M198.4 481.3L204.8 487.6" stroke="#4a88b8" stroke-width="0.8" fill="none"/>
<path d="M51.3 413.4h0M102.6 413.4h0M57.9 420.8h0M70.6 420.8h0M83.3 420.8h0M96 420.8h0M51.3 430.8h0M102.6 430.8h0M57.9 438.2h0M70.6 438.2h0M83.3 438.2h0M96 438.2h0M159.7 411.9h0M211.5 411.9h0M166.4 419.3h0M179.2 419.3h0M192 419.3h0M204.8 419.3h0M159.7 428.9h0M211.5 428.9h0M166.4 436.3h0M179.2 436.3h0M192 436.3h0M204.8 436.3h0" stroke="#e8231f" stroke-width="2.1" stroke-linecap="round" fill="none"/>
<path d="M57.9 404.6h0M70.6 404.6h0M83.3 404.6h0M96 404.6h0M57.9 421.6h0M70.6 421.6h0M83.3 421.6h0M96 421.6h0M50.9 451.3h0M103 451.3h0M50.9 463.9h0M103 463.9h0M50.9 476.5h0M103 476.5h0M50.9 489.1h0M103 489.1h0M57.9 444.4h0M57.9 496h0M70.6 444.4h0M70.6 496h0M83.3 444.4h0M83.3 496h0M96 444.4h0M96 496h0M166.4 403h0M179.2 403h0M192 403h0M204.8 403h0M166.4 420.1h0M179.2 420.1h0M192 420.1h0M204.8 420.1h0M159.4 449.8h0M211.8 449.8h0M159.4 462.4h0M211.8 462.4h0M159.4 475h0M211.8 475h0M159.4 487.6h0M211.8 487.6h0M166.4 442.9h0M166.4 494.5h0M179.2 442.9h0M179.2 494.5h0M192 442.9h0M192 494.5h0M204.8 442.9h0M204.8 494.5h0" stroke="#e8231f" stroke-width="2.0" stroke-linecap="round" fill="none"/>
<path d="M57.9 412.7h0M64.2 412.7h0M70.6 412.7h0M76.9 412.7h0M83.3 412.7h0M89.7 412.7h0M96 412.7h0M57.9 430.1h0M64.2 430.1h0M70.6 430.1h0M76.9 430.1h0M83.3 430.1h0M89.7 430.1h0M96 430.1h0M166.4 411.2h0M172.8 411.2h0M179.2 411.2h0M185.6 411.2h0M192 411.2h0M198.4 411.2h0M204.8 411.2h0M166.4 428.2h0M172.8 428.2h0M179.2 428.2h0M185.6 428.2h0M192 428.2h0M198.4 428.2h0M204.8 428.2h0" stroke="#e8231f" stroke-width="1.9" stroke-linecap="round" fill="none"/>
<path d="M64.2 451.3h0M76.9 451.3h0M89.7 451.3h0M64.2 463.9h0M76.9 463.9h0M89.7 463.9h0M64.2 476.5h0M76.9 476.5h0M89.7 476.5h0M64.2 489.1h0M76.9 489.1h0M89.7 489.1h0M57.9 457.6h0M70.6 457.6h0M83.3 457.6h0M96 457.6h0M57.9 470.2h0M70.6 470.2h0M83.3 470.2h0M96 470.2h0M57.9 482.8h0M70.6 482.8h0M83.3 482.8h0M96 482.8h0M172.8 449.8h0M185.6 449.8h0M198.4 449.8h0M172.8 462.4h0M185.6 462.4h0M198.4 462.4h0M172.8 475h0M185.6 475h0M198.4 475h0M172.8 487.6h0M185.6 487.6h0M198.4 487.6h0M166.4 456.1h0M179.2 456.1h0M192 456.1h0M204.8 456.1h0M166.4 468.7h0M179.2 468.7h0M192 468.7h0M204.8 468.7h0M166.4 481.3h0M179.2 481.3h0M192 481.3h0M204.8 481.3h0" stroke="#e8231f" stroke-width="1.7" stroke-linecap="round" fill="none"/>
<path d="M64.2 407.9h0M76.9 407.9h0M89.7 407.9h0M64.2 424.9h0M76.9 424.9h0M89.7 424.9h0M64.2 457.6h0M76.9 457.6h0M89.7 457.6h0M64.2 470.2h0M76.9 470.2h0M89.7 470.2h0M64.2 482.8h0M76.9 482.8h0M89.7 482.8h0M172.8 406.3h0M185.6 406.3h0M198.4 406.3h0M172.8 423.4h0M185.6 423.4h0M198.4 423.4h0M172.8 456.1h0M185.6 456.1h0M198.4 456.1h0M172.8 468.7h0M185.6 468.7h0M198.4 468.7h0M172.8 481.3h0M185.6 481.3h0M198.4 481.3h0" stroke="#2f6e98" stroke-width="5.7" stroke-linecap="round" fill="none"/>
<path d="M57.9 415.4h0M70.6 415.4h0M83.3 415.4h0M96 415.4h0M57.9 432.8h0M70.6 432.8h0M83.3 432.8h0M96 432.8h0M166.4 413.9h0M179.2 413.9h0M192 413.9h0M204.8 413.9h0M166.4 430.9h0M179.2 430.9h0M192 430.9h0M204.8 430.9h0" stroke="#6f633a" stroke-width="4.3" stroke-linecap="round" fill="none"/>
<path d="M57.9 451.3h0M70.6 451.3h0M83.3 451.3h0M96 451.3h0M57.9 463.9h0M70.6 463.9h0M83.3 463.9h0M96 463.9h0M57.9 476.5h0M70.6 476.5h0M83.3 476.5h0M96 476.5h0M57.9 489.1h0M70.6 489.1h0M83.3 489.1h0M96 489.1h0M166.4 449.8h0M179.2 449.8h0M192 449.8h0M204.8 449.8h0M166.4 462.4h0M179.2 462.4h0M192 462.4h0M204.8 462.4h0M166.4 475h0M179.2 475h0M192 475h0M204.8 475h0M166.4 487.6h0M179.2 487.6h0M192 487.6h0M204.8 487.6h0" stroke="#6f633a" stroke-width="3.7" stroke-linecap="round" fill="none"/>
<path d="M64.2 407.9h0M76.9 407.9h0M89.7 407.9h0M64.2 424.9h0M76.9 424.9h0M89.7 424.9h0M64.2 457.6h0M76.9 457.6h0M89.7 457.6h0M64.2 470.2h0M76.9 470.2h0M89.7 470.2h0M64.2 482.8h0M76.9 482.8h0M89.7 482.8h0M172.8 406.3h0M185.6 406.3h0M198.4 406.3h0M172.8 423.4h0M185.6 423.4h0M198.4 423.4h0M172.8 456.1h0M185.6 456.1h0M198.4 456.1h0M172.8 468.7h0M185.6 468.7h0M198.4 468.7h0M172.8 481.3h0M185.6 481.3h0M198.4 481.3h0" stroke="#5ea6d4" stroke-width="4.3" stroke-linecap="round" fill="none"/>
<path d="M57.9 415.4h0M70.6 415.4h0M83.3 415.4h0M96 415.4h0M57.9 432.8h0M70.6 432.8h0M83.3 432.8h0M96 432.8h0M166.4 413.9h0M179.2 413.9h0M192 413.9h0M204.8 413.9h0M166.4 430.9h0M179.2 430.9h0M192 430.9h0M204.8 430.9h0" stroke="#9e8e5a" stroke-width="3.7" stroke-linecap="round" fill="none"/>
<path d="M57.9 451.3h0M70.6 451.3h0M83.3 451.3h0M96 451.3h0M57.9 463.9h0M70.6 463.9h0M83.3 463.9h0M96 463.9h0M57.9 476.5h0M70.6 476.5h0M83.3 476.5h0M96 476.5h0M57.9 489.1h0M70.6 489.1h0M83.3 489.1h0M96 489.1h0M166.4 449.8h0M179.2 449.8h0M192 449.8h0M204.8 449.8h0M166.4 462.4h0M179.2 462.4h0M192 462.4h0M204.8 462.4h0M166.4 475h0M179.2 475h0M192 475h0M204.8 475h0M166.4 487.6h0M179.2 487.6h0M192 487.6h0M204.8 487.6h0" stroke="#9e8e5a" stroke-width="3.1" stroke-linecap="round" fill="none"/>
<path d="M64.2 407.9h0M76.9 407.9h0M89.7 407.9h0M64.2 424.9h0M76.9 424.9h0M89.7 424.9h0M64.2 457.6h0M76.9 457.6h0M89.7 457.6h0M64.2 470.2h0M76.9 470.2h0M89.7 470.2h0M64.2 482.8h0M76.9 482.8h0M89.7 482.8h0M172.8 406.3h0M185.6 406.3h0M198.4 406.3h0M172.8 423.4h0M185.6 423.4h0M198.4 423.4h0M172.8 456.1h0M185.6 456.1h0M198.4 456.1h0M172.8 468.7h0M185.6 468.7h0M198.4 468.7h0M172.8 481.3h0M185.6 481.3h0M198.4 481.3h0" stroke="#f0f8ff" stroke-width="2.0" stroke-linecap="round" fill="none"/>
<path d="M57.9 415.4h0M70.6 415.4h0M83.3 415.4h0M96 415.4h0M57.9 432.8h0M70.6 432.8h0M83.3 432.8h0M96 432.8h0M166.4 413.9h0M179.2 413.9h0M192 413.9h0M204.8 413.9h0M166.4 430.9h0M179.2 430.9h0M192 430.9h0M204.8 430.9h0" stroke="#d6caa0" stroke-width="1.4" stroke-linecap="round" fill="none"/>
<path d="M57.9 451.3h0M70.6 451.3h0M83.3 451.3h0M96 451.3h0M57.9 463.9h0M70.6 463.9h0M83.3 463.9h0M96 463.9h0M57.9 476.5h0M70.6 476.5h0M83.3 476.5h0M96 476.5h0M57.9 489.1h0M70.6 489.1h0M83.3 489.1h0M96 489.1h0M166.4 449.8h0M179.2 449.8h0M192 449.8h0M204.8 449.8h0M166.4 462.4h0M179.2 462.4h0M192 462.4h0M204.8 462.4h0M166.4 475h0M179.2 475h0M192 475h0M204.8 475h0M166.4 487.6h0M179.2 487.6h0M192 487.6h0M204.8 487.6h0" stroke="#d0302a" stroke-width="1.6" stroke-linecap="round" fill="none"/>
<path d="M116.60,440.05 L139.20,440.05 L139.20,436.70 L146.30,443.70 L139.20,450.70 L139.20,447.35 L116.60,447.35 Z" fill="url(#ga)"/>
<polyline points="45,513.6 45.3,511.1 45.7,512.3 46,512.4 46.3,509.9 46.6,509.3 47,511.8 47.3,509.5 47.6,510.7 48,513.2 48.3,513.1 48.6,509.5 49,509.3 49.3,510 49.6,512.9 50,509.1 50.3,510 50.6,509.4 50.9,509.5 51.3,511.4 51.6,509.8 51.9,510.9 52.3,512.4 52.6,512.4 52.9,510.9 53.2,512.7 53.6,511.7 53.9,512.9 54.2,510.1 54.6,510.7 54.9,511.7 55.2,513.4 55.6,511.9 55.9,511.2 56.2,510.1 56.5,510.3 56.9,510 57.2,513.6 57.5,513.2 57.9,513.2 58.2,511.5 58.5,512.3 58.9,510.4 59.2,511.2 59.5,509.7 59.9,511 60.2,510.2 60.5,509.4 60.8,513.3 61.2,509.4 61.5,512.8 61.8,512.3 62.2,509.4 62.5,511.3 62.8,513.7 63.1,513.7 63.5,511.6 63.8,512.6 64.1,512.3 64.5,510.4 64.8,511.6 65.1,511.8 65.5,510.8 65.8,512.9 66.1,511.1 66.5,512.5 66.8,509.3 67.1,511.1 67.4,509.2 67.8,512.1 68.1,513.1 68.4,511.6 68.8,511.7 69.1,511.9 69.4,510.1 69.8,510.8 70.1,511.7 70.4,512.1 70.7,510.8 71.1,511.3 71.4,510.6 71.7,511.6 72.1,512.2 72.4,510.5 72.7,512.2 73,513 73.4,511.5 73.7,513.6 74,510.5 74.4,513.4 74.7,509.9 75,510.7 75.4,512.9 75.7,509.2 76,511.9 76.3,513.1 76.7,513.5 77,512.2 77.3,510.6 77.7,510.6 78,512 78.3,509.3 78.7,509.1 79,513.2 79.3,512 79.7,509.8 80,511 80.3,510.4 80.6,513.1 81,510.4 81.3,512.4 81.6,512.5 82,510.5 82.3,510.2 82.6,511.5 83,510.9 83.3,511.8 83.6,510.6 83.9,512.8 84.3,511 84.6,509.7 84.9,512.7 85.3,513.3 85.6,512.2 85.9,511.6 86.2,513.1 86.6,513.4 86.9,509 87.2,511.3 87.6,509.1 87.9,510.6 88.2,510.1 88.6,511.2 88.9,512.2 89.2,513.1 89.5,510.2 89.9,509 90.2,513.7 90.5,512.7 90.9,511.5 91.2,509.4 91.5,509.2 91.9,513.3 92.2,511.4 92.5,513 92.8,512.6 93.2,512.4 93.5,512.6 93.8,510 94.2,509.9 94.5,510.8 94.8,512.3 95.2,512.4 95.5,512.2 95.8,511.3 96.2,510.7 96.5,509.3 96.8,511.5 97.1,511.4 97.5,510.6 97.8,511.5 98.1,512.7 98.5,512.4 98.8,508 99.1,508.7 99.5,510.2 99.8,510.5 100.1,508.5 100.4,512.1 100.8,509.8 101.1,511.5 101.4,508 101.8,509.3 102.1,508.1 102.4,512 102.8,510.8 103.1,513 103.4,511.4 103.7,510 104.1,510.3 104.4,510.4 104.7,509.6 105.1,509.2 105.4,511.9 105.7,510.3 106,511 106.4,512.2 106.7,510.2 107,511 107.4,510.4 107.7,510.5 108,512.1 108.4,509.4 108.7,510.9 109,509.5 109.3,512.2 109.7,510.4 110,513.6 110.3,511.3 110.7,512.2 111,511.5 111.3,512.9 111.7,512.4 112,512.1 112.3,509.2 112.7,509.7 113,512.6 113.3,511 113.6,513.7 114,512.1 114.3,512.9 114.6,512.6 115,513.6 115.3,512.1 115.6,513.5 116,511 116.3,510.3 116.6,509.5 116.9,510.2 117.3,513.2 117.6,512.1 117.9,509.1 118.3,509 118.6,511.1 118.9,511.5 119.2,510.6 119.6,508.9 119.9,510 120.2,512.9 120.6,512.2 120.9,512.6 121.2,509.9 121.6,511.7 121.9,509.4 122.2,509.8 122.5,513 122.9,509.2 123.2,509.5 123.5,509 123.9,512.2 124.2,511.1 124.5,510.5 124.9,511.7 125.2,509.5 125.5,511.6 125.8,510.7 126.2,508 126.5,507.9 126.8,509.7 127.2,509.5 127.5,511.4 127.8,510.9 128.2,511.5 128.5,510.9 128.8,509.3 129.2,511.8 129.5,513.1 129.8,511.4 130.1,511.9 130.5,509.6 130.8,509.2 131.1,510.8 131.5,511.6 131.8,512.3 132.1,511.1 132.4,511.5 132.8,509.4 133.1,509.2 133.4,509.5 133.8,510.4 134.1,510 134.4,509.5 134.8,510.4 135.1,510.3 135.4,512.6 135.8,513.1 136.1,513.3 136.4,511.9 136.7,508.3 137.1,509.2 137.4,512.9 137.7,511.3 138.1,511.9 138.4,508.3 138.7,508.3 139.1,507.3 139.4,509.3 139.7,508.1 140,508.3 140.4,506 140.7,504.9 141,506.5 141.4,509.3 141.7,507.9 142,507.9 142.3,505.4 142.7,507.9 143,508 143.3,509.7 143.7,508.8 144,511.2 144.3,508.7 144.7,511.2 145,507.8 145.3,508.7 145.7,512.1 146,512.5 146.3,510 146.6,509.6 147,513.4 147.3,511.8 147.6,509.5 148,513.8 148.3,512 148.6,510.8 148.9,511.8 149.3,511.3 149.6,512.3 149.9,511.5 150.3,511.3 150.6,512.8 150.9,510.8 151.3,513.2 151.6,512.7 151.9,513.6 152.2,509.8 152.6,513 152.9,512.2 153.2,509.5 153.6,512.9 153.9,510.7 154.2,508.9 154.6,508.9 154.9,512.7 155.2,511.5 155.6,508.2 155.9,511.4 156.2,506.5 156.5,509.8 156.9,509 157.2,510 157.5,509.8 157.9,508.3 158.2,508.4 158.5,506.6 158.8,510 159.2,507.5 159.5,509.6 159.8,510.1 160.2,508.6 160.5,511.2 160.8,510.9 161.2,508.3 161.5,510.8 161.8,510.5 162.2,511.3 162.5,508.7 162.8,512.1 163.1,510.9 163.5,512.6 163.8,510.4 164.1,509.6 164.5,511.7 164.8,512.6 165.1,513.4 165.4,512.3 165.8,513.8 166.1,510.4 166.4,510.2 166.8,511.3 167.1,512.4 167.4,512.8 167.8,509.3 168.1,511.7 168.4,510.3 168.8,511 169.1,508.7 169.4,508.7 169.7,510.9 170.1,509.1 170.4,512.1 170.7,509.3 171.1,508 171.4,506.7 171.7,508.1 172.1,507.5 172.4,505.4 172.7,509.2 173,505.7 173.4,507.4 173.7,507.5 174,509 174.4,505.2 174.7,510.7 175,509.1 175.3,507.2 175.7,509.9 176,507.4 176.3,509.7 176.7,508.4 177,508.4 177.3,510.7 177.7,512.8 178,512.6 178.3,513.6 178.7,513 179,512.4 179.3,512.5 179.6,514.2 180,510.7 180.3,512.5 180.6,512.7 181,510.5 181.3,514.2 181.6,513.3 181.9,511.7 182.3,513.6 182.6,512.1 182.9,513.1 183.3,512.1 183.6,513.4 183.9,511.6 184.3,509.5 184.6,512.5 184.9,509.7 185.2,511.1 185.6,512.6 185.9,511.3 186.2,507.5 186.6,511.2 186.9,511.5 187.2,508.3 187.6,506.6 187.9,507.3 188.2,507.1 188.6,503.3 188.9,507.7 189.2,506.1 189.5,505.4 189.9,508.7 190.2,505.4 190.5,510.2 190.9,510.6 191.2,508.9 191.5,507.5 191.8,509.7 192.2,508.3 192.5,510.9 192.8,509.3 193.2,511.4 193.5,511.1 193.8,511 194.2,512.4 194.5,512.4 194.8,514.1 195.2,512.4 195.5,513.1 195.8,513.9 196.1,511.6 196.5,513.3 196.8,511.9 197.1,513.4 197.5,513.4 197.8,515 198.1,515.2 198.4,512.2 198.8,514.4 199.1,512.2 199.4,511.5 199.8,512.8 200.1,511.3 200.4,514 200.8,513.6 201.1,509.3 201.4,513.6 201.8,512.9 202.1,508.8 202.4,511.1 202.7,510.2 203.1,507.6 203.4,510.1 203.7,505.7 204.1,507 204.4,507.3 204.7,508.5 205.1,505.3 205.4,503.6 205.7,503.9 206,504.2 206.4,504.2 206.7,503.1 207,508.5 207.4,505.3 207.7,505.9 208,506.7 208.3,511.3 208.7,507 209,510.3 209.3,510.4 209.7,509 210,512.1 210.3,509.4 210.7,509.4 211,509.3 211.3,512.4 211.7,509.8 212,512.6 212.3,512.9 212.6,510.6 213,514.5 213.3,511 213.6,511.9 214,514.1 214.3,511.9 214.6,514.2 214.9,513.9 215.3,514.2 215.6,512.6 215.9,512.2 216.3,513 216.6,513.5 216.9,510.7 217.3,510.9 217.6,511.5 217.9,510.3 218.2,513.3 218.6,514.2 218.9,511.9 219.2,510.9 219.6,511.2 219.9,513.1 220.2,512.2" fill="none" stroke="#ff1a1a" stroke-width="1.2" stroke-linejoin="round"/>
<rect x="44.50" y="385.80" width="176.30" height="142.70" fill="none" stroke="#000" stroke-width="1.15"/>
<line x1="43.00" y1="528.50" x2="44.50" y2="528.50" stroke="#000" stroke-width="1.1"/>
<line x1="41.90" y1="515.53" x2="44.50" y2="515.53" stroke="#000" stroke-width="1.1"/>
<text transform="translate(39.90,518.53) scale(1.0,1)" font-size="8.8" text-anchor="end" font-weight="bold" fill="#000">-760</text>
<line x1="43.00" y1="502.55" x2="44.50" y2="502.55" stroke="#000" stroke-width="1.1"/>
<line x1="41.90" y1="489.58" x2="44.50" y2="489.58" stroke="#000" stroke-width="1.1"/>
<text transform="translate(39.90,492.58) scale(1.0,1)" font-size="8.8" text-anchor="end" font-weight="bold" fill="#000">-720</text>
<line x1="43.00" y1="476.61" x2="44.50" y2="476.61" stroke="#000" stroke-width="1.1"/>
<line x1="41.90" y1="463.64" x2="44.50" y2="463.64" stroke="#000" stroke-width="1.1"/>
<text transform="translate(39.90,466.64) scale(1.0,1)" font-size="8.8" text-anchor="end" font-weight="bold" fill="#000">-680</text>
<line x1="43.00" y1="450.66" x2="44.50" y2="450.66" stroke="#000" stroke-width="1.1"/>
<line x1="41.90" y1="437.69" x2="44.50" y2="437.69" stroke="#000" stroke-width="1.1"/>
<text transform="translate(39.90,440.69) scale(1.0,1)" font-size="8.8" text-anchor="end" font-weight="bold" fill="#000">-640</text>
<line x1="43.00" y1="424.72" x2="44.50" y2="424.72" stroke="#000" stroke-width="1.1"/>
<line x1="41.90" y1="411.75" x2="44.50" y2="411.75" stroke="#000" stroke-width="1.1"/>
<text transform="translate(39.90,414.75) scale(1.0,1)" font-size="8.8" text-anchor="end" font-weight="bold" fill="#000">-600</text>
<line x1="43.00" y1="398.77" x2="44.50" y2="398.77" stroke="#000" stroke-width="1.1"/>
<line x1="41.90" y1="385.80" x2="44.50" y2="385.80" stroke="#000" stroke-width="1.1"/>
<text transform="translate(39.90,388.80) scale(1.0,1)" font-size="8.8" text-anchor="end" font-weight="bold" fill="#000">-560</text>
<line x1="44.50" y1="528.50" x2="44.50" y2="531.10" stroke="#000" stroke-width="1.1"/>
<text transform="translate(44.50,540.00) scale(1.0,1)" font-size="8.8" text-anchor="middle" font-weight="bold" fill="#000">0</text>
<line x1="62.13" y1="528.50" x2="62.13" y2="530.00" stroke="#000" stroke-width="1.1"/>
<line x1="79.76" y1="528.50" x2="79.76" y2="531.10" stroke="#000" stroke-width="1.1"/>
<text transform="translate(79.76,540.00) scale(1.0,1)" font-size="8.8" text-anchor="middle" font-weight="bold" fill="#000">1000</text>
<line x1="97.39" y1="528.50" x2="97.39" y2="530.00" stroke="#000" stroke-width="1.1"/>
<line x1="115.02" y1="528.50" x2="115.02" y2="531.10" stroke="#000" stroke-width="1.1"/>
<text transform="translate(115.02,540.00) scale(1.0,1)" font-size="8.8" text-anchor="middle" font-weight="bold" fill="#000">2000</text>
<line x1="132.65" y1="528.50" x2="132.65" y2="530.00" stroke="#000" stroke-width="1.1"/>
<line x1="150.28" y1="528.50" x2="150.28" y2="531.10" stroke="#000" stroke-width="1.1"/>
<text transform="translate(150.28,540.00) scale(1.0,1)" font-size="8.8" text-anchor="middle" font-weight="bold" fill="#000">3000</text>
<line x1="167.91" y1="528.50" x2="167.91" y2="530.00" stroke="#000" stroke-width="1.1"/>
<line x1="185.54" y1="528.50" x2="185.54" y2="531.10" stroke="#000" stroke-width="1.1"/>
<text transform="translate(185.54,540.00) scale(1.0,1)" font-size="8.8" text-anchor="middle" font-weight="bold" fill="#000">4000</text>
<line x1="203.17" y1="528.50" x2="203.17" y2="530.00" stroke="#000" stroke-width="1.1"/>
<line x1="220.80" y1="528.50" x2="220.80" y2="531.10" stroke="#000" stroke-width="1.1"/>
<text transform="translate(220.80,540.00) scale(1.0,1)" font-size="8.8" text-anchor="middle" font-weight="bold" fill="#000">5000</text>
<text transform="translate(132.65,553.70) scale(0.92,1)" font-size="10.3" text-anchor="middle" font-weight="bold" fill="#000">Time (fs)</text>
<text transform="translate(15.50,453.35) rotate(-90) scale(1,0.96)" font-size="9.7" text-anchor="middle" font-weight="bold">Total energy (eV)</text>
<text transform="translate(0.40,376.70) scale(0.97,1)" font-size="15.2" text-anchor="start" font-weight="bold" fill="#000">(g)</text>
<text transform="translate(155.40,397.10) scale(0.99,1)" font-size="8.8" font-weight="bold">CaTaO<tspan font-size="6" dy="2.3">3</tspan><tspan dy="-2.3" dx="5.4" font-size="8.8">@300K</tspan></text>
<text transform="translate(124.70,497.70) scale(0.95,1)" font-size="10.5" text-anchor="start" font-weight="bold" fill="#000">max</text>
<line x1="144.10" y1="495.00" x2="200.53" y2="502.10" stroke="#4a72c8" stroke-width="0.9"/>
<path d="M204.50,502.60 L200.33,503.69 L200.73,500.51 Z" fill="#3f68c8"/>
<text transform="translate(167.80,524.70) scale(0.93,1)" font-size="10.5" text-anchor="start" font-weight="bold" fill="#000">min</text>
<line x1="185.00" y1="521.60" x2="194.51" y2="516.96" stroke="#4a72c8" stroke-width="0.9"/>
<path d="M198.10,515.20 L195.21,518.39 L193.80,515.52 Z" fill="#3f68c8"/>
<rect x="281.7" y="407.9" width="35" height="29.1" fill="none" stroke="#c9c9c9" stroke-width="0.7"/>
<rect x="390.5" y="407.9" width="35" height="29.1" fill="none" stroke="#c9c9c9" stroke-width="0.7"/>
<path d="M287.5 408.6L281.7 411.6M287.5 408.6L293.4 411.6M299.2 408.6L293.4 411.6M299.2 408.6L305 411.6M310.9 408.6L305 411.6M310.9 408.6L316.7 411.6M281.7 414.3L281.7 411.6M281.7 414.3L275.9 411.6M281.7 414.3L287.5 411.6M293.4 414.3L293.4 411.6M293.4 414.3L287.5 411.6M293.4 414.3L299.2 411.6M305 414.3L305 411.6M305 414.3L299.2 411.6M305 414.3L310.9 411.6M316.7 414.3L316.7 411.6M316.7 414.3L310.9 411.6M287.5 423.4L281.7 426.7M287.5 423.4L293.4 426.7M299.2 423.4L293.4 426.7M299.2 423.4L305 426.7M310.9 423.4L305 426.7M310.9 423.4L316.7 426.7M281.7 429.4L281.7 426.7M281.7 429.4L275.9 426.7M281.7 429.4L287.5 426.7M293.4 429.4L293.4 426.7M293.4 429.4L287.5 426.7M293.4 429.4L299.2 426.7M305 429.4L305 426.7M305 429.4L299.2 426.7M305 429.4L310.9 426.7M316.7 429.4L316.7 426.7M316.7 429.4L310.9 426.7M396.3 408.6L390.5 411.6M396.3 408.6L402.2 411.6M408 408.6L402.2 411.6M408 408.6L413.8 411.6M419.7 408.6L413.8 411.6M419.7 408.6L425.5 411.6M390.5 414.3L390.5 411.6M390.5 414.3L384.7 411.6M390.5 414.3L396.3 411.6M402.2 414.3L402.2 411.6M402.2 414.3L396.3 411.6M402.2 414.3L408 411.6M413.8 414.3L413.8 411.6M413.8 414.3L408 411.6M413.8 414.3L419.7 411.6M425.5 414.3L425.5 411.6M425.5 414.3L419.7 411.6M396.3 423.4L390.5 426.7M396.3 423.4L402.2 426.7M408 423.4L402.2 426.7M408 423.4L413.8 426.7M419.7 423.4L413.8 426.7M419.7 423.4L425.5 426.7M390.5 429.4L390.5 426.7M390.5 429.4L384.7 426.7M390.5 429.4L396.3 426.7M402.2 429.4L402.2 426.7M402.2 429.4L396.3 426.7M402.2 429.4L408 426.7M413.8 429.4L413.8 426.7M413.8 429.4L408 426.7M413.8 429.4L419.7 426.7M425.5 429.4L425.5 426.7M425.5 429.4L419.7 426.7" stroke="#e3322b" stroke-width="0.7" fill="none"/>
<path d="M287.5 408.6L284.6 410.1M287.5 408.6L290.5 410.1M299.2 408.6L296.3 410.1M299.2 408.6L302.1 410.1M310.9 408.6L308 410.1M310.9 408.6L313.8 410.1M287.5 423.4L284.6 425M287.5 423.4L290.5 425M299.2 423.4L296.3 425M299.2 423.4L302.1 425M310.9 423.4L308 425M310.9 423.4L313.8 425M396.3 408.6L393.4 410.1M396.3 408.6L399.3 410.1M408 408.6L405.1 410.1M408 408.6L410.9 410.1M419.7 408.6L416.8 410.1M419.7 408.6L422.6 410.1M396.3 423.4L393.4 425M396.3 423.4L399.3 425M408 423.4L405.1 425M408 423.4L410.9 425M419.7 423.4L416.8 425M419.7 423.4L422.6 425" stroke="#c070e8" stroke-width="0.7" fill="none"/>
<path d="M287.5 408.6L287.5 411.6M299.2 408.6L299.2 411.6M310.9 408.6L310.9 411.6M287.5 423.4L287.5 426.7M299.2 423.4L299.2 426.7M310.9 423.4L310.9 426.7M396.3 408.6L396.3 411.6M408 408.6L408 411.6M419.7 408.6L419.7 411.6M396.3 423.4L396.3 426.7M408 423.4L408 426.7M419.7 423.4L419.7 426.7" stroke="#e3322b" stroke-width="0.6" fill="none"/>
<path d="M281.7 414.3L281.7 419.7M293.4 414.3L293.4 419.7M305 414.3L305 419.7M316.7 414.3L316.7 419.7M275.6 412.3L281.7 414.3M322.8 412.3L316.7 414.3M281.7 429.4L281.7 434.8M293.4 429.4L293.4 434.8M305 429.4L305 434.8M316.7 429.4L316.7 434.8M275.6 427.4L281.7 429.4M322.8 427.4L316.7 429.4M390.5 414.3L390.5 419.7M402.2 414.3L402.2 419.7M413.8 414.3L413.8 419.7M425.5 414.3L425.5 419.7M384.4 412.3L390.5 414.3M431.6 412.3L425.5 414.3M390.5 429.4L390.5 434.8M402.2 429.4L402.2 434.8M413.8 429.4L413.8 434.8M425.5 429.4L425.5 434.8M384.4 427.4L390.5 429.4M431.6 427.4L425.5 429.4" stroke="#e3322b" stroke-width="0.8" fill="none"/>
<path d="M278.2 456.7L320.2 456.7M278.2 468.5L320.2 468.5M278.2 480.2L320.2 480.2M287.5 447.3L287.5 489.6M299.2 447.3L299.2 489.6M310.9 447.3L310.9 489.6M387 456.1L429.2 456.1M387 467.8L429.2 467.8M387 479.5L429.2 479.5M396.4 446.7L396.4 488.9M408.1 446.7L408.1 488.9M419.8 446.7L419.8 488.9" stroke="#d23a2e" stroke-width="0.7" opacity="0.9" fill="none"/>
<path d="M275.3 450.8L323.1 450.8M275.3 462.6L323.1 462.6M275.3 474.3L323.1 474.3M275.3 486.1L323.1 486.1M281.7 444.3L281.7 492.6M293.4 444.3L293.4 492.6M305 444.3L305 492.6M316.7 444.3L316.7 492.6M384 450.2L432.1 450.2M384 461.9L432.1 461.9M384 473.7L432.1 473.7M384 485.4L432.1 485.4M390.5 443.7L390.5 491.8M402.2 443.7L402.2 491.8M414 443.7L414 491.8M425.7 443.7L425.7 491.8" stroke="#d23a2e" stroke-width="0.7" fill="none"/>
<path d="M278.8 456.7L284.6 456.7M290.5 456.7L296.3 456.7M302.1 456.7L307.9 456.7M313.8 456.7L319.6 456.7M278.8 468.5L284.6 468.5M290.5 468.5L296.3 468.5M302.1 468.5L307.9 468.5M313.8 468.5L319.6 468.5M278.8 480.2L284.6 480.2M290.5 480.2L296.3 480.2M302.1 480.2L307.9 480.2M313.8 480.2L319.6 480.2M287.5 447.9L287.5 453.7M287.5 459.7L287.5 465.5M287.5 471.4L287.5 477.2M287.5 483.2L287.5 489M299.2 447.9L299.2 453.7M299.2 459.7L299.2 465.5M299.2 471.4L299.2 477.2M299.2 483.2L299.2 489M310.9 447.9L310.9 453.7M310.9 459.7L310.9 465.5M310.9 471.4L310.9 477.2M310.9 483.2L310.9 489M387.6 456.1L393.4 456.1M399.3 456.1L405.1 456.1M411.1 456.1L416.9 456.1M422.8 456.1L428.6 456.1M387.6 467.8L393.4 467.8M399.3 467.8L405.1 467.8M411.1 467.8L416.9 467.8M422.8 467.8L428.6 467.8M387.6 479.5L393.4 479.5M399.3 479.5L405.1 479.5M411.1 479.5L416.9 479.5M422.8 479.5L428.6 479.5M396.4 447.3L396.4 453.1M396.4 459L396.4 464.8M396.4 470.8L396.4 476.6M396.4 482.5L396.4 488.3M408.1 447.3L408.1 453.1M408.1 459L408.1 464.8M408.1 470.8L408.1 476.6M408.1 482.5L408.1 488.3M419.8 447.3L419.8 453.1M419.8 459L419.8 464.8M419.8 470.8L419.8 476.6M419.8 482.5L419.8 488.3" stroke="#e3322b" stroke-width="0.6" opacity="0.85" fill="none"/>
<path d="M275.6 412.3h0M322.8 412.3h0M281.7 419.7h0M293.4 419.7h0M305 419.7h0M316.7 419.7h0M275.6 427.4h0M322.8 427.4h0M281.7 434.8h0M293.4 434.8h0M305 434.8h0M316.7 434.8h0M384.4 412.3h0M431.6 412.3h0M390.5 419.7h0M402.2 419.7h0M413.8 419.7h0M425.5 419.7h0M384.4 427.4h0M431.6 427.4h0M390.5 434.8h0M402.2 434.8h0M413.8 434.8h0M425.5 434.8h0" stroke="#e8231f" stroke-width="2.1" stroke-linecap="round" fill="none"/>
<path d="M281.7 411.6h0M287.5 411.6h0M293.4 411.6h0M299.2 411.6h0M305 411.6h0M310.9 411.6h0M316.7 411.6h0M281.7 426.7h0M287.5 426.7h0M293.4 426.7h0M299.2 426.7h0M305 426.7h0M310.9 426.7h0M316.7 426.7h0M390.5 411.6h0M396.3 411.6h0M402.2 411.6h0M408 411.6h0M413.8 411.6h0M419.7 411.6h0M425.5 411.6h0M390.5 426.7h0M396.3 426.7h0M402.2 426.7h0M408 426.7h0M413.8 426.7h0M419.7 426.7h0M425.5 426.7h0" stroke="#e8231f" stroke-width="1.9" stroke-linecap="round" fill="none"/>
<path d="M275.3 450.8h0M323.1 450.8h0M275.3 462.6h0M323.1 462.6h0M275.3 474.3h0M323.1 474.3h0M275.3 486.1h0M323.1 486.1h0M281.7 444.3h0M281.7 492.6h0M293.4 444.3h0M293.4 492.6h0M305 444.3h0M305 492.6h0M316.7 444.3h0M316.7 492.6h0M384 450.2h0M432.1 450.2h0M384 461.9h0M432.1 461.9h0M384 473.7h0M432.1 473.7h0M384 485.4h0M432.1 485.4h0M390.5 443.7h0M390.5 491.8h0M402.2 443.7h0M402.2 491.8h0M414 443.7h0M414 491.8h0M425.7 443.7h0M425.7 491.8h0" stroke="#e8231f" stroke-width="2.0" stroke-linecap="round" fill="none"/>
<path d="M287.5 450.8h0M299.2 450.8h0M310.9 450.8h0M287.5 462.6h0M299.2 462.6h0M310.9 462.6h0M287.5 474.3h0M299.2 474.3h0M310.9 474.3h0M287.5 486.1h0M299.2 486.1h0M310.9 486.1h0M281.7 456.7h0M293.4 456.7h0M305 456.7h0M316.7 456.7h0M281.7 468.5h0M293.4 468.5h0M305 468.5h0M316.7 468.5h0M281.7 480.2h0M293.4 480.2h0M305 480.2h0M316.7 480.2h0M396.4 450.2h0M408.1 450.2h0M419.8 450.2h0M396.4 461.9h0M408.1 461.9h0M419.8 461.9h0M396.4 473.7h0M408.1 473.7h0M419.8 473.7h0M396.4 485.4h0M408.1 485.4h0M419.8 485.4h0M390.5 456.1h0M402.2 456.1h0M414 456.1h0M425.7 456.1h0M390.5 467.8h0M402.2 467.8h0M414 467.8h0M425.7 467.8h0M390.5 479.5h0M402.2 479.5h0M414 479.5h0M425.7 479.5h0" stroke="#e8231f" stroke-width="1.7" stroke-linecap="round" fill="none"/>
<path d="M287.5 408.6h0M299.2 408.6h0M310.9 408.6h0M287.5 423.4h0M299.2 423.4h0M310.9 423.4h0M287.5 456.7h0M299.2 456.7h0M310.9 456.7h0M287.5 468.5h0M299.2 468.5h0M310.9 468.5h0M287.5 480.2h0M299.2 480.2h0M310.9 480.2h0M396.3 408.6h0M408 408.6h0M419.7 408.6h0M396.3 423.4h0M408 423.4h0M419.7 423.4h0M396.4 456.1h0M408.1 456.1h0M419.8 456.1h0M396.4 467.8h0M408.1 467.8h0M419.8 467.8h0M396.4 479.5h0M408.1 479.5h0M419.8 479.5h0" stroke="#9030c0" stroke-width="5.0" stroke-linecap="round" fill="none"/>
<path d="M281.7 414.3h0M293.4 414.3h0M305 414.3h0M316.7 414.3h0M281.7 429.4h0M293.4 429.4h0M305 429.4h0M316.7 429.4h0M281.7 450.8h0M293.4 450.8h0M305 450.8h0M316.7 450.8h0M281.7 462.6h0M293.4 462.6h0M305 462.6h0M316.7 462.6h0M281.7 474.3h0M293.4 474.3h0M305 474.3h0M316.7 474.3h0M281.7 486.1h0M293.4 486.1h0M305 486.1h0M316.7 486.1h0M390.5 414.3h0M402.2 414.3h0M413.8 414.3h0M425.5 414.3h0M390.5 429.4h0M402.2 429.4h0M413.8 429.4h0M425.5 429.4h0M390.5 450.2h0M402.2 450.2h0M414 450.2h0M425.7 450.2h0M390.5 461.9h0M402.2 461.9h0M414 461.9h0M425.7 461.9h0M390.5 473.7h0M402.2 473.7h0M414 473.7h0M425.7 473.7h0M390.5 485.4h0M402.2 485.4h0M414 485.4h0M425.7 485.4h0" stroke="#8a1c10" stroke-width="4.2" stroke-linecap="round" fill="none"/>
<path d="M287.5 408.6h0M299.2 408.6h0M310.9 408.6h0M287.5 423.4h0M299.2 423.4h0M310.9 423.4h0M287.5 456.7h0M299.2 456.7h0M310.9 456.7h0M287.5 468.5h0M299.2 468.5h0M310.9 468.5h0M287.5 480.2h0M299.2 480.2h0M310.9 480.2h0M396.3 408.6h0M408 408.6h0M419.7 408.6h0M396.3 423.4h0M408 423.4h0M419.7 423.4h0M396.4 456.1h0M408.1 456.1h0M419.8 456.1h0M396.4 467.8h0M408.1 467.8h0M419.8 467.8h0M396.4 479.5h0M408.1 479.5h0M419.8 479.5h0" stroke="#bd45ee" stroke-width="4.2" stroke-linecap="round" fill="none"/>
<path d="M281.7 414.3h0M293.4 414.3h0M305 414.3h0M316.7 414.3h0M281.7 429.4h0M293.4 429.4h0M305 429.4h0M316.7 429.4h0M281.7 450.8h0M293.4 450.8h0M305 450.8h0M316.7 450.8h0M281.7 462.6h0M293.4 462.6h0M305 462.6h0M316.7 462.6h0M281.7 474.3h0M293.4 474.3h0M305 474.3h0M316.7 474.3h0M281.7 486.1h0M293.4 486.1h0M305 486.1h0M316.7 486.1h0M390.5 414.3h0M402.2 414.3h0M413.8 414.3h0M425.5 414.3h0M390.5 429.4h0M402.2 429.4h0M413.8 429.4h0M425.5 429.4h0M390.5 450.2h0M402.2 450.2h0M414 450.2h0M425.7 450.2h0M390.5 461.9h0M402.2 461.9h0M414 461.9h0M425.7 461.9h0M390.5 473.7h0M402.2 473.7h0M414 473.7h0M425.7 473.7h0M390.5 485.4h0M402.2 485.4h0M414 485.4h0M425.7 485.4h0" stroke="#b8301f" stroke-width="3.4" stroke-linecap="round" fill="none"/>
<path d="M287.5 408.6h0M299.2 408.6h0M310.9 408.6h0M287.5 423.4h0M299.2 423.4h0M310.9 423.4h0M287.5 456.7h0M299.2 456.7h0M310.9 456.7h0M287.5 468.5h0M299.2 468.5h0M310.9 468.5h0M287.5 480.2h0M299.2 480.2h0M310.9 480.2h0M396.3 408.6h0M408 408.6h0M419.7 408.6h0M396.3 423.4h0M408 423.4h0M419.7 423.4h0M396.4 456.1h0M408.1 456.1h0M419.8 456.1h0M396.4 467.8h0M408.1 467.8h0M419.8 467.8h0M396.4 479.5h0M408.1 479.5h0M419.8 479.5h0" stroke="#f6dcff" stroke-width="1.8" stroke-linecap="round" fill="none"/>
<path d="M281.7 414.3h0M293.4 414.3h0M305 414.3h0M316.7 414.3h0M281.7 429.4h0M293.4 429.4h0M305 429.4h0M316.7 429.4h0M390.5 414.3h0M402.2 414.3h0M413.8 414.3h0M425.5 414.3h0M390.5 429.4h0M402.2 429.4h0M413.8 429.4h0M425.5 429.4h0" stroke="#e05040" stroke-width="1.4" stroke-linecap="round" fill="none"/>
<path d="M281.7 450.8h0M293.4 450.8h0M305 450.8h0M316.7 450.8h0M281.7 462.6h0M293.4 462.6h0M305 462.6h0M316.7 462.6h0M281.7 474.3h0M293.4 474.3h0M305 474.3h0M316.7 474.3h0M281.7 486.1h0M293.4 486.1h0M305 486.1h0M316.7 486.1h0M390.5 450.2h0M402.2 450.2h0M414 450.2h0M425.7 450.2h0M390.5 461.9h0M402.2 461.9h0M414 461.9h0M425.7 461.9h0M390.5 473.7h0M402.2 473.7h0M414 473.7h0M425.7 473.7h0M390.5 485.4h0M402.2 485.4h0M414 485.4h0M425.7 485.4h0" stroke="#e04a3a" stroke-width="1.6" stroke-linecap="round" fill="none"/>
<path d="M339.90,443.20 L360.50,443.20 L360.50,440.15 L367.20,446.70 L360.50,453.25 L360.50,450.20 L339.90,450.20 Z" fill="url(#ga)"/>
<polyline points="268.9,511.2 269.2,511 269.6,510.5 269.9,509.1 270.2,509.3 270.6,510.2 270.9,510.4 271.2,508 271.5,508.2 271.9,510.2 272.2,507.7 272.5,509.1 272.9,507.8 273.2,508.5 273.5,508.9 273.9,507.6 274.2,506.4 274.5,505.6 274.8,506.2 275.2,505.6 275.5,503.8 275.6,503.8 275.8,504.5 276.2,503.7 276.5,503.9 276.8,506 277.1,504.4 277.5,506.8 277.8,507.9 278.1,508.3 278.5,506.4 278.8,507.3 279.1,509.3 279.5,507.5 279.8,509.8 280.1,507.4 280.4,509.6 280.8,507.3 281.1,509.4 281.4,509.9 281.8,509.2 282.1,509.6 282.4,510.5 282.8,510.8 283.1,508.6 283.4,509.6 283.8,508.4 284.1,509.4 284.4,508.8 284.7,508.7 285.1,509.9 285.4,508.2 285.7,508.2 286.1,507.6 286.4,509.8 286.7,507.8 287.1,507 287.4,508.5 287.7,508.5 288,507.8 288.4,507.1 288.7,506.5 289,506.7 289.4,504.3 289.7,506 290,504.5 290.2,504.9 290.4,505.3 290.7,505.5 291,504.4 291.3,504.9 291.7,506.3 292,506 292.3,504.1 292.7,508.1 293,505.6 293.3,507 293.6,507.1 294,506.1 294.3,508.1 294.6,508.3 295,509.2 295.3,508.7 295.6,507.9 296,508.9 296.3,510.2 296.6,509.4 296.9,510.1 297.3,507.8 297.6,509.8 297.9,508.6 298.3,508.5 298.6,509.1 298.9,508.7 299.3,508.6 299.6,508.8 299.9,508.7 300.2,508.6 300.6,510 300.9,507.7 301.2,507.8 301.6,507.1 301.9,508.3 302.2,507 302.6,507.7 302.9,506.2 303.2,505.5 303.6,506.1 303.9,503.7 304.2,506.7 304.5,504.4 304.6,503.4 304.9,504.6 305.2,507 305.5,505.3 305.9,505.3 306.2,504.9 306.5,506 306.9,507.8 307.2,507.5 307.5,506.5 307.8,509 308.2,506.5 308.5,507.5 308.8,509.1 309.2,509.7 309.5,508.4 309.8,507.2 310.1,509 310.5,508.7 310.8,507.7 311.1,508.7 311.5,510.4 311.8,508.1 312.1,508.6 312.5,508.6 312.8,510.4 313.1,509.2 313.4,510.2 313.8,510.3 314.1,508.4 314.4,509.4 314.8,508.4 315.1,510.2 315.4,509.2 315.8,508.6 316.1,509.8 316.4,509.6 316.8,506.9 317.1,506.6 317.4,507 317.7,506.6 318.1,506.6 318.4,506 318.7,507.7 319.1,505.8 319.4,506.5 319.7,504.1 319.7,502.1 320.1,504.4 320.4,502.9 320.7,505.4 321,503.9 321.4,507.7 321.7,505.4 322,508.1 322.4,505.8 322.7,506 323,506.5 323.4,508.8 323.7,509 324,508.9 324.3,508.5 324.7,507.3 325,507.8 325.3,507.3 325.7,510.2 326,507.9 326.3,509.7 326.6,507.8 327,508.7 327.3,509.7 327.6,508.6 328,508.4 328.3,510.7 328.6,508.9 329,508 329.3,509.8 329.6,510.5 329.9,509 330.3,507.2 330.6,508.1 330.9,508.4 331.3,506.9 331.6,507.1 331.9,507.9 332.3,507.1 332.6,507.3 332.9,507.3 333.2,504.6 333.6,506.1 333.9,500.6 334.2,501.7 334.5,501.7 334.6,503.5 334.9,501.4 335.2,501.9 335.6,505 335.9,503.4 336.2,501.9 336.6,504.3 336.9,504 337.2,506.1 337.5,507.2 337.9,504.3 338.2,505.8 338.5,508.4 338.9,508.3 339.2,508.4 339.5,507.2 339.9,509.4 340.2,509.2 340.5,509.3 340.8,508.6 341.2,509 341.5,507.6 341.8,507.4 342.2,507.5 342.5,507.8 342.8,509.2 343.1,510.6 343.5,509.6 343.8,510.3 344.1,510.1 344.5,510.6 344.8,508.4 345.1,508.9 345.5,510 345.8,507.9 346.1,508.8 346.4,507.6 346.8,506.3 347.1,506 347.4,506.1 347.8,504.1 348.1,507.2 348.4,504.1 348.8,502.7 349.1,504.7 349.4,499.2 349.6,503 349.8,501.5 350.1,500.1 350.4,502.5 350.7,506.1 351.1,501.9 351.4,503.7 351.7,503.7 352.1,506 352.4,504.7 352.7,507.7 353.1,506.1 353.4,508.6 353.7,505.8 354,506.5 354.4,506 354.7,506.3 355,507 355.4,508.6 355.7,508.6 356,509.3 356.4,507.9 356.7,509.2 357,510.5 357.3,508.6 357.7,508.4 358,508.4 358.3,510.7 358.7,509.9 359,509.5 359.3,509.5 359.6,508.2 360,508.5 360.3,509.8 360.6,508.3 361,508.9 361.3,510 361.6,507.5 362,508.2 362.3,508.9 362.6,508.6 362.9,508.6 363.3,508.6 363.6,507 363.9,505.2 364.3,505.8 364.6,507.2 364.9,503.2 365.3,503 365.6,501.6 365.9,504.6 366,499.9 366.2,500.8 366.6,503.9 366.9,505 367.2,504 367.6,506 367.9,506.2 368.2,505.2 368.6,504.3 368.9,507.2 369.2,507.2 369.6,508.8 369.9,508 370.2,505.7 370.5,506.1 370.9,506.4 371.2,507.8 371.5,506.1 371.9,505.6 372.2,505.3 372.5,505.4 372.9,506.1 373.2,506.8 373.5,507.2 373.8,503.7 374.2,505.5 374.5,507.1 374.8,504 375.2,502.4 375.5,504.9 375.8,505.6 376.1,501.4 376.5,501.5 376.8,502.4 377.1,502.5 377.5,500.9 377.8,500.4 378.1,502 378.5,504.8 378.8,502.2 379.1,500.1 379.4,503.9 379.8,499.3 380.1,497.8 380.3,497.4 380.4,496.9 380.8,503.1 381.1,500.9 381.4,504 381.8,501.6 382.1,499.1 382.4,501.1 382.8,501.2 383.1,500.4 383.4,500.2 383.7,503.8 384.1,504.9 384.4,505.4 384.7,501.8 385.1,503.9 385.4,502.2 385.7,505.3 386.1,505.8 386.4,501.3 386.7,502.3 387,505.8 387.4,506.4 387.7,505.8 388,502 388.4,504.7 388.7,505.5 389,504.4 389.4,504.1 389.7,505.2 390,501.4 390.3,503.9 390.7,505.8 391,503.4 391.3,502.2 391.7,500.7 392,504.7 392.3,503.2 392.6,504.6 393,504.4 393.3,502.5 393.6,503.1 394,502.6 394.3,501.7 394.6,499 394.7,500.7 395,501.7 395.3,498.6 395.6,502.3 395.9,501.4 396.3,500.3 396.6,500.9 396.9,504.1 397.3,499.2 397.6,499.4 397.9,502.2 398.3,500.2 398.6,504.5 398.9,505 399.2,502.1 399.6,502.2 399.9,504 400.2,505.3 400.6,504 400.9,505.5 401.2,502.7 401.6,503.4 401.9,504.6 402.2,505 402.6,503.2 402.9,503.1 403.2,505.7 403.5,504.7 403.9,503.9 404.2,502.4 404.5,502.8 404.9,501.3 405.2,501.9 405.5,501 405.9,501.5 406.2,503.5 406.5,502.9 406.8,504.4 407.2,502.6 407.5,501 407.8,500.8 408.2,503.4 408.5,498 408.8,498.5 409.1,499.9 409.5,497.5 409.8,498.6 410,496.7 410.1,500 410.5,502.1 410.8,499.2 411.1,502 411.5,497.4 411.8,498.3 412.1,499 412.4,503.2 412.8,500.6 413.1,502.7 413.4,504.7 413.8,503.4 414.1,502.8 414.4,503.9 414.8,504.8 415.1,504.8 415.4,505 415.8,503.7 416.1,507.8 416.4,507.2 416.7,508.2 417.1,508.2 417.4,506.6 417.7,507.8 418.1,508.8 418.4,507.9 418.7,510.2 419.1,509.6 419.4,509.9 419.7,510.9 420,509.3 420.4,509.3 420.7,509.9 421,508.4 421.4,508.6 421.7,508.3 422,510.4 422.4,509.3 422.7,509.6 423,508.8 423.3,507.5 423.7,507.3 424,509.1 424.3,507.4 424.7,507 425,505.7 425.3,507.2 425.6,503.5 426,505.8 426.1,504.7 426.3,505.2 426.6,506.9 427,505 427.3,505.6 427.6,505.5 428,507 428.3,508 428.6,507.9 428.9,506.2 429.3,508.5 429.6,506 429.9,508.3 430.3,506.9 430.6,507.6 430.9,508.6 431.3,507.3 431.6,509.3 431.9,509.2 432.2,509.7 432.6,508.8 432.9,510 433.2,509.8 433.6,509.2 433.9,509.6 434.2,508.5 434.6,509.5 434.9,508.5 435.2,508 435.6,509.3 435.9,510.1 436.2,508.6 436.5,507.4 436.9,508.8 437.2,507.1 437.5,508.3 437.9,508.4 438.2,506.2 438.5,506.1 438.9,506.2 439.2,506.7 439.5,506.3 439.8,507 440.2,504.7 440.5,505.7 440.6,501.6 440.8,502.3 441.2,506.5 441.5,506.1 441.8,504.8 442.1,503.8 442.5,505.1 442.8,506.1 443.1,504.9 443.5,507.4 443.8,508.8" fill="none" stroke="#ff1a1a" stroke-width="1.2" stroke-linejoin="round"/>
<rect x="268.40" y="385.80" width="175.90" height="142.10" fill="none" stroke="#000" stroke-width="1.15"/>
<line x1="265.80" y1="527.90" x2="268.40" y2="527.90" stroke="#000" stroke-width="1.1"/>
<text transform="translate(263.80,530.90) scale(1.0,1)" font-size="8.8" text-anchor="end" font-weight="bold" fill="#000">-680</text>
<line x1="266.90" y1="513.69" x2="268.40" y2="513.69" stroke="#000" stroke-width="1.1"/>
<line x1="265.80" y1="499.48" x2="268.40" y2="499.48" stroke="#000" stroke-width="1.1"/>
<text transform="translate(263.80,502.48) scale(1.0,1)" font-size="8.8" text-anchor="end" font-weight="bold" fill="#000">-640</text>
<line x1="266.90" y1="485.27" x2="268.40" y2="485.27" stroke="#000" stroke-width="1.1"/>
<line x1="265.80" y1="471.06" x2="268.40" y2="471.06" stroke="#000" stroke-width="1.1"/>
<text transform="translate(263.80,474.06) scale(1.0,1)" font-size="8.8" text-anchor="end" font-weight="bold" fill="#000">-600</text>
<line x1="266.90" y1="456.85" x2="268.40" y2="456.85" stroke="#000" stroke-width="1.1"/>
<line x1="265.80" y1="442.64" x2="268.40" y2="442.64" stroke="#000" stroke-width="1.1"/>
<text transform="translate(263.80,445.64) scale(1.0,1)" font-size="8.8" text-anchor="end" font-weight="bold" fill="#000">-560</text>
<line x1="266.90" y1="428.43" x2="268.40" y2="428.43" stroke="#000" stroke-width="1.1"/>
<line x1="265.80" y1="414.22" x2="268.40" y2="414.22" stroke="#000" stroke-width="1.1"/>
<text transform="translate(263.80,417.22) scale(1.0,1)" font-size="8.8" text-anchor="end" font-weight="bold" fill="#000">-520</text>
<line x1="266.90" y1="400.01" x2="268.40" y2="400.01" stroke="#000" stroke-width="1.1"/>
<line x1="265.80" y1="385.80" x2="268.40" y2="385.80" stroke="#000" stroke-width="1.1"/>
<text transform="translate(263.80,388.80) scale(1.0,1)" font-size="8.8" text-anchor="end" font-weight="bold" fill="#000">-480</text>
<line x1="268.40" y1="527.90" x2="268.40" y2="530.50" stroke="#000" stroke-width="1.1"/>
<text transform="translate(268.40,539.40) scale(1.0,1)" font-size="8.8" text-anchor="middle" font-weight="bold" fill="#000">0</text>
<line x1="285.99" y1="527.90" x2="285.99" y2="529.40" stroke="#000" stroke-width="1.1"/>
<line x1="303.58" y1="527.90" x2="303.58" y2="530.50" stroke="#000" stroke-width="1.1"/>
<text transform="translate(303.58,539.40) scale(1.0,1)" font-size="8.8" text-anchor="middle" font-weight="bold" fill="#000">1000</text>
<line x1="321.17" y1="527.90" x2="321.17" y2="529.40" stroke="#000" stroke-width="1.1"/>
<line x1="338.76" y1="527.90" x2="338.76" y2="530.50" stroke="#000" stroke-width="1.1"/>
<text transform="translate(338.76,539.40) scale(1.0,1)" font-size="8.8" text-anchor="middle" font-weight="bold" fill="#000">2000</text>
<line x1="356.35" y1="527.90" x2="356.35" y2="529.40" stroke="#000" stroke-width="1.1"/>
<line x1="373.94" y1="527.90" x2="373.94" y2="530.50" stroke="#000" stroke-width="1.1"/>
<text transform="translate(373.94,539.40) scale(1.0,1)" font-size="8.8" text-anchor="middle" font-weight="bold" fill="#000">3000</text>
<line x1="391.53" y1="527.90" x2="391.53" y2="529.40" stroke="#000" stroke-width="1.1"/>
<line x1="409.12" y1="527.90" x2="409.12" y2="530.50" stroke="#000" stroke-width="1.1"/>
<text transform="translate(409.12,539.40) scale(1.0,1)" font-size="8.8" text-anchor="middle" font-weight="bold" fill="#000">4000</text>
<line x1="426.71" y1="527.90" x2="426.71" y2="529.40" stroke="#000" stroke-width="1.1"/>
<line x1="444.30" y1="527.90" x2="444.30" y2="530.50" stroke="#000" stroke-width="1.1"/>
<text transform="translate(444.30,539.40) scale(1.0,1)" font-size="8.8" text-anchor="middle" font-weight="bold" fill="#000">5000</text>
<text transform="translate(356.35,553.10) scale(0.92,1)" font-size="10.3" text-anchor="middle" font-weight="bold" fill="#000">Time (fs)</text>
<text transform="translate(239.40,453.05) rotate(-90) scale(1,0.96)" font-size="9.7" text-anchor="middle" font-weight="bold">Total energy (eV)</text>
<text transform="translate(231.90,376.70) scale(0.97,1)" font-size="15.2" text-anchor="start" font-weight="bold" fill="#000">(h)</text>
<text transform="translate(386.40,395.50) scale(0.99,1)" font-size="8.8" font-weight="bold">BiVO<tspan font-size="6" dy="2.3">3</tspan><tspan dy="-2.3" dx="5.4" font-size="8.8">@300K</tspan></text>
<text transform="translate(350.00,493.60) scale(0.95,1)" font-size="10.5" text-anchor="start" font-weight="bold" fill="#000">max</text>
<line x1="349.30" y1="494.00" x2="338.91" y2="498.20" stroke="#4a72c8" stroke-width="0.9"/>
<path d="M335.20,499.70 L338.31,496.72 L339.51,499.68 Z" fill="#3f68c8"/>
<text transform="translate(284.80,522.50) scale(0.93,1)" font-size="10.5" text-anchor="start" font-weight="bold" fill="#000">min</text>
<line x1="283.20" y1="519.30" x2="273.48" y2="513.78" stroke="#4a72c8" stroke-width="0.9"/>
<path d="M270.00,511.80 L274.27,512.38 L272.69,515.17 Z" fill="#3f68c8"/>
<circle cx="530.2" cy="448.4" r="4.1" fill="#9e1b12"/>
<rect x="528.75" y="425" width="2.9" height="20" fill="#2a2aff"/>
<path d="M530.2,415.5 L534.2,425.9 L526.1,425.9 Z" fill="#2a2aff"/>
<rect x="534" y="447" width="19" height="2.6" fill="#4de62a"/>
<path d="M563.2,448.4 L552.7,444.7 L552.7,452.2 Z" fill="#4de62a"/>
<text transform="translate(527.00,412.60) scale(1,1)" font-size="12" text-anchor="start" font-weight="bold" fill="#000">c</text>
<text transform="translate(566.70,451.80) scale(1,1)" font-size="12" text-anchor="start" font-weight="bold" fill="#000">b</text>
<text transform="translate(527.00,460.70) scale(1,1)" font-size="12" text-anchor="start" font-weight="bold" fill="#000">a</text>
<text transform="translate(588.40,441.80) scale(1,1)" font-size="16.4" text-anchor="start" font-weight="bold" fill="#000">side</text>
<circle cx="532.9" cy="517.2" r="4.1" fill="#1a1aa8"/>
<rect x="531.5" y="495" width="2.8" height="19" fill="#4de62a"/>
<path d="M532.9,485.7 L536.9,495.9 L529,495.9 Z" fill="#4de62a"/>
<rect x="536" y="515.9" width="19" height="2.6" fill="#e02a20"/>
<path d="M565.8,517.2 L554.4,513.2 L554.4,521.2 Z" fill="#e02a20"/>
<text transform="translate(529.00,482.50) scale(1,1)" font-size="12" text-anchor="start" font-weight="bold" fill="#000">b</text>
<text transform="translate(566.70,520.20) scale(1,1)" font-size="12" text-anchor="start" font-weight="bold" fill="#000">a</text>
<text transform="translate(530.00,528.50) scale(1,1)" font-size="12" text-anchor="start" font-weight="bold" fill="#000">c</text>
<text transform="translate(592.10,512.70) scale(1,1)" font-size="16.1" text-anchor="start" font-weight="bold" fill="#000">top</text>
</svg></body></html>
